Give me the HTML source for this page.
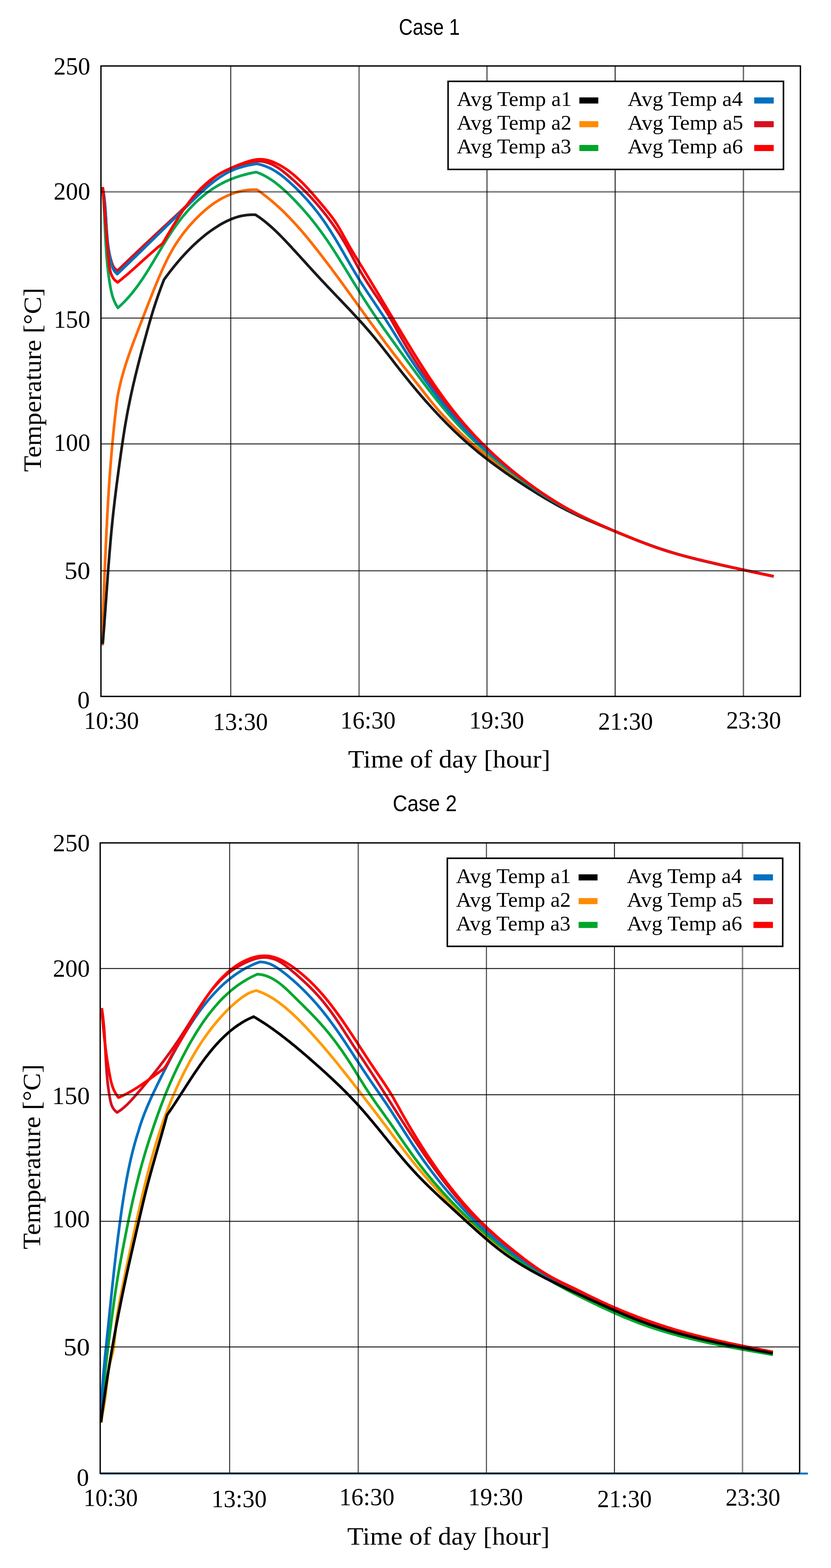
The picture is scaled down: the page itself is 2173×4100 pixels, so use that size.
<!DOCTYPE html>
<html><head><meta charset="utf-8"><title>Case 1 / Case 2</title>
<style>html,body{margin:0;padding:0;background:#fff;overflow:hidden;} svg{display:block;} text{fill:#000;}</style>
</head><body>
<svg width="2173" height="4100" viewBox="0 0 2173 4100">
<rect width="2173" height="4100" fill="#fff"/>
<path d="M267.9,1688.0 C268.0,1684.0 268.0,1680.0 268.1,1676.0 C268.1,1672.0 268.2,1668.0 268.3,1664.0 C268.3,1660.0 268.4,1656.0 268.5,1652.0 C268.6,1648.0 268.7,1644.0 268.8,1640.0 C268.9,1636.1 269.0,1632.1 269.1,1628.1 C269.2,1624.1 269.3,1620.1 269.4,1616.1 C269.5,1612.1 269.6,1608.1 269.8,1604.1 C269.9,1600.1 270.0,1596.1 270.1,1592.1 C270.3,1588.1 270.4,1584.1 270.5,1580.1 C270.7,1576.1 270.8,1572.1 270.9,1568.1 C271.1,1564.1 271.2,1560.1 271.4,1556.1 C271.5,1552.1 271.7,1548.1 271.8,1544.1 C272.0,1540.1 272.1,1536.1 272.3,1532.1 C272.4,1528.1 272.6,1524.1 272.8,1520.1 C272.9,1516.1 273.1,1512.1 273.2,1508.2 C273.4,1504.2 273.6,1500.2 273.7,1496.2 C273.9,1492.2 274.1,1488.2 274.2,1484.2 C274.4,1480.2 274.6,1476.2 274.7,1472.2 C274.9,1468.2 275.1,1464.2 275.2,1460.2 C275.4,1456.2 275.6,1452.2 275.8,1448.2 C275.9,1444.2 276.1,1440.2 276.3,1436.2 C276.5,1432.2 276.6,1428.2 276.8,1424.2 C277.0,1420.2 277.2,1416.2 277.4,1412.3 C277.6,1408.3 277.7,1404.3 277.9,1400.3 C278.1,1396.3 278.3,1392.3 278.5,1388.3 C278.7,1384.3 278.9,1380.3 279.1,1376.3 C279.3,1372.3 279.5,1368.3 279.7,1364.3 C279.9,1360.3 280.1,1356.3 280.3,1352.4 C280.5,1348.4 280.8,1344.4 281.0,1340.4 C281.2,1336.4 281.4,1332.4 281.6,1328.4 C281.9,1324.4 282.1,1320.4 282.3,1316.4 C282.6,1312.4 282.8,1308.4 283.0,1304.5 C283.3,1300.5 283.5,1296.5 283.8,1292.5 C284.0,1288.5 284.3,1284.5 284.5,1280.5 C284.8,1276.5 285.1,1272.5 285.3,1268.6 C285.6,1264.6 285.9,1260.6 286.1,1256.6 C286.4,1252.6 286.7,1248.6 287.0,1244.6 C287.3,1240.6 287.6,1236.7 287.8,1232.7 C288.1,1228.7 288.4,1224.7 288.8,1220.7 C289.1,1216.7 289.4,1212.7 289.7,1208.8 C290.0,1204.8 290.3,1200.8 290.7,1196.8 C291.0,1192.8 291.3,1188.8 291.7,1184.9 C292.0,1180.9 292.3,1176.9 292.7,1172.9 C293.0,1168.9 293.4,1164.9 293.8,1161.0 C294.1,1157.0 294.5,1153.0 294.9,1149.0 C295.3,1145.0 295.6,1141.1 296.0,1137.1 C296.4,1133.1 296.8,1129.1 297.2,1125.2 C297.6,1121.2 298.0,1117.2 298.4,1113.2 C298.9,1109.2 299.3,1105.3 299.7,1101.3 C300.1,1097.3 300.6,1093.3 301.0,1089.4 C301.5,1085.4 301.9,1081.4 302.4,1077.4 C302.8,1073.5 303.3,1069.5 303.8,1065.5 C304.2,1061.6 304.7,1057.6 305.2,1053.6 C305.7,1049.6 306.2,1045.7 306.7,1041.7 C307.4,1037.8 308.1,1033.8 308.8,1029.9 C309.6,1026.0 310.4,1022.1 311.2,1018.2 C312.0,1014.4 312.9,1010.5 313.8,1006.7 C314.7,1002.8 315.7,999.0 316.6,995.1 C317.6,991.3 318.6,987.5 319.7,983.7 C320.7,979.9 321.8,976.1 322.9,972.3 C324.0,968.5 325.1,964.7 326.3,961.0 C327.4,957.2 328.6,953.4 329.8,949.7 C331.0,945.9 332.2,942.2 333.5,938.4 C334.7,934.7 336.0,931.0 337.3,927.3 C338.6,923.5 339.9,919.8 341.2,916.1 C342.6,912.4 343.9,908.7 345.3,905.0 C346.6,901.2 348.0,897.5 349.4,893.8 C350.8,890.1 352.2,886.4 353.6,882.7 C355.0,879.0 356.4,875.4 357.8,871.7 C359.2,868.0 360.7,864.3 362.1,860.6 C363.5,856.9 365.0,853.2 366.4,849.5 C367.8,845.8 369.3,842.1 370.7,838.4 C372.1,834.7 373.6,831.0 375.0,827.3 C376.4,823.5 377.9,819.8 379.3,816.1 C380.8,812.4 382.2,808.7 383.6,805.0 C385.1,801.3 386.5,797.6 388.0,793.9 C389.4,790.2 390.9,786.5 392.3,782.8 C393.8,779.1 395.2,775.4 396.7,771.7 C398.2,768.0 399.6,764.3 401.1,760.6 C402.6,756.9 404.1,753.3 405.6,749.6 C407.1,745.9 408.6,742.3 410.1,738.6 C411.6,735.0 413.2,731.3 414.7,727.7 C416.2,724.1 417.8,720.5 419.4,716.9 C420.9,713.3 422.5,709.7 424.1,706.1 C425.7,702.5 427.3,699.0 429.0,695.4 C430.6,691.9 432.3,688.3 434.0,684.8 C435.7,681.3 437.5,677.8 439.2,674.3 C441.0,670.8 442.8,667.4 444.7,663.9 C446.6,660.5 448.5,657.1 450.4,653.7 C452.4,650.3 454.4,646.9 456.4,643.5 C458.5,640.2 460.6,636.8 462.8,633.5 C465.0,630.2 467.2,626.9 469.5,623.7 C471.8,620.4 474.1,617.2 476.5,614.0 C478.9,610.8 481.3,607.6 483.8,604.5 C486.3,601.4 488.8,598.3 491.4,595.2 C493.9,592.2 496.6,589.1 499.2,586.2 C501.9,583.2 504.6,580.2 507.3,577.3 C510.1,574.4 512.8,571.6 515.7,568.8 C518.5,566.0 521.3,563.2 524.2,560.5 C527.1,557.8 530.0,555.1 533.0,552.5 C535.9,549.9 538.9,547.3 542.0,544.8 C545.0,542.3 548.1,539.9 551.2,537.6 C554.4,535.2 557.6,532.9 560.8,530.7 C564.1,528.5 567.4,526.3 570.7,524.3 C574.1,522.2 577.5,520.3 580.9,518.4 C584.4,516.5 587.9,514.8 591.5,513.1 C595.1,511.4 598.7,509.8 602.4,508.4 C606.0,506.9 609.8,505.5 613.5,504.3 C617.3,503.1 621.0,502.0 624.9,501.0 C628.7,500.0 632.5,499.2 636.4,498.4 C640.3,497.7 644.2,497.2 648.2,496.7 C652.1,496.3 656.1,496.0 660.0,495.9 C664.0,495.8 668.0,496.0 672.0,496.0 C675.3,498.3 678.6,500.6 681.8,503.0 C685.1,505.3 688.3,507.7 691.4,510.2 C694.6,512.6 697.7,515.1 700.8,517.6 C704.0,520.1 707.0,522.6 710.1,525.2 C713.1,527.7 716.1,530.3 719.1,533.0 C722.1,535.6 725.1,538.3 728.0,540.9 C730.9,543.6 733.8,546.3 736.7,549.1 C739.6,551.8 742.5,554.6 745.3,557.4 C748.1,560.2 750.9,563.0 753.7,565.9 C756.5,568.7 759.2,571.6 762.0,574.5 C764.7,577.4 767.4,580.3 770.1,583.2 C772.8,586.1 775.5,589.1 778.2,592.1 C780.8,595.0 783.4,598.0 786.1,601.0 C788.7,604.0 791.3,607.1 793.9,610.1 C796.5,613.2 799.0,616.2 801.6,619.3 C804.1,622.3 806.7,625.4 809.2,628.5 C811.7,631.6 814.2,634.7 816.7,637.8 C819.2,640.9 821.7,644.1 824.2,647.2 C826.7,650.3 829.1,653.5 831.6,656.6 C834.0,659.8 836.5,662.9 838.9,666.1 C841.4,669.3 843.8,672.4 846.2,675.6 C848.6,678.8 851.1,681.9 853.5,685.1 C855.9,688.3 858.3,691.5 860.7,694.7 C863.1,697.8 865.5,701.0 867.8,704.2 C870.2,707.4 872.6,710.6 875.0,713.8 C877.3,717.0 879.7,720.2 882.1,723.4 C884.4,726.6 886.8,729.8 889.1,733.1 C891.5,736.3 893.8,739.5 896.2,742.7 C898.5,745.9 900.9,749.1 903.2,752.4 C905.6,755.6 907.9,758.8 910.2,762.0 C912.6,765.2 914.9,768.5 917.2,771.7 C919.6,774.9 921.9,778.1 924.2,781.4 C926.5,784.6 928.9,787.8 931.2,791.0 C933.5,794.3 935.9,797.5 938.2,800.7 C940.5,804.0 942.8,807.2 945.2,810.4 C947.5,813.6 949.8,816.9 952.2,820.1 C954.5,823.3 956.8,826.6 959.2,829.8 C961.5,833.0 963.8,836.2 966.2,839.5 C968.5,842.7 970.8,845.9 973.2,849.1 C975.5,852.4 977.9,855.6 980.2,858.8 C982.6,862.0 984.9,865.2 987.3,868.4 C989.7,871.6 992.0,874.9 994.4,878.1 C996.8,881.3 999.1,884.5 1001.5,887.7 C1003.9,890.9 1006.3,894.1 1008.7,897.3 C1011.1,900.5 1013.5,903.7 1015.9,906.9 C1018.3,910.1 1020.7,913.2 1023.1,916.4 C1025.5,919.6 1027.9,922.8 1030.4,926.0 C1032.8,929.1 1035.2,932.3 1037.7,935.5 C1040.1,938.6 1042.6,941.8 1045.0,944.9 C1047.5,948.1 1050.0,951.3 1052.4,954.4 C1054.9,957.6 1057.4,960.7 1059.8,963.9 C1062.3,967.0 1064.8,970.1 1067.3,973.3 C1069.7,976.4 1072.2,979.6 1074.7,982.7 C1077.1,985.8 1079.6,989.0 1082.1,992.1 C1084.6,995.2 1087.0,998.4 1089.5,1001.5 C1091.9,1004.6 1094.4,1007.8 1096.8,1010.9 C1099.3,1014.0 1101.7,1017.2 1104.2,1020.3 C1106.6,1023.4 1109.0,1026.5 1111.5,1029.7 C1113.9,1032.8 1116.4,1035.9 1118.8,1039.0 C1121.3,1042.1 1123.8,1045.2 1126.2,1048.3 C1128.7,1051.4 1131.2,1054.5 1133.8,1057.5 C1136.3,1060.6 1138.9,1063.6 1141.5,1066.7 C1144.0,1069.7 1146.7,1072.7 1149.3,1075.7 C1152.0,1078.7 1154.6,1081.7 1157.3,1084.6 C1160.0,1087.6 1162.7,1090.5 1165.5,1093.5 C1168.2,1096.4 1170.9,1099.3 1173.7,1102.2 C1176.5,1105.1 1179.3,1107.9 1182.1,1110.8 C1184.9,1113.6 1187.8,1116.5 1190.6,1119.3 C1193.5,1122.1 1196.3,1124.9 1199.2,1127.6 C1202.1,1130.4 1205.0,1133.1 1207.9,1135.8 C1210.8,1138.6 1213.8,1141.3 1216.7,1143.9 C1219.6,1146.6 1222.6,1149.3 1225.5,1151.9 C1228.5,1154.6 1231.5,1157.2 1234.5,1159.8 C1237.5,1162.4 1240.5,1165.0 1243.5,1167.5 C1246.5,1170.1 1249.5,1172.6 1252.6,1175.2 C1255.6,1177.7 1258.6,1180.2 1261.7,1182.7 C1264.8,1185.2 1267.9,1187.7 1270.9,1190.2 C1274.0,1192.6 1277.1,1195.1 1280.2,1197.6 C1283.4,1200.0 1286.5,1202.4 1289.6,1204.9 C1292.7,1207.3 1295.9,1209.7 1299.0,1212.1 C1302.2,1214.5 1305.4,1216.9 1308.6,1219.3 C1311.7,1221.7 1314.9,1224.0 1318.1,1226.4 C1321.3,1228.8 1324.5,1231.1 1327.8,1233.5 C1331.0,1235.9 1334.2,1238.2 1337.5,1240.5 C1340.7,1242.9 1344.0,1245.2 1347.2,1247.6 C1350.5,1249.9 1353.8,1252.2 1357.1,1254.5 C1360.4,1256.9 1363.7,1259.2 1367.0,1261.5 C1370.3,1263.8 1373.6,1266.1 1376.9,1268.3 C1380.3,1270.6 1383.6,1272.9 1386.9,1275.1 C1390.3,1277.4 1393.6,1279.6 1397.0,1281.8 C1400.4,1284.1 1403.7,1286.3 1407.1,1288.5 C1410.5,1290.7 1413.9,1292.8 1417.3,1295.0 C1420.7,1297.1 1424.1,1299.3 1427.6,1301.4 C1431.0,1303.5 1434.4,1305.6 1437.9,1307.6 C1441.3,1309.7 1444.7,1311.7 1448.2,1313.7 C1451.7,1315.8 1455.1,1317.7 1458.6,1319.7 C1462.1,1321.7 1465.6,1323.6 1469.1,1325.5 C1472.5,1327.4 1476.0,1329.3 1479.6,1331.1 C1483.1,1333.0 1486.6,1334.8 1490.1,1336.6 C1493.6,1338.4 1497.2,1340.1 1500.7,1341.9 C1504.3,1343.6 1507.8,1345.3 1511.4,1347.0 C1514.9,1348.7 1518.5,1350.4 1522.1,1352.0 C1525.6,1353.7 1529.2,1355.3 1532.8,1357.0 C1536.4,1358.6 1540.0,1360.2 1543.6,1361.8 C1547.2,1363.4 1550.8,1365.0 1554.4,1366.6 C1558.0,1368.2 1561.6,1369.8 1565.3,1371.3 C1568.9,1372.9 1572.5,1374.5 1576.2,1376.1 C1579.8,1377.6 1583.5,1379.2 1587.1,1380.8 C1590.8,1382.3 1594.5,1383.9 1598.1,1385.4 C1601.8,1387.0 1605.5,1388.5 1609.2,1390.1 C1612.8,1391.6 1616.5,1393.1 1620.2,1394.7 C1623.9,1396.2 1627.6,1397.7 1631.3,1399.2 C1635.0,1400.7 1638.7,1402.2 1642.5,1403.7 C1646.2,1405.2 1649.9,1406.6 1653.6,1408.1 C1657.4,1409.5 1661.1,1411.0 1664.8,1412.4 C1668.6,1413.9 1672.3,1415.3 1676.1,1416.7 C1679.8,1418.1 1683.6,1419.5 1687.3,1420.9 C1691.1,1422.3 1694.9,1423.6 1698.6,1425.0 C1702.4,1426.3 1706.2,1427.6 1710.0,1429.0 C1713.7,1430.3 1717.5,1431.6 1721.3,1432.9 C1725.1,1434.1 1728.9,1435.4 1732.7,1436.6 C1736.5,1437.9 1740.3,1439.1 1744.1,1440.3 C1747.9,1441.5 1751.7,1442.7 1755.5,1443.8 C1759.3,1445.0 1763.2,1446.1 1767.0,1447.3 C1770.8,1448.4 1774.6,1449.5 1778.5,1450.6 C1782.3,1451.7 1786.1,1452.7 1790.0,1453.8 C1793.8,1454.9 1797.6,1455.9 1801.5,1456.9 C1805.3,1458.0 1809.2,1459.0 1813.0,1460.0 C1816.9,1461.0 1820.7,1462.0 1824.6,1462.9 C1828.4,1463.9 1832.3,1464.9 1836.2,1465.8 C1840.0,1466.8 1843.9,1467.7 1847.8,1468.6 C1851.6,1469.6 1855.5,1470.5 1859.4,1471.4 C1863.2,1472.3 1867.1,1473.2 1871.0,1474.1 C1874.9,1475.0 1878.7,1475.9 1882.6,1476.7 C1886.5,1477.6 1890.4,1478.5 1894.3,1479.3 C1898.2,1480.2 1902.1,1481.1 1905.9,1481.9 C1909.8,1482.8 1913.7,1483.6 1917.6,1484.4 C1921.5,1485.3 1925.4,1486.1 1929.3,1487.0 C1933.2,1487.8 1937.1,1488.6 1941.0,1489.5 C1944.9,1490.3 1948.8,1491.1 1952.7,1491.9 C1956.6,1492.8 1960.5,1493.6 1964.4,1494.4 C1968.3,1495.3 1972.2,1496.1 1976.1,1496.9 C1980.0,1497.7 1983.9,1498.6 1987.8,1499.4 C1991.7,1500.2 1995.6,1501.1 1999.6,1501.9 C2003.5,1502.8 2007.4,1503.6 2011.3,1504.4 C2015.2,1505.3 2019.1,1506.1 2023.0,1507.0" fill="none" stroke="#FF6A00" stroke-width="7" stroke-linejoin="round" stroke-linecap="butt"/>
<path d="M268.6,1684.0 C268.9,1680.0 269.3,1676.1 269.6,1672.1 C269.9,1668.1 270.2,1664.2 270.5,1660.2 C270.8,1656.2 271.1,1652.2 271.5,1648.3 C271.8,1644.3 272.1,1640.3 272.4,1636.3 C272.7,1632.4 273.0,1628.4 273.2,1624.4 C273.5,1620.4 273.8,1616.5 274.1,1612.5 C274.4,1608.5 274.7,1604.5 275.0,1600.6 C275.3,1596.6 275.6,1592.6 275.9,1588.6 C276.1,1584.6 276.4,1580.7 276.7,1576.7 C277.0,1572.7 277.3,1568.7 277.6,1564.7 C277.8,1560.8 278.1,1556.8 278.4,1552.8 C278.7,1548.8 279.0,1544.8 279.3,1540.8 C279.5,1536.9 279.8,1532.9 280.1,1528.9 C280.4,1524.9 280.7,1520.9 281.0,1516.9 C281.3,1513.0 281.6,1509.0 281.8,1505.0 C282.1,1501.0 282.4,1497.0 282.7,1493.0 C283.0,1489.1 283.3,1485.1 283.6,1481.1 C283.9,1477.1 284.2,1473.1 284.6,1469.1 C284.9,1465.2 285.2,1461.2 285.5,1457.2 C285.8,1453.2 286.1,1449.2 286.5,1445.2 C286.8,1441.3 287.1,1437.3 287.5,1433.3 C287.8,1429.3 288.1,1425.3 288.5,1421.3 C288.8,1417.4 289.2,1413.4 289.5,1409.4 C289.9,1405.4 290.2,1401.4 290.6,1397.5 C291.0,1393.5 291.3,1389.5 291.7,1385.5 C292.1,1381.5 292.5,1377.6 292.9,1373.6 C293.3,1369.6 293.7,1365.6 294.1,1361.6 C294.5,1357.7 294.9,1353.7 295.3,1349.7 C295.8,1345.7 296.2,1341.7 296.6,1337.8 C297.1,1333.8 297.5,1329.8 298.0,1325.8 C298.4,1321.9 298.9,1317.9 299.4,1313.9 C299.8,1310.0 300.3,1306.0 300.8,1302.0 C301.3,1298.0 301.7,1294.1 302.2,1290.1 C302.7,1286.1 303.2,1282.2 303.7,1278.2 C304.2,1274.2 304.7,1270.3 305.2,1266.3 C305.8,1262.3 306.3,1258.4 306.8,1254.4 C307.3,1250.4 307.8,1246.5 308.4,1242.5 C308.9,1238.6 309.4,1234.6 310.0,1230.6 C310.5,1226.7 311.0,1222.7 311.6,1218.8 C312.1,1214.8 312.7,1210.9 313.2,1206.9 C313.8,1202.9 314.3,1199.0 314.9,1195.0 C315.4,1191.1 316.0,1187.1 316.5,1183.2 C317.1,1179.2 317.7,1175.3 318.2,1171.3 C318.8,1167.4 319.4,1163.5 320.0,1159.5 C320.5,1155.6 321.1,1151.6 321.7,1147.7 C322.3,1143.8 322.9,1139.8 323.5,1135.9 C324.2,1131.9 324.8,1128.0 325.4,1124.1 C326.0,1120.1 326.7,1116.2 327.3,1112.3 C328.0,1108.4 328.7,1104.4 329.4,1100.5 C330.0,1096.6 330.7,1092.6 331.5,1088.7 C332.2,1084.8 332.9,1080.9 333.6,1077.0 C334.4,1073.0 335.1,1069.1 335.9,1065.2 C336.7,1061.3 337.5,1057.4 338.3,1053.5 C339.1,1049.6 339.9,1045.7 340.7,1041.8 C341.5,1037.8 342.4,1033.9 343.2,1030.0 C344.1,1026.1 344.9,1022.2 345.8,1018.3 C346.7,1014.4 347.5,1010.5 348.4,1006.6 C349.3,1002.8 350.2,998.9 351.2,995.0 C352.1,991.1 353.0,987.2 353.9,983.3 C354.9,979.4 355.8,975.6 356.8,971.7 C357.7,967.8 358.7,963.9 359.7,960.0 C360.6,956.2 361.6,952.3 362.6,948.4 C363.6,944.6 364.6,940.7 365.6,936.8 C366.6,933.0 367.6,929.1 368.6,925.2 C369.6,921.4 370.7,917.5 371.7,913.7 C372.7,909.8 373.7,906.0 374.8,902.1 C375.8,898.3 376.9,894.4 377.9,890.6 C379.0,886.7 380.0,882.9 381.1,879.1 C382.1,875.2 383.2,871.4 384.2,867.6 C385.3,863.7 386.4,859.9 387.5,856.1 C388.5,852.2 389.6,848.4 390.7,844.6 C391.8,840.8 392.9,837.0 394.0,833.2 C395.2,829.3 396.3,825.5 397.4,821.7 C398.6,817.9 399.8,814.1 400.9,810.3 C402.1,806.5 403.3,802.7 404.6,798.9 C405.8,795.1 407.0,791.3 408.3,787.6 C409.6,783.8 410.9,780.0 412.2,776.2 C413.5,772.4 414.8,768.6 416.2,764.9 C417.6,761.1 418.9,757.3 420.3,753.6 C421.7,749.8 423.2,746.0 424.6,742.3 C426.0,738.5 427.5,734.8 429.0,731.0 C431.3,727.9 433.5,724.8 435.8,721.7 C438.1,718.6 440.5,715.6 442.8,712.5 C445.2,709.4 447.6,706.4 450.0,703.3 C452.4,700.3 454.8,697.2 457.3,694.2 C459.8,691.2 462.3,688.2 464.8,685.2 C467.3,682.3 469.9,679.3 472.4,676.4 C475.0,673.4 477.6,670.5 480.3,667.6 C482.9,664.7 485.6,661.8 488.3,659.0 C491.0,656.2 493.7,653.4 496.5,650.6 C499.3,647.8 502.1,645.0 504.9,642.3 C507.7,639.6 510.6,636.9 513.5,634.3 C516.4,631.6 519.3,629.0 522.3,626.5 C525.2,623.9 528.2,621.4 531.3,618.9 C534.3,616.4 537.3,614.0 540.4,611.6 C543.5,609.2 546.7,606.8 549.8,604.5 C553.0,602.2 556.2,600.0 559.4,597.8 C562.7,595.6 566.0,593.4 569.3,591.4 C572.6,589.3 575.9,587.3 579.3,585.4 C582.7,583.4 586.1,581.6 589.6,579.8 C593.0,578.1 596.5,576.4 600.1,574.9 C603.6,573.4 607.2,571.9 610.8,570.6 C614.4,569.3 618.1,568.1 621.7,567.0 C625.4,566.0 629.2,565.0 632.9,564.3 C636.7,563.5 640.5,562.8 644.4,562.4 C648.2,561.9 652.1,561.6 656.1,561.4 C660.0,561.3 664.0,561.5 668.0,561.5 C671.3,563.7 674.7,565.9 678.0,568.2 C681.3,570.5 684.5,572.9 687.6,575.3 C690.8,577.7 693.9,580.2 697.0,582.8 C700.1,585.3 703.1,587.9 706.1,590.5 C709.1,593.1 712.1,595.8 715.0,598.5 C717.9,601.2 720.8,603.9 723.7,606.7 C726.5,609.4 729.4,612.2 732.2,615.1 C735.0,617.9 737.8,620.7 740.5,623.6 C743.3,626.5 746.1,629.4 748.8,632.3 C751.5,635.2 754.3,638.1 757.0,641.0 C759.7,643.9 762.4,646.9 765.1,649.8 C767.8,652.8 770.5,655.7 773.2,658.6 C775.9,661.6 778.6,664.5 781.3,667.5 C784.0,670.4 786.6,673.4 789.3,676.3 C792.0,679.3 794.7,682.2 797.4,685.2 C800.1,688.2 802.8,691.1 805.4,694.1 C808.1,697.0 810.8,700.0 813.5,702.9 C816.2,705.9 818.9,708.8 821.6,711.8 C824.3,714.7 827.0,717.6 829.7,720.6 C832.4,723.5 835.1,726.4 837.8,729.4 C840.5,732.3 843.3,735.2 846.0,738.1 C848.7,741.0 851.5,743.9 854.2,746.8 C857.0,749.8 859.7,752.6 862.5,755.5 C865.2,758.4 868.0,761.3 870.7,764.2 C873.5,767.1 876.2,770.0 879.0,772.9 C881.8,775.8 884.5,778.7 887.3,781.5 C890.0,784.4 892.8,787.3 895.6,790.2 C898.3,793.1 901.1,796.0 903.8,798.9 C906.6,801.8 909.3,804.7 912.1,807.6 C914.8,810.5 917.5,813.4 920.3,816.3 C923.0,819.2 925.7,822.1 928.4,825.1 C931.1,828.0 933.8,830.9 936.5,833.9 C939.2,836.8 941.9,839.7 944.6,842.7 C947.2,845.7 949.9,848.6 952.6,851.6 C955.2,854.6 957.8,857.6 960.5,860.6 C963.1,863.6 965.7,866.6 968.3,869.6 C970.9,872.7 973.4,875.7 976.0,878.7 C978.6,881.8 981.1,884.9 983.6,888.0 C986.2,891.0 988.7,894.1 991.2,897.2 C993.7,900.3 996.2,903.5 998.6,906.6 C1001.1,909.7 1003.6,912.8 1006.0,916.0 C1008.5,919.1 1011.0,922.3 1013.4,925.4 C1015.9,928.6 1018.3,931.7 1020.8,934.9 C1023.2,938.0 1025.6,941.2 1028.1,944.3 C1030.5,947.5 1033.0,950.6 1035.4,953.8 C1037.9,957.0 1040.3,960.1 1042.8,963.3 C1045.3,966.4 1047.7,969.6 1050.2,972.7 C1052.7,975.8 1055.2,979.0 1057.7,982.1 C1060.2,985.2 1062.7,988.3 1065.2,991.4 C1067.7,994.6 1070.2,997.7 1072.7,1000.8 C1075.3,1003.9 1077.8,1006.9 1080.4,1010.0 C1082.9,1013.1 1085.5,1016.2 1088.1,1019.2 C1090.6,1022.3 1093.2,1025.4 1095.8,1028.4 C1098.4,1031.5 1101.0,1034.5 1103.6,1037.5 C1106.2,1040.5 1108.9,1043.6 1111.5,1046.6 C1114.1,1049.6 1116.8,1052.6 1119.4,1055.5 C1122.1,1058.5 1124.8,1061.5 1127.5,1064.5 C1130.1,1067.4 1132.8,1070.4 1135.6,1073.3 C1138.3,1076.2 1141.0,1079.2 1143.7,1082.1 C1146.4,1085.0 1149.2,1087.9 1151.9,1090.8 C1154.7,1093.6 1157.5,1096.5 1160.3,1099.4 C1163.0,1102.2 1165.8,1105.1 1168.7,1107.9 C1171.5,1110.7 1174.3,1113.5 1177.1,1116.3 C1180.0,1119.1 1182.8,1121.9 1185.7,1124.7 C1188.5,1127.4 1191.4,1130.2 1194.3,1132.9 C1197.2,1135.7 1200.1,1138.4 1203.0,1141.1 C1206.0,1143.8 1208.9,1146.5 1211.9,1149.1 C1214.8,1151.8 1217.8,1154.4 1220.8,1157.1 C1223.8,1159.7 1226.8,1162.3 1229.8,1164.9 C1232.8,1167.5 1235.8,1170.1 1238.9,1172.6 C1241.9,1175.2 1245.0,1177.7 1248.0,1180.2 C1251.1,1182.8 1254.2,1185.3 1257.3,1187.8 C1260.4,1190.2 1263.5,1192.7 1266.7,1195.2 C1269.8,1197.6 1272.9,1200.1 1276.1,1202.5 C1279.2,1204.9 1282.4,1207.3 1285.6,1209.7 C1288.8,1212.1 1292.0,1214.5 1295.2,1216.9 C1298.4,1219.2 1301.6,1221.6 1304.9,1223.9 C1308.1,1226.2 1311.3,1228.6 1314.6,1230.9 C1317.9,1233.2 1321.1,1235.5 1324.4,1237.8 C1327.7,1240.0 1331.0,1242.3 1334.3,1244.6 C1337.6,1246.8 1340.9,1249.1 1344.2,1251.3 C1347.5,1253.6 1350.9,1255.8 1354.2,1258.0 C1357.6,1260.2 1360.9,1262.4 1364.3,1264.6 C1367.6,1266.8 1371.0,1269.0 1374.4,1271.2 C1377.8,1273.3 1381.2,1275.5 1384.6,1277.7 C1388.0,1279.8 1391.4,1282.0 1394.8,1284.1 C1398.2,1286.2 1401.6,1288.4 1405.0,1290.5 C1408.5,1292.6 1411.9,1294.7 1415.4,1296.8 C1418.8,1298.9 1422.3,1300.9 1425.7,1303.0 C1429.2,1305.0 1432.7,1307.1 1436.1,1309.1 C1439.6,1311.1 1443.1,1313.1 1446.6,1315.0 C1450.1,1317.0 1453.6,1318.9 1457.1,1320.9 C1460.6,1322.8 1464.1,1324.7 1467.7,1326.6 C1471.2,1328.4 1474.7,1330.3 1478.3,1332.1 C1481.8,1333.9 1485.4,1335.7 1488.9,1337.4 C1492.5,1339.2 1496.0,1340.9 1499.6,1342.7 C1503.2,1344.4 1506.7,1346.1 1510.3,1347.7 C1513.9,1349.4 1517.5,1351.0 1521.1,1352.7 C1524.7,1354.3 1528.3,1355.9 1531.9,1357.5 C1535.5,1359.1 1539.1,1360.7 1542.8,1362.3 C1546.4,1363.8 1550.0,1365.4 1553.6,1366.9 C1557.3,1368.5 1560.9,1370.0 1564.6,1371.5 C1568.2,1373.1 1571.9,1374.6 1575.5,1376.1 C1579.2,1377.6 1582.9,1379.1 1586.5,1380.6 C1590.2,1382.1 1593.9,1383.6 1597.6,1385.1 C1601.2,1386.6 1604.9,1388.1 1608.6,1389.6 C1612.3,1391.1 1616.0,1392.6 1619.7,1394.1 C1623.4,1395.6 1627.2,1397.1 1630.9,1398.6 C1634.6,1400.1 1638.3,1401.6 1642.0,1403.0 C1645.8,1404.5 1649.5,1406.0 1653.2,1407.5 C1657.0,1409.0 1660.7,1410.4 1664.5,1411.9 C1668.2,1413.3 1672.0,1414.8 1675.7,1416.2 C1679.5,1417.6 1683.2,1419.1 1687.0,1420.5 C1690.8,1421.9 1694.5,1423.3 1698.3,1424.7 C1702.1,1426.0 1705.9,1427.4 1709.7,1428.7 C1713.4,1430.1 1717.2,1431.4 1721.0,1432.7 C1724.8,1434.0 1728.6,1435.3 1732.4,1436.6 C1736.2,1437.9 1740.0,1439.1 1743.8,1440.3 C1747.6,1441.6 1751.5,1442.8 1755.3,1443.9 C1759.1,1445.1 1762.9,1446.3 1766.7,1447.4 C1770.6,1448.5 1774.4,1449.6 1778.2,1450.7 C1782.1,1451.8 1785.9,1452.9 1789.7,1454.0 C1793.6,1455.0 1797.4,1456.1 1801.3,1457.1 C1805.1,1458.1 1808.9,1459.1 1812.8,1460.1 C1816.7,1461.1 1820.5,1462.1 1824.4,1463.1 C1828.2,1464.0 1832.1,1465.0 1835.9,1465.9 C1839.8,1466.9 1843.7,1467.8 1847.5,1468.7 C1851.4,1469.6 1855.3,1470.5 1859.2,1471.4 C1863.0,1472.3 1866.9,1473.2 1870.8,1474.1 C1874.7,1475.0 1878.6,1475.8 1882.4,1476.7 C1886.3,1477.6 1890.2,1478.4 1894.1,1479.3 C1898.0,1480.1 1901.9,1480.9 1905.8,1481.8 C1909.7,1482.6 1913.6,1483.5 1917.5,1484.3 C1921.3,1485.1 1925.2,1486.0 1929.1,1486.8 C1933.0,1487.6 1936.9,1488.4 1940.9,1489.3 C1944.8,1490.1 1948.7,1490.9 1952.6,1491.7 C1956.5,1492.6 1960.4,1493.4 1964.3,1494.2 C1968.2,1495.1 1972.1,1495.9 1976.0,1496.7 C1979.9,1497.6 1983.8,1498.4 1987.8,1499.2 C1991.7,1500.1 1995.6,1500.9 1999.5,1501.8 C2003.4,1502.6 2007.3,1503.5 2011.2,1504.4 C2015.2,1505.2 2019.1,1506.1 2023.0,1507.0" fill="none" stroke="#1a1a1a" stroke-width="7" stroke-linejoin="round" stroke-linecap="butt"/>
<path d="M268.3,490.0 C268.6,493.8 269.0,497.6 269.3,501.5 C269.6,505.3 269.9,509.2 270.1,513.0 C270.4,516.9 270.7,520.8 270.9,524.7 C271.2,528.6 271.4,532.5 271.6,536.4 C271.8,540.4 272.0,544.3 272.2,548.2 C272.4,552.2 272.6,556.2 272.8,560.1 C273.0,564.1 273.2,568.1 273.4,572.0 C273.6,576.0 273.7,580.0 273.9,584.0 C274.1,588.0 274.3,592.0 274.5,596.0 C274.7,600.0 274.8,604.0 275.0,608.0 C275.2,612.0 275.4,616.0 275.6,620.0 C275.8,624.0 276.0,628.0 276.3,632.0 C276.5,636.0 276.7,640.0 277.0,644.0 C277.2,648.0 277.5,652.0 277.7,656.0 C278.0,660.0 278.3,664.0 278.6,668.0 C278.9,671.9 279.2,675.9 279.6,679.9 C279.9,683.8 280.3,687.8 280.7,691.7 C281.1,695.7 281.5,699.6 281.9,703.5 C282.4,707.5 282.8,711.4 283.3,715.3 C283.8,719.2 284.3,723.1 284.9,726.9 C285.4,730.8 286.0,734.6 286.6,738.5 C287.2,742.3 287.9,746.1 288.6,749.9 C289.3,753.7 290.0,757.5 290.8,761.3 C291.7,765.0 292.6,768.8 293.6,772.5 C294.7,776.2 295.9,779.9 297.3,783.5 C298.7,787.2 300.3,790.8 302.1,794.4 C303.9,798.0 306.2,801.5 308.3,805.0 C311.3,802.3 314.3,799.6 317.3,796.8 C320.2,794.0 323.0,791.2 325.8,788.4 C328.6,785.5 331.3,782.6 333.9,779.6 C336.6,776.7 339.2,773.7 341.7,770.7 C344.3,767.7 346.8,764.6 349.2,761.5 C351.7,758.5 354.1,755.3 356.4,752.2 C358.8,749.0 361.1,745.8 363.4,742.6 C365.7,739.4 367.9,736.2 370.1,733.0 C372.3,729.7 374.5,726.4 376.7,723.1 C378.8,719.8 381.0,716.5 383.1,713.2 C385.2,709.9 387.3,706.5 389.3,703.2 C391.4,699.8 393.5,696.4 395.5,693.0 C397.6,689.7 399.6,686.3 401.6,682.9 C403.7,679.5 405.7,676.1 407.7,672.7 C409.7,669.2 411.8,665.8 413.8,662.4 C415.8,659.0 417.8,655.6 419.9,652.2 C421.9,648.8 424.0,645.4 426.0,642.0 C428.1,638.6 430.2,635.2 432.3,631.8 C434.4,628.4 436.5,625.1 438.6,621.7 C440.7,618.4 442.9,615.0 445.1,611.7 C447.3,608.4 449.5,605.1 451.7,601.8 C454.0,598.5 456.3,595.2 458.6,592.0 C460.9,588.7 463.2,585.5 465.6,582.3 C468.0,579.1 470.4,575.9 472.9,572.8 C475.4,569.6 477.9,566.5 480.4,563.4 C483.0,560.4 485.6,557.3 488.2,554.3 C490.8,551.3 493.5,548.3 496.2,545.4 C498.9,542.5 501.7,539.6 504.5,536.7 C507.3,533.9 510.1,531.1 513.0,528.3 C515.9,525.6 518.8,522.9 521.8,520.3 C524.8,517.6 527.8,515.0 530.8,512.5 C533.9,510.0 537.0,507.5 540.1,505.1 C543.3,502.7 546.4,500.4 549.7,498.1 C552.9,495.9 556.1,493.7 559.5,491.6 C562.8,489.4 566.1,487.4 569.5,485.4 C572.9,483.5 576.3,481.6 579.8,479.7 C583.3,477.9 586.8,476.2 590.3,474.5 C593.9,472.9 597.5,471.3 601.1,469.8 C604.8,468.2 608.4,466.8 612.1,465.4 C615.8,464.1 619.6,462.8 623.4,461.5 C627.1,460.3 630.9,459.2 634.8,458.1 C638.6,457.0 642.5,456.0 646.4,455.0 C650.3,454.0 654.2,453.1 658.1,452.3 C662.1,451.5 666.0,450.8 670.0,450.0 C673.6,451.4 677.3,452.7 680.9,454.3 C684.5,455.9 688.0,457.6 691.5,459.4 C695.0,461.2 698.4,463.2 701.7,465.2 C705.1,467.3 708.4,469.4 711.7,471.7 C715.0,473.9 718.2,476.3 721.4,478.7 C724.5,481.1 727.7,483.6 730.8,486.2 C733.9,488.8 736.9,491.4 739.9,494.1 C743.0,496.8 745.9,499.5 748.9,502.3 C751.9,505.0 754.8,507.9 757.7,510.7 C760.5,513.5 763.4,516.4 766.2,519.3 C769.1,522.2 771.9,525.1 774.6,528.0 C777.4,530.9 780.2,533.8 782.9,536.8 C785.6,539.7 788.3,542.7 791.0,545.7 C793.6,548.7 796.3,551.7 798.9,554.7 C801.5,557.7 804.1,560.8 806.7,563.8 C809.2,566.9 811.8,570.0 814.3,573.0 C816.8,576.1 819.3,579.2 821.7,582.4 C824.2,585.5 826.6,588.6 829.0,591.8 C831.4,595.0 833.8,598.1 836.2,601.3 C838.6,604.5 840.9,607.7 843.2,611.0 C845.5,614.2 847.8,617.4 850.1,620.7 C852.4,623.9 854.6,627.2 856.9,630.5 C859.1,633.8 861.3,637.1 863.5,640.4 C865.7,643.7 867.9,647.0 870.1,650.3 C872.2,653.7 874.4,657.0 876.5,660.4 C878.7,663.7 880.8,667.1 882.9,670.4 C885.1,673.8 887.2,677.2 889.3,680.6 C891.4,683.9 893.5,687.3 895.6,690.7 C897.7,694.1 899.8,697.5 901.9,700.9 C903.9,704.3 906.0,707.7 908.1,711.1 C910.2,714.6 912.3,718.0 914.4,721.4 C916.4,724.8 918.5,728.2 920.6,731.6 C922.7,735.1 924.8,738.5 926.9,741.9 C929.0,745.3 931.1,748.7 933.2,752.1 C935.3,755.5 937.4,759.0 939.5,762.4 C941.7,765.8 943.8,769.2 946.0,772.6 C948.1,776.0 950.3,779.4 952.4,782.8 C954.6,786.2 956.8,789.5 959.0,792.9 C961.1,796.3 963.3,799.7 965.5,803.0 C967.7,806.4 970.0,809.7 972.2,813.1 C974.4,816.4 976.6,819.7 978.9,823.1 C981.1,826.4 983.3,829.7 985.6,833.0 C987.8,836.3 990.1,839.6 992.4,842.9 C994.6,846.1 996.9,849.4 999.2,852.7 C1001.4,855.9 1003.7,859.2 1006.0,862.4 C1008.3,865.6 1010.6,868.9 1012.9,872.1 C1015.2,875.3 1017.5,878.6 1019.8,881.8 C1022.1,885.0 1024.5,888.2 1026.8,891.4 C1029.1,894.6 1031.4,897.8 1033.7,901.1 C1036.1,904.3 1038.4,907.5 1040.7,910.7 C1043.1,913.9 1045.4,917.1 1047.7,920.3 C1050.1,923.5 1052.4,926.8 1054.8,930.0 C1057.1,933.2 1059.5,936.4 1061.8,939.7 C1064.2,942.9 1066.5,946.1 1068.9,949.3 C1071.2,952.6 1073.6,955.8 1076.0,959.0 C1078.3,962.3 1080.7,965.5 1083.1,968.7 C1085.5,971.9 1087.9,975.2 1090.3,978.4 C1092.6,981.6 1095.0,984.8 1097.4,988.0 C1099.9,991.2 1102.3,994.5 1104.7,997.7 C1107.1,1000.9 1109.5,1004.1 1112.0,1007.3 C1114.4,1010.5 1116.8,1013.6 1119.3,1016.8 C1121.7,1020.0 1124.2,1023.2 1126.7,1026.3 C1129.2,1029.5 1131.6,1032.7 1134.1,1035.8 C1136.6,1039.0 1139.1,1042.1 1141.6,1045.2 C1144.1,1048.4 1146.7,1051.5 1149.2,1054.6 C1151.7,1057.7 1154.3,1060.8 1156.9,1063.9 C1159.4,1066.9 1162.0,1070.0 1164.6,1073.1 C1167.2,1076.1 1169.8,1079.2 1172.4,1082.2 C1175.0,1085.2 1177.6,1088.2 1180.3,1091.2 C1182.9,1094.2 1185.5,1097.2 1188.2,1100.2 C1190.9,1103.1 1193.6,1106.1 1196.3,1109.0 C1199.0,1111.9 1201.7,1114.9 1204.4,1117.7 C1207.2,1120.6 1209.9,1123.5 1212.7,1126.4 C1215.5,1129.2 1218.3,1132.0 1221.1,1134.8 C1223.9,1137.7 1226.7,1140.4 1229.5,1143.2 C1232.4,1146.0 1235.2,1148.7 1238.1,1151.5 C1241.0,1154.2 1243.9,1156.9 1246.8,1159.6 C1249.7,1162.3 1252.6,1165.0 1255.5,1167.6 C1258.5,1170.3 1261.4,1172.9 1264.4,1175.5 C1267.4,1178.1 1270.4,1180.8 1273.4,1183.3 C1276.4,1185.9 1279.4,1188.5 1282.4,1191.1 C1285.5,1193.6 1288.5,1196.2 1291.6,1198.7 C1294.7,1201.3 1297.7,1203.8 1300.8,1206.3 C1303.9,1208.8 1307.0,1211.3 1310.1,1213.8 C1313.3,1216.3 1316.4,1218.8 1319.5,1221.2 C1322.7,1223.7 1325.8,1226.1 1329.0,1228.6 C1332.2,1231.0 1335.4,1233.5 1338.5,1235.9 C1341.7,1238.3 1344.9,1240.8 1348.2,1243.2 C1351.4,1245.6 1354.6,1248.0 1357.9,1250.4 C1361.1,1252.8 1364.3,1255.2 1367.6,1257.6 C1370.9,1259.9 1374.2,1262.3 1377.4,1264.6 C1380.7,1267.0 1384.0,1269.3 1387.3,1271.6 C1390.6,1273.9 1394.0,1276.2 1397.3,1278.5 C1400.6,1280.8 1404.0,1283.1 1407.3,1285.3 C1410.7,1287.6 1414.0,1289.8 1417.4,1292.0 C1420.8,1294.2 1424.2,1296.4 1427.5,1298.6 C1430.9,1300.7 1434.3,1302.9 1437.8,1305.0 C1441.2,1307.1 1444.6,1309.2 1448.0,1311.3 C1451.5,1313.3 1454.9,1315.4 1458.4,1317.4 C1461.8,1319.4 1465.3,1321.4 1468.7,1323.4 C1472.2,1325.3 1475.7,1327.3 1479.2,1329.2 C1482.7,1331.1 1486.2,1332.9 1489.7,1334.8 C1493.2,1336.6 1496.7,1338.4 1500.2,1340.2 C1503.8,1342.0 1507.3,1343.8 1510.8,1345.6 C1514.4,1347.3 1517.9,1349.0 1521.5,1350.8 C1525.1,1352.5 1528.6,1354.2 1532.2,1355.8 C1535.8,1357.5 1539.4,1359.2 1543.0,1360.8 C1546.5,1362.5 1550.1,1364.1 1553.8,1365.7 C1557.4,1367.4 1561.0,1369.0 1564.6,1370.6 C1568.2,1372.2 1571.9,1373.8 1575.5,1375.4 C1579.1,1377.0 1582.8,1378.6 1586.4,1380.1 C1590.1,1381.7 1593.7,1383.3 1597.4,1384.9 C1601.1,1386.4 1604.8,1388.0 1608.4,1389.5 C1612.1,1391.1 1615.8,1392.6 1619.5,1394.1 C1623.2,1395.7 1626.9,1397.2 1630.6,1398.7 C1634.3,1400.2 1638.0,1401.7 1641.7,1403.2 C1645.5,1404.7 1649.2,1406.1 1652.9,1407.6 C1656.7,1409.1 1660.4,1410.5 1664.1,1412.0 C1667.9,1413.4 1671.6,1414.9 1675.4,1416.3 C1679.1,1417.7 1682.9,1419.1 1686.7,1420.5 C1690.4,1421.9 1694.2,1423.3 1698.0,1424.7 C1701.8,1426.1 1705.5,1427.4 1709.3,1428.8 C1713.1,1430.1 1716.9,1431.4 1720.7,1432.7 C1724.5,1434.0 1728.3,1435.3 1732.1,1436.6 C1735.9,1437.8 1739.7,1439.1 1743.5,1440.3 C1747.3,1441.5 1751.2,1442.7 1755.0,1443.9 C1758.8,1445.0 1762.6,1446.2 1766.5,1447.3 C1770.3,1448.5 1774.1,1449.6 1778.0,1450.7 C1781.8,1451.8 1785.7,1452.8 1789.5,1453.9 C1793.4,1455.0 1797.2,1456.0 1801.1,1457.0 C1804.9,1458.0 1808.8,1459.1 1812.6,1460.1 C1816.5,1461.0 1820.4,1462.0 1824.2,1463.0 C1828.1,1464.0 1832.0,1464.9 1835.8,1465.9 C1839.7,1466.8 1843.6,1467.7 1847.5,1468.6 C1851.3,1469.6 1855.2,1470.5 1859.1,1471.4 C1863.0,1472.3 1866.9,1473.1 1870.7,1474.0 C1874.6,1474.9 1878.5,1475.8 1882.4,1476.6 C1886.3,1477.5 1890.2,1478.4 1894.1,1479.2 C1898.0,1480.1 1901.9,1480.9 1905.8,1481.8 C1909.7,1482.6 1913.6,1483.4 1917.5,1484.3 C1921.4,1485.1 1925.3,1485.9 1929.2,1486.8 C1933.1,1487.6 1937.0,1488.4 1940.9,1489.3 C1944.8,1490.1 1948.7,1490.9 1952.6,1491.7 C1956.5,1492.6 1960.4,1493.4 1964.3,1494.2 C1968.3,1495.1 1972.2,1495.9 1976.1,1496.7 C1980.0,1497.6 1983.9,1498.4 1987.8,1499.2 C1991.7,1500.1 1995.6,1500.9 1999.5,1501.8 C2003.4,1502.6 2007.4,1503.5 2011.3,1504.4 C2015.2,1505.2 2019.1,1506.1 2023.0,1507.0" fill="none" stroke="#00A84F" stroke-width="7" stroke-linejoin="round" stroke-linecap="butt"/>
<path d="M268.3,490.0 C269.0,493.8 269.8,497.6 270.5,501.4 C271.1,505.3 271.7,509.1 272.2,513.0 C272.7,516.9 273.2,520.8 273.6,524.7 C274.0,528.7 274.4,532.6 274.7,536.6 C275.1,540.5 275.4,544.5 275.6,548.5 C275.9,552.5 276.2,556.5 276.4,560.5 C276.6,564.5 276.9,568.5 277.1,572.5 C277.3,576.6 277.5,580.6 277.7,584.6 C277.9,588.6 278.2,592.6 278.4,596.6 C278.7,600.7 278.9,604.7 279.2,608.7 C279.5,612.6 279.8,616.6 280.2,620.6 C280.6,624.6 280.9,628.5 281.4,632.5 C281.9,636.4 282.3,640.3 282.9,644.2 C283.5,648.1 284.1,652.0 284.8,655.8 C285.5,659.7 286.3,663.5 287.1,667.3 C288.0,671.1 288.9,674.9 289.9,678.6 C291.0,682.3 291.9,686.1 293.3,689.6 C294.7,693.2 296.1,696.8 298.3,699.9 C300.5,703.1 303.9,705.5 306.7,708.3 C309.6,705.5 312.5,702.7 315.4,699.9 C318.3,697.1 321.2,694.3 324.1,691.5 C327.0,688.7 329.9,686.0 332.8,683.2 C335.7,680.4 338.6,677.7 341.4,674.9 C344.3,672.2 347.2,669.4 350.1,666.7 C353.0,663.9 355.9,661.2 358.7,658.5 C361.6,655.7 364.5,653.0 367.4,650.3 C370.3,647.6 373.1,644.8 376.0,642.1 C378.9,639.4 381.8,636.7 384.7,634.0 C387.6,631.3 390.5,628.6 393.4,625.9 C396.2,623.1 399.1,620.4 402.0,617.7 C404.9,615.0 407.8,612.3 410.7,609.6 C413.6,606.9 416.6,604.2 419.5,601.5 C422.4,598.8 425.3,596.0 428.2,593.3 C431.2,590.6 434.1,587.9 437.0,585.2 C440.0,582.5 442.9,579.7 445.8,577.0 C448.8,574.3 451.7,571.5 454.7,568.8 C457.6,566.1 460.6,563.3 463.5,560.6 C466.4,557.8 469.4,555.1 472.3,552.3 C475.2,549.5 478.2,546.8 481.1,544.0 C484.0,541.2 486.8,538.4 489.7,535.6 C492.6,532.8 495.4,530.0 498.3,527.2 C501.1,524.4 503.9,521.6 506.7,518.7 C509.5,515.9 512.2,513.1 515.0,510.2 C517.7,507.4 520.5,504.5 523.2,501.6 C525.9,498.7 528.6,495.8 531.3,492.9 C534.0,490.0 536.7,487.1 539.5,484.3 C542.2,481.4 545.0,478.5 547.8,475.8 C550.7,473.0 553.5,470.3 556.5,467.7 C559.5,465.1 562.6,462.6 565.7,460.3 C568.9,457.9 572.2,455.7 575.5,453.7 C578.8,451.6 582.3,449.7 585.8,448.1 C589.3,446.4 592.9,445.0 596.5,443.6 C600.2,442.2 603.9,440.9 607.7,439.6 C611.5,438.2 615.4,436.7 619.2,435.3 C623.1,433.9 627.0,432.5 631.0,431.2 C634.9,429.8 638.9,428.5 642.9,427.4 C646.8,426.2 650.8,425.2 654.8,424.3 C658.7,423.5 662.7,422.7 666.6,422.3 C670.5,421.8 674.4,421.5 678.3,421.6 C682.1,421.7 685.9,422.1 689.6,422.7 C693.3,423.4 697.0,424.4 700.6,425.6 C704.3,426.8 707.8,428.3 711.4,429.9 C714.9,431.6 718.4,433.5 721.8,435.5 C725.2,437.5 728.6,439.7 731.9,442.0 C735.2,444.4 738.5,446.9 741.8,449.4 C745.0,451.9 748.2,454.5 751.4,457.2 C754.5,459.8 757.6,462.6 760.7,465.3 C763.8,468.0 766.8,470.7 769.8,473.4 C772.8,476.2 775.8,478.9 778.8,481.7 C781.7,484.4 784.6,487.2 787.4,490.0 C790.3,492.7 793.1,495.5 795.9,498.3 C798.7,501.1 801.5,504.0 804.3,506.8 C807.0,509.7 809.7,512.5 812.4,515.4 C815.1,518.3 817.7,521.2 820.4,524.2 C823.0,527.1 825.6,530.1 828.2,533.0 C830.8,536.0 833.3,539.0 835.9,542.1 C838.4,545.1 841.0,548.2 843.5,551.3 C846.0,554.4 848.4,557.5 850.9,560.7 C853.4,563.8 855.8,567.0 858.2,570.2 C860.6,573.4 863.0,576.7 865.4,579.9 C867.7,583.2 870.1,586.5 872.4,589.8 C874.7,593.1 877.0,596.4 879.2,599.7 C881.5,603.1 883.7,606.4 885.9,609.8 C888.0,613.1 890.2,616.5 892.3,619.9 C894.4,623.3 896.5,626.7 898.5,630.2 C900.6,633.6 902.6,637.0 904.5,640.4 C906.5,643.9 908.4,647.3 910.3,650.8 C912.2,654.2 914.1,657.7 916.0,661.1 C917.8,664.6 919.7,668.1 921.5,671.5 C923.4,675.0 925.2,678.5 927.1,681.9 C928.9,685.4 930.8,688.9 932.7,692.3 C934.6,695.8 936.5,699.2 938.5,702.7 C940.5,706.1 942.5,709.6 944.5,713.0 C946.6,716.5 948.6,719.9 950.8,723.3 C952.9,726.7 955.0,730.2 957.2,733.6 C959.4,737.0 961.5,740.4 963.8,743.8 C966.0,747.2 968.2,750.6 970.4,754.0 C972.7,757.4 974.9,760.8 977.2,764.2 C979.4,767.6 981.7,771.0 983.9,774.4 C986.1,777.7 988.4,781.1 990.6,784.5 C992.9,787.9 995.1,791.3 997.3,794.6 C999.5,798.0 1001.7,801.4 1003.8,804.8 C1006.0,808.2 1008.1,811.5 1010.2,814.9 C1012.3,818.3 1014.4,821.7 1016.4,825.1 C1018.4,828.4 1020.4,831.8 1022.4,835.2 C1024.3,838.6 1026.2,842.0 1028.1,845.4 C1030.0,848.8 1031.9,852.2 1033.8,855.6 C1035.6,858.9 1037.5,862.3 1039.4,865.7 C1041.3,869.2 1043.2,872.6 1045.1,876.0 C1047.1,879.4 1049.0,882.8 1051.0,886.2 C1053.0,889.6 1055.0,893.0 1057.0,896.4 C1059.0,899.8 1061.0,903.3 1063.0,906.7 C1065.1,910.1 1067.1,913.5 1069.2,916.9 C1071.3,920.3 1073.4,923.7 1075.5,927.1 C1077.6,930.5 1079.7,933.9 1081.9,937.3 C1084.0,940.7 1086.2,944.1 1088.3,947.5 C1090.5,950.8 1092.7,954.2 1094.9,957.6 C1097.1,961.0 1099.4,964.3 1101.6,967.7 C1103.8,971.0 1106.1,974.4 1108.4,977.7 C1110.6,981.0 1112.9,984.3 1115.2,987.7 C1117.5,991.0 1119.8,994.3 1122.2,997.6 C1124.5,1000.8 1126.8,1004.1 1129.2,1007.4 C1131.5,1010.6 1133.9,1013.9 1136.3,1017.1 C1138.7,1020.3 1141.1,1023.6 1143.5,1026.8 C1145.9,1030.0 1148.3,1033.2 1150.8,1036.3 C1153.2,1039.5 1155.7,1042.7 1158.1,1045.8 C1160.6,1049.0 1163.1,1052.1 1165.6,1055.2 C1168.1,1058.3 1170.6,1061.4 1173.1,1064.5 C1175.6,1067.6 1178.2,1070.7 1180.7,1073.7 C1183.3,1076.8 1185.8,1079.8 1188.4,1082.8 C1191.0,1085.9 1193.6,1088.9 1196.2,1091.9 C1198.8,1094.9 1201.4,1097.9 1204.1,1100.8 C1206.7,1103.8 1209.3,1106.8 1212.0,1109.7 C1214.7,1112.6 1217.4,1115.6 1220.0,1118.5 C1222.7,1121.4 1225.4,1124.3 1228.2,1127.2 C1230.9,1130.1 1233.6,1132.9 1236.4,1135.8 C1239.1,1138.7 1241.9,1141.5 1244.7,1144.3 C1247.5,1147.2 1250.2,1150.0 1253.1,1152.8 C1255.9,1155.6 1258.7,1158.4 1261.5,1161.2 C1264.4,1163.9 1267.2,1166.7 1270.1,1169.4 C1273.0,1172.2 1275.8,1174.9 1278.7,1177.6 C1281.6,1180.4 1284.5,1183.1 1287.5,1185.8 C1290.4,1188.4 1293.3,1191.1 1296.3,1193.8 C1299.2,1196.5 1302.2,1199.1 1305.2,1201.7 C1308.2,1204.4 1311.2,1207.0 1314.2,1209.6 C1317.2,1212.2 1320.3,1214.8 1323.3,1217.4 C1326.3,1220.0 1329.4,1222.6 1332.5,1225.1 C1335.6,1227.7 1338.6,1230.2 1341.8,1232.8 C1344.9,1235.3 1348.0,1237.8 1351.1,1240.3 C1354.3,1242.8 1357.4,1245.3 1360.6,1247.8 C1363.7,1250.3 1366.9,1252.7 1370.1,1255.2 C1373.3,1257.6 1376.5,1260.0 1379.7,1262.4 C1383.0,1264.8 1386.2,1267.2 1389.4,1269.6 C1392.7,1272.0 1396.0,1274.3 1399.2,1276.6 C1402.5,1279.0 1405.8,1281.3 1409.1,1283.6 C1412.4,1285.8 1415.7,1288.1 1419.1,1290.4 C1422.4,1292.6 1425.7,1294.8 1429.1,1297.0 C1432.4,1299.2 1435.8,1301.4 1439.2,1303.5 C1442.5,1305.7 1445.9,1307.8 1449.3,1309.9 C1452.7,1312.0 1456.1,1314.1 1459.6,1316.1 C1463.0,1318.2 1466.4,1320.2 1469.9,1322.2 C1473.3,1324.2 1476.8,1326.1 1480.2,1328.1 C1483.7,1330.0 1487.2,1331.9 1490.7,1333.8 C1494.2,1335.7 1497.7,1337.5 1501.2,1339.3 C1504.7,1341.2 1508.2,1343.0 1511.7,1344.8 C1515.2,1346.5 1518.8,1348.3 1522.3,1350.1 C1525.9,1351.8 1529.4,1353.5 1533.0,1355.2 C1536.6,1356.9 1540.1,1358.6 1543.7,1360.3 C1547.3,1362.0 1550.9,1363.6 1554.5,1365.3 C1558.1,1366.9 1561.7,1368.6 1565.3,1370.2 C1568.9,1371.8 1572.6,1373.4 1576.2,1375.0 C1579.8,1376.6 1583.5,1378.2 1587.1,1379.8 C1590.7,1381.4 1594.4,1383.0 1598.1,1384.6 C1601.7,1386.1 1605.4,1387.7 1609.1,1389.3 C1612.7,1390.8 1616.4,1392.4 1620.1,1394.0 C1623.8,1395.5 1627.5,1397.1 1631.2,1398.6 C1634.9,1400.2 1638.6,1401.7 1642.3,1403.3 C1646.0,1404.8 1649.7,1406.3 1653.5,1407.9 C1657.2,1409.4 1660.9,1410.9 1664.7,1412.4 C1668.4,1413.9 1672.1,1415.3 1675.9,1416.8 C1679.6,1418.2 1683.4,1419.7 1687.1,1421.1 C1690.9,1422.5 1694.7,1423.9 1698.4,1425.3 C1702.2,1426.7 1706.0,1428.1 1709.8,1429.4 C1713.5,1430.8 1717.3,1432.1 1721.1,1433.4 C1724.9,1434.7 1728.7,1435.9 1732.5,1437.2 C1736.3,1438.4 1740.1,1439.6 1743.9,1440.8 C1747.7,1442.0 1751.5,1443.1 1755.3,1444.3 C1759.2,1445.4 1763.0,1446.5 1766.8,1447.6 C1770.6,1448.7 1774.5,1449.7 1778.3,1450.8 C1782.1,1451.8 1786.0,1452.8 1789.8,1453.8 C1793.6,1454.9 1797.5,1455.8 1801.3,1456.8 C1805.2,1457.8 1809.0,1458.8 1812.9,1459.7 C1816.7,1460.7 1820.6,1461.6 1824.4,1462.6 C1828.3,1463.5 1832.2,1464.4 1836.0,1465.4 C1839.9,1466.3 1843.8,1467.2 1847.6,1468.1 C1851.5,1469.1 1855.4,1470.0 1859.3,1470.9 C1863.1,1471.8 1867.0,1472.7 1870.9,1473.6 C1874.8,1474.5 1878.7,1475.5 1882.5,1476.4 C1886.4,1477.3 1890.3,1478.2 1894.2,1479.1 C1898.1,1480.0 1902.0,1480.9 1905.9,1481.8 C1909.8,1482.6 1913.7,1483.5 1917.6,1484.4 C1921.5,1485.3 1925.4,1486.2 1929.3,1487.0 C1933.2,1487.9 1937.1,1488.8 1941.0,1489.7 C1944.9,1490.5 1948.8,1491.4 1952.7,1492.2 C1956.6,1493.1 1960.5,1493.9 1964.4,1494.8 C1968.3,1495.6 1972.2,1496.5 1976.1,1497.3 C1980.0,1498.1 1983.9,1499.0 1987.8,1499.8 C1991.7,1500.6 1995.6,1501.4 1999.5,1502.2 C2003.5,1503.0 2007.4,1503.8 2011.3,1504.6 C2015.2,1505.4 2019.1,1506.2 2023.0,1507.0" fill="none" stroke="#D7101E" stroke-width="7" stroke-linejoin="round" stroke-linecap="butt"/>
<path d="M268.3,490.0 C269.0,493.8 269.7,497.5 270.3,501.3 C270.9,505.1 271.5,508.9 272.0,512.7 C272.5,516.5 272.9,520.4 273.4,524.2 C273.8,528.1 274.2,532.0 274.5,535.9 C274.9,539.7 275.2,543.7 275.5,547.6 C275.8,551.5 276.1,555.4 276.3,559.3 C276.6,563.2 276.9,567.2 277.1,571.1 C277.4,575.1 277.6,579.0 277.8,582.9 C278.1,586.9 278.3,590.8 278.6,594.7 C278.8,598.7 279.1,602.6 279.4,606.6 C279.7,610.5 280.0,614.4 280.3,618.3 C280.6,622.2 281.0,626.1 281.3,630.0 C281.7,633.9 282.2,637.8 282.6,641.7 C283.1,645.5 283.6,649.4 284.2,653.2 C284.7,657.0 285.3,660.8 286.0,664.6 C286.7,668.4 287.4,672.2 288.2,675.9 C289.0,679.7 289.8,683.4 290.8,687.1 C291.7,690.8 292.6,694.5 293.9,698.0 C295.2,701.5 296.6,705.1 298.7,708.2 C300.9,711.3 304.0,713.9 306.7,716.7 C309.6,714.0 312.4,711.2 315.3,708.5 C318.2,705.7 321.0,703.0 323.9,700.2 C326.7,697.5 329.6,694.8 332.4,692.0 C335.3,689.3 338.1,686.5 340.9,683.8 C343.8,681.0 346.6,678.3 349.4,675.6 C352.3,672.8 355.1,670.1 357.9,667.3 C360.7,664.6 363.5,661.8 366.4,659.1 C369.2,656.3 372.0,653.6 374.8,650.8 C377.6,648.1 380.4,645.3 383.2,642.6 C386.0,639.8 388.8,637.1 391.7,634.3 C394.5,631.6 397.3,628.8 400.1,626.1 C402.9,623.3 405.7,620.6 408.5,617.8 C411.3,615.1 414.1,612.3 416.9,609.6 C419.7,606.8 422.5,604.1 425.3,601.3 C428.1,598.6 430.9,595.8 433.7,593.1 C436.5,590.3 439.3,587.5 442.1,584.8 C444.9,582.0 447.8,579.3 450.6,576.5 C453.4,573.7 456.2,571.0 459.0,568.2 C461.8,565.5 464.7,562.7 467.5,559.9 C470.3,557.2 473.1,554.4 475.9,551.7 C478.8,548.9 481.6,546.1 484.4,543.4 C487.3,540.6 490.1,537.8 493.0,535.1 C495.8,532.3 498.7,529.5 501.5,526.8 C504.4,524.0 507.2,521.2 510.1,518.5 C512.9,515.7 515.8,512.9 518.7,510.2 C521.6,507.5 524.5,504.7 527.4,502.0 C530.3,499.3 533.2,496.6 536.2,494.0 C539.1,491.4 542.1,488.8 545.1,486.2 C548.1,483.7 551.1,481.1 554.2,478.7 C557.3,476.2 560.3,473.8 563.5,471.5 C566.6,469.2 569.8,466.9 573.0,464.7 C576.2,462.5 579.4,460.4 582.7,458.4 C586.0,456.4 589.3,454.4 592.7,452.6 C596.1,450.8 599.5,449.0 603.0,447.4 C606.5,445.8 610.1,444.3 613.7,442.8 C617.3,441.4 620.9,440.1 624.6,438.9 C628.4,437.7 632.1,436.5 635.9,435.5 C639.8,434.5 643.6,433.5 647.5,432.6 C651.5,431.8 655.5,431.0 659.5,430.3 C663.5,429.5 667.6,429.0 671.7,428.3 C675.7,429.2 679.7,430.0 683.6,431.1 C687.5,432.2 691.3,433.5 695.0,434.9 C698.7,436.3 702.3,438.0 705.8,439.7 C709.3,441.4 712.8,443.3 716.2,445.3 C719.6,447.2 722.9,449.3 726.1,451.5 C729.4,453.7 732.5,456.0 735.7,458.4 C738.8,460.8 741.9,463.3 745.0,465.8 C748.0,468.3 751.0,470.9 754.0,473.6 C757.0,476.2 759.9,478.9 762.9,481.6 C765.8,484.3 768.7,487.1 771.6,489.8 C774.5,492.6 777.3,495.4 780.2,498.3 C783.0,501.1 785.8,504.0 788.6,506.9 C791.3,509.8 794.1,512.7 796.8,515.7 C799.5,518.6 802.2,521.6 804.9,524.6 C807.5,527.6 810.2,530.6 812.8,533.7 C815.4,536.8 817.9,539.9 820.5,543.0 C823.0,546.1 825.5,549.2 828.0,552.4 C830.4,555.5 832.9,558.7 835.3,561.9 C837.7,565.1 840.0,568.3 842.3,571.6 C844.7,574.8 847.0,578.1 849.2,581.3 C851.5,584.6 853.7,587.9 855.9,591.2 C858.1,594.6 860.2,597.9 862.4,601.2 C864.5,604.6 866.7,607.9 868.7,611.3 C870.8,614.7 872.9,618.1 875.0,621.4 C877.0,624.8 879.1,628.2 881.1,631.6 C883.1,635.1 885.1,638.5 887.2,641.9 C889.2,645.3 891.2,648.8 893.1,652.2 C895.1,655.6 897.1,659.1 899.1,662.5 C901.1,666.0 903.0,669.4 905.0,672.9 C907.0,676.3 909.0,679.7 911.0,683.2 C912.9,686.6 914.9,690.1 916.9,693.5 C918.9,697.0 920.9,700.4 922.9,703.8 C924.9,707.3 927.0,710.7 929.0,714.1 C931.1,717.5 933.1,720.9 935.2,724.3 C937.3,727.7 939.4,731.1 941.5,734.5 C943.6,737.9 945.8,741.2 947.9,744.6 C950.1,748.0 952.2,751.3 954.4,754.7 C956.6,758.0 958.8,761.3 961.0,764.7 C963.2,768.0 965.5,771.3 967.7,774.7 C969.9,778.0 972.2,781.3 974.4,784.6 C976.6,787.9 978.9,791.2 981.1,794.6 C983.3,797.9 985.6,801.2 987.8,804.5 C990.0,807.8 992.3,811.1 994.5,814.4 C996.7,817.7 998.9,821.1 1001.1,824.4 C1003.3,827.7 1005.4,831.0 1007.6,834.4 C1009.7,837.7 1011.9,841.0 1014.0,844.4 C1016.1,847.7 1018.3,851.1 1020.4,854.4 C1022.5,857.8 1024.6,861.1 1026.7,864.5 C1028.7,867.8 1030.8,871.2 1032.9,874.5 C1035.0,877.9 1037.1,881.2 1039.2,884.6 C1041.3,888.0 1043.3,891.3 1045.4,894.7 C1047.5,898.0 1049.6,901.4 1051.7,904.7 C1053.8,908.1 1055.9,911.5 1058.1,914.8 C1060.2,918.2 1062.3,921.5 1064.5,924.8 C1066.6,928.2 1068.8,931.5 1071.0,934.9 C1073.2,938.2 1075.4,941.5 1077.6,944.8 C1079.8,948.2 1082.0,951.5 1084.3,954.8 C1086.5,958.1 1088.8,961.4 1091.0,964.7 C1093.3,968.0 1095.6,971.3 1097.9,974.6 C1100.2,977.9 1102.5,981.2 1104.8,984.5 C1107.1,987.7 1109.5,991.0 1111.8,994.2 C1114.2,997.5 1116.5,1000.8 1118.9,1004.0 C1121.3,1007.2 1123.7,1010.5 1126.1,1013.7 C1128.5,1016.9 1130.9,1020.1 1133.3,1023.3 C1135.7,1026.5 1138.2,1029.7 1140.6,1032.9 C1143.0,1036.1 1145.5,1039.2 1148.0,1042.4 C1150.4,1045.5 1152.9,1048.7 1155.4,1051.8 C1157.9,1054.9 1160.4,1058.1 1162.9,1061.2 C1165.4,1064.3 1167.9,1067.4 1170.4,1070.4 C1172.9,1073.5 1175.5,1076.6 1178.0,1079.6 C1180.6,1082.7 1183.1,1085.7 1185.7,1088.7 C1188.3,1091.8 1190.9,1094.8 1193.5,1097.8 C1196.1,1100.7 1198.7,1103.7 1201.3,1106.7 C1204.0,1109.6 1206.6,1112.6 1209.3,1115.5 C1211.9,1118.4 1214.6,1121.3 1217.3,1124.2 C1220.0,1127.1 1222.8,1130.0 1225.5,1132.8 C1228.2,1135.7 1231.0,1138.5 1233.8,1141.4 C1236.6,1144.2 1239.4,1147.0 1242.2,1149.7 C1245.0,1152.5 1247.9,1155.3 1250.7,1158.0 C1253.6,1160.8 1256.4,1163.5 1259.3,1166.2 C1262.2,1168.9 1265.2,1171.5 1268.1,1174.2 C1271.0,1176.9 1274.0,1179.5 1276.9,1182.1 C1279.9,1184.7 1282.9,1187.3 1285.9,1189.9 C1288.9,1192.4 1291.9,1195.0 1294.9,1197.5 C1297.9,1200.1 1301.0,1202.6 1304.0,1205.1 C1307.1,1207.6 1310.1,1210.1 1313.2,1212.6 C1316.3,1215.1 1319.4,1217.6 1322.5,1220.0 C1325.6,1222.5 1328.8,1225.0 1331.9,1227.4 C1335.1,1229.9 1338.2,1232.4 1341.4,1234.8 C1344.5,1237.3 1347.7,1239.7 1350.9,1242.1 C1354.1,1244.6 1357.3,1247.0 1360.5,1249.4 C1363.7,1251.9 1366.9,1254.3 1370.2,1256.7 C1373.4,1259.1 1376.7,1261.5 1379.9,1263.9 C1383.2,1266.3 1386.5,1268.7 1389.7,1271.0 C1393.0,1273.4 1396.3,1275.7 1399.6,1278.0 C1402.9,1280.4 1406.2,1282.7 1409.6,1285.0 C1412.9,1287.3 1416.2,1289.5 1419.6,1291.8 C1422.9,1294.0 1426.3,1296.3 1429.7,1298.5 C1433.0,1300.7 1436.4,1302.8 1439.8,1305.0 C1443.2,1307.1 1446.6,1309.3 1450.0,1311.4 C1453.4,1313.5 1456.8,1315.5 1460.3,1317.6 C1463.7,1319.6 1467.1,1321.6 1470.6,1323.6 C1474.0,1325.6 1477.5,1327.5 1481.0,1329.4 C1484.4,1331.3 1487.9,1333.2 1491.4,1335.1 C1494.9,1336.9 1498.4,1338.7 1501.9,1340.5 C1505.4,1342.3 1508.9,1344.1 1512.5,1345.8 C1516.0,1347.6 1519.5,1349.3 1523.1,1351.0 C1526.6,1352.7 1530.1,1354.4 1533.7,1356.0 C1537.3,1357.7 1540.8,1359.4 1544.4,1361.0 C1548.0,1362.6 1551.6,1364.3 1555.2,1365.9 C1558.8,1367.5 1562.4,1369.1 1566.0,1370.7 C1569.6,1372.4 1573.2,1374.0 1576.8,1375.6 C1580.4,1377.2 1584.1,1378.8 1587.7,1380.4 C1591.3,1382.0 1595.0,1383.5 1598.6,1385.1 C1602.3,1386.7 1605.9,1388.3 1609.6,1389.8 C1613.3,1391.4 1617.0,1393.0 1620.6,1394.5 C1624.3,1396.0 1628.0,1397.6 1631.7,1399.1 C1635.4,1400.6 1639.1,1402.1 1642.8,1403.6 C1646.5,1405.1 1650.2,1406.6 1653.9,1408.1 C1657.6,1409.6 1661.4,1411.1 1665.1,1412.5 C1668.8,1414.0 1672.6,1415.4 1676.3,1416.8 C1680.1,1418.2 1683.8,1419.6 1687.6,1421.0 C1691.3,1422.4 1695.1,1423.8 1698.8,1425.2 C1702.6,1426.5 1706.4,1427.8 1710.1,1429.2 C1713.9,1430.5 1717.7,1431.8 1721.5,1433.1 C1725.3,1434.4 1729.1,1435.6 1732.9,1436.9 C1736.7,1438.1 1740.4,1439.3 1744.3,1440.5 C1748.1,1441.7 1751.9,1442.9 1755.7,1444.1 C1759.5,1445.2 1763.3,1446.4 1767.1,1447.5 C1770.9,1448.6 1774.8,1449.7 1778.6,1450.8 C1782.4,1451.9 1786.3,1453.0 1790.1,1454.0 C1793.9,1455.1 1797.8,1456.1 1801.6,1457.1 C1805.5,1458.1 1809.3,1459.1 1813.2,1460.1 C1817.0,1461.1 1820.9,1462.1 1824.7,1463.1 C1828.6,1464.0 1832.4,1465.0 1836.3,1465.9 C1840.2,1466.9 1844.0,1467.8 1847.9,1468.7 C1851.8,1469.6 1855.6,1470.5 1859.5,1471.4 C1863.4,1472.3 1867.3,1473.2 1871.1,1474.1 C1875.0,1475.0 1878.9,1475.9 1882.8,1476.7 C1886.6,1477.6 1890.5,1478.4 1894.4,1479.3 C1898.3,1480.2 1902.2,1481.0 1906.1,1481.8 C1910.0,1482.7 1913.9,1483.5 1917.7,1484.4 C1921.6,1485.2 1925.5,1486.0 1929.4,1486.9 C1933.3,1487.7 1937.2,1488.5 1941.1,1489.4 C1945.0,1490.2 1948.9,1491.0 1952.8,1491.8 C1956.7,1492.7 1960.6,1493.5 1964.5,1494.3 C1968.4,1495.1 1972.3,1496.0 1976.2,1496.8 C1980.1,1497.6 1984.0,1498.5 1987.9,1499.3 C1991.8,1500.2 1995.7,1501.0 1999.6,1501.8 C2003.5,1502.7 2007.4,1503.5 2011.3,1504.4 C2015.2,1505.3 2019.1,1506.1 2023.0,1507.0" fill="none" stroke="#0070C0" stroke-width="7" stroke-linejoin="round" stroke-linecap="butt"/>
<path d="M268.5,489.0 C268.9,493.0 269.2,497.0 269.6,500.9 C269.9,504.9 270.2,508.8 270.6,512.7 C270.9,516.7 271.2,520.6 271.5,524.5 C271.9,528.4 272.2,532.3 272.5,536.1 C272.8,540.0 273.1,543.9 273.4,547.7 C273.7,551.6 274.0,555.4 274.3,559.3 C274.6,563.1 274.9,567.0 275.2,570.8 C275.5,574.6 275.8,578.5 276.1,582.3 C276.4,586.1 276.7,590.0 277.0,593.8 C277.3,597.7 277.6,601.5 277.9,605.4 C278.2,609.2 278.5,613.1 278.8,616.9 C279.1,620.8 279.4,624.7 279.7,628.6 C280.1,632.5 280.4,636.4 280.7,640.3 C281.0,644.2 281.4,648.2 281.7,652.1 C282.1,656.1 282.4,660.0 282.8,664.0 C283.1,668.0 283.5,672.0 283.8,676.0 C284.2,680.1 284.6,684.1 285.0,688.2 C285.5,692.2 285.9,696.2 286.6,700.2 C287.3,704.1 288.0,708.0 289.1,711.7 C290.2,715.3 291.4,718.9 293.1,722.2 C294.8,725.5 296.7,728.7 299.1,731.4 C301.5,734.1 304.8,736.0 307.7,738.3 C310.8,735.8 313.9,733.4 317.0,730.8 C320.1,728.3 323.2,725.8 326.2,723.2 C329.3,720.6 332.3,718.1 335.3,715.5 C338.3,712.8 341.3,710.2 344.3,707.6 C347.2,705.0 350.2,702.3 353.2,699.6 C356.1,697.0 359.1,694.3 362.0,691.7 C365.0,689.0 368.0,686.3 370.9,683.6 C373.9,681.0 376.8,678.3 379.8,675.6 C382.7,673.0 385.7,670.3 388.7,667.7 C391.6,665.0 394.6,662.4 397.6,659.8 C400.6,657.1 403.6,654.5 406.6,652.0 C409.6,649.4 412.7,646.8 415.7,644.3 C418.8,641.7 421.9,639.2 425.0,636.7 C427.0,633.4 429.0,630.1 431.0,626.7 C433.0,623.4 435.1,620.0 437.1,616.6 C439.1,613.2 441.1,609.8 443.2,606.4 C445.2,603.0 447.3,599.6 449.3,596.1 C451.4,592.7 453.5,589.3 455.6,585.9 C457.7,582.4 459.8,579.0 462.0,575.6 C464.1,572.2 466.3,568.8 468.5,565.4 C470.7,562.0 472.9,558.6 475.2,555.3 C477.4,551.9 479.7,548.6 482.0,545.3 C484.3,542.0 486.7,538.7 489.1,535.4 C491.4,532.2 493.9,529.0 496.3,525.8 C498.8,522.7 501.3,519.5 503.8,516.4 C506.4,513.4 508.9,510.3 511.6,507.3 C514.2,504.3 516.9,501.4 519.6,498.5 C522.4,495.7 525.1,492.8 528.0,490.1 C530.8,487.3 533.7,484.6 536.6,482.0 C539.6,479.4 542.6,476.9 545.6,474.4 C548.7,471.9 551.8,469.5 555.0,467.2 C558.2,464.9 561.5,462.7 564.8,460.5 C568.1,458.4 571.5,456.3 574.9,454.3 C578.3,452.3 581.8,450.4 585.3,448.5 C588.8,446.6 592.4,444.8 596.0,443.1 C599.6,441.4 603.3,439.7 606.9,438.1 C610.6,436.4 614.3,434.9 618.1,433.4 C621.8,431.8 625.6,430.4 629.4,429.0 C633.2,427.5 637.1,426.1 640.9,424.8 C644.8,423.5 648.6,422.2 652.5,421.1 C656.3,420.0 660.2,419.0 664.1,418.2 C668.0,417.5 671.8,416.8 675.7,416.6 C679.5,416.3 683.4,416.4 687.2,416.7 C691.0,417.0 694.8,417.7 698.6,418.6 C702.3,419.4 706.0,420.6 709.7,421.9 C713.4,423.2 717.0,424.8 720.6,426.4 C724.1,428.0 727.6,429.8 731.1,431.6 C734.6,433.5 738.0,435.5 741.3,437.6 C744.7,439.7 748.0,441.9 751.2,444.2 C754.5,446.5 757.7,448.9 760.9,451.4 C764.1,453.9 767.2,456.4 770.3,459.1 C773.3,461.7 776.4,464.4 779.4,467.2 C782.4,469.9 785.3,472.8 788.2,475.6 C791.2,478.5 794.0,481.4 796.9,484.4 C799.7,487.3 802.5,490.3 805.3,493.3 C808.1,496.3 810.8,499.4 813.6,502.4 C816.3,505.5 818.9,508.5 821.6,511.6 C824.3,514.6 826.9,517.7 829.5,520.8 C832.1,523.8 834.7,526.8 837.2,529.8 C839.8,532.8 842.3,535.8 844.8,538.8 C847.3,541.8 849.8,544.7 852.2,547.7 C854.7,550.6 857.1,553.6 859.5,556.6 C861.9,559.5 864.2,562.5 866.5,565.6 C868.8,568.7 871.1,571.8 873.3,574.9 C875.6,578.1 877.8,581.4 879.9,584.7 C882.1,588.0 884.2,591.5 886.2,594.9 C888.3,598.4 890.3,601.9 892.3,605.5 C894.4,609.0 896.3,612.6 898.3,616.2 C900.3,619.8 902.3,623.5 904.3,627.1 C906.2,630.6 908.2,634.2 910.2,637.8 C912.2,641.3 914.2,644.8 916.2,648.3 C918.3,651.8 920.3,655.2 922.4,658.7 C924.4,662.1 926.5,665.5 928.5,668.9 C930.6,672.2 932.6,675.6 934.7,679.0 C936.8,682.3 938.9,685.7 940.9,689.0 C943.0,692.4 945.0,695.7 947.1,699.1 C949.2,702.5 951.2,705.9 953.3,709.2 C955.4,712.6 957.4,716.0 959.5,719.4 C961.5,722.7 963.6,726.1 965.6,729.5 C967.7,732.9 969.7,736.3 971.8,739.7 C973.8,743.1 975.9,746.5 977.9,749.9 C980.0,753.3 982.0,756.7 984.1,760.1 C986.1,763.5 988.2,766.9 990.2,770.3 C992.3,773.7 994.3,777.1 996.4,780.5 C998.4,784.0 1000.4,787.4 1002.5,790.8 C1004.5,794.2 1006.6,797.6 1008.6,801.0 C1010.7,804.5 1012.7,807.9 1014.7,811.3 C1016.8,814.7 1018.8,818.2 1020.9,821.6 C1022.9,825.0 1024.9,828.5 1027.0,831.9 C1029.0,835.3 1031.1,838.7 1033.1,842.2 C1035.2,845.6 1037.2,849.0 1039.2,852.5 C1041.3,855.9 1043.3,859.3 1045.4,862.8 C1047.4,866.2 1049.5,869.6 1051.5,873.0 C1053.6,876.5 1055.7,879.9 1057.7,883.3 C1059.8,886.7 1061.8,890.2 1063.9,893.6 C1066.0,897.0 1068.1,900.4 1070.1,903.8 C1072.2,907.2 1074.3,910.7 1076.4,914.1 C1078.5,917.5 1080.6,920.9 1082.7,924.3 C1084.8,927.7 1086.9,931.1 1089.0,934.4 C1091.1,937.8 1093.2,941.2 1095.4,944.6 C1097.5,948.0 1099.6,951.3 1101.8,954.7 C1103.9,958.1 1106.1,961.4 1108.2,964.8 C1110.4,968.1 1112.6,971.5 1114.8,974.8 C1117.0,978.1 1119.1,981.5 1121.4,984.8 C1123.6,988.1 1125.8,991.4 1128.0,994.7 C1130.2,998.0 1132.5,1001.3 1134.7,1004.6 C1137.0,1007.9 1139.2,1011.2 1141.5,1014.5 C1143.8,1017.7 1146.1,1021.0 1148.4,1024.2 C1150.7,1027.5 1153.0,1030.7 1155.3,1033.9 C1157.6,1037.2 1160.0,1040.4 1162.3,1043.6 C1164.7,1046.8 1167.1,1050.0 1169.4,1053.1 C1171.8,1056.3 1174.2,1059.5 1176.7,1062.6 C1179.1,1065.8 1181.5,1068.9 1184.0,1072.1 C1186.4,1075.2 1188.9,1078.3 1191.4,1081.4 C1193.9,1084.5 1196.4,1087.6 1198.9,1090.7 C1201.4,1093.7 1203.9,1096.8 1206.5,1099.8 C1209.1,1102.9 1211.6,1105.9 1214.2,1108.9 C1216.8,1111.9 1219.5,1114.9 1222.1,1117.9 C1224.7,1120.8 1227.4,1123.8 1230.0,1126.7 C1232.7,1129.7 1235.4,1132.6 1238.1,1135.5 C1240.8,1138.4 1243.5,1141.3 1246.3,1144.2 C1249.0,1147.1 1251.8,1150.0 1254.6,1152.8 C1257.3,1155.7 1260.1,1158.5 1263.0,1161.3 C1265.8,1164.1 1268.6,1166.9 1271.4,1169.7 C1274.3,1172.5 1277.1,1175.3 1280.0,1178.0 C1282.9,1180.8 1285.8,1183.5 1288.7,1186.3 C1291.6,1189.0 1294.5,1191.7 1297.5,1194.4 C1300.4,1197.1 1303.4,1199.7 1306.4,1202.4 C1309.3,1205.0 1312.3,1207.7 1315.3,1210.3 C1318.3,1212.9 1321.4,1215.5 1324.4,1218.1 C1327.4,1220.7 1330.5,1223.3 1333.6,1225.8 C1336.6,1228.4 1339.7,1230.9 1342.8,1233.4 C1345.9,1235.9 1349.0,1238.4 1352.1,1240.9 C1355.3,1243.4 1358.4,1245.9 1361.6,1248.3 C1364.7,1250.8 1367.9,1253.2 1371.1,1255.6 C1374.2,1258.0 1377.4,1260.4 1380.6,1262.8 C1383.9,1265.2 1387.1,1267.5 1390.3,1269.9 C1393.5,1272.2 1396.8,1274.6 1400.1,1276.9 C1403.3,1279.2 1406.6,1281.5 1409.9,1283.7 C1413.2,1286.0 1416.5,1288.3 1419.8,1290.5 C1423.1,1292.7 1426.4,1294.9 1429.8,1297.1 C1433.1,1299.3 1436.4,1301.5 1439.8,1303.6 C1443.2,1305.8 1446.5,1307.9 1449.9,1310.0 C1453.3,1312.1 1456.7,1314.2 1460.1,1316.2 C1463.5,1318.3 1466.9,1320.3 1470.4,1322.4 C1473.8,1324.4 1477.2,1326.4 1480.7,1328.3 C1484.2,1330.3 1487.6,1332.2 1491.1,1334.2 C1494.6,1336.1 1498.0,1338.0 1501.5,1339.8 C1505.0,1341.7 1508.5,1343.5 1512.1,1345.4 C1515.6,1347.2 1519.1,1349.0 1522.6,1350.7 C1526.2,1352.5 1529.7,1354.2 1533.3,1356.0 C1536.8,1357.7 1540.4,1359.4 1544.0,1361.0 C1547.5,1362.7 1551.1,1364.4 1554.7,1366.0 C1558.3,1367.6 1561.9,1369.2 1565.5,1370.8 C1569.1,1372.5 1572.7,1374.0 1576.4,1375.6 C1580.0,1377.2 1583.6,1378.7 1587.3,1380.3 C1590.9,1381.8 1594.6,1383.4 1598.2,1384.9 C1601.9,1386.4 1605.5,1388.0 1609.2,1389.5 C1612.9,1391.0 1616.6,1392.5 1620.3,1394.0 C1623.9,1395.6 1627.6,1397.1 1631.3,1398.6 C1635.1,1400.1 1638.8,1401.6 1642.5,1403.1 C1646.2,1404.6 1649.9,1406.1 1653.6,1407.7 C1657.4,1409.2 1661.1,1410.7 1664.9,1412.2 C1668.6,1413.7 1672.4,1415.2 1676.1,1416.7 C1679.9,1418.1 1683.6,1419.6 1687.4,1421.1 C1691.2,1422.5 1694.9,1424.0 1698.7,1425.4 C1702.5,1426.8 1706.3,1428.2 1710.1,1429.6 C1713.8,1430.9 1717.6,1432.3 1721.4,1433.6 C1725.2,1434.9 1729.0,1436.2 1732.9,1437.5 C1736.7,1438.7 1740.5,1440.0 1744.3,1441.2 C1748.1,1442.4 1751.9,1443.5 1755.8,1444.6 C1759.6,1445.8 1763.4,1446.9 1767.3,1447.9 C1771.1,1449.0 1774.9,1450.0 1778.8,1451.1 C1782.6,1452.1 1786.5,1453.1 1790.3,1454.1 C1794.1,1455.1 1798.0,1456.0 1801.9,1457.0 C1805.7,1457.9 1809.6,1458.9 1813.4,1459.8 C1817.3,1460.7 1821.2,1461.7 1825.0,1462.6 C1828.9,1463.5 1832.8,1464.4 1836.6,1465.3 C1840.5,1466.2 1844.4,1467.2 1848.2,1468.1 C1852.1,1469.0 1856.0,1469.9 1859.9,1470.8 C1863.7,1471.7 1867.6,1472.6 1871.5,1473.5 C1875.4,1474.5 1879.3,1475.4 1883.2,1476.3 C1887.0,1477.2 1890.9,1478.1 1894.8,1479.0 C1898.7,1479.9 1902.6,1480.8 1906.5,1481.7 C1910.4,1482.6 1914.2,1483.5 1918.1,1484.4 C1922.0,1485.3 1925.9,1486.2 1929.8,1487.1 C1933.7,1488.0 1937.6,1488.8 1941.5,1489.7 C1945.4,1490.6 1949.2,1491.4 1953.1,1492.3 C1957.0,1493.2 1960.9,1494.0 1964.8,1494.9 C1968.7,1495.7 1972.6,1496.6 1976.4,1497.4 C1980.3,1498.2 1984.2,1499.1 1988.1,1499.9 C1992.0,1500.7 1995.9,1501.5 1999.7,1502.3 C2003.6,1503.1 2007.5,1503.9 2011.4,1504.7 C2015.3,1505.5 2019.1,1506.2 2023.0,1507.0" fill="none" stroke="#FF0000" stroke-width="7" stroke-linejoin="round" stroke-linecap="butt"/>
<g transform="translate(0,0)">
<line x1="603.4" y1="172.5" x2="603.4" y2="1821" stroke="#000" stroke-opacity="0.95" stroke-width="2.2"/>
<line x1="939" y1="172.5" x2="939" y2="1821" stroke="#000" stroke-opacity="0.5" stroke-width="4.2"/>
<line x1="1273.4" y1="172.5" x2="1273.4" y2="1821" stroke="#000" stroke-opacity="0.7" stroke-width="3"/>
<line x1="1608.6" y1="172.5" x2="1608.6" y2="1821" stroke="#000" stroke-opacity="0.75" stroke-width="3"/>
<line x1="1944" y1="172.5" x2="1944" y2="1821" stroke="#000" stroke-opacity="0.6" stroke-width="3.5"/>
<line x1="264" y1="501.6" x2="2093" y2="501.6" stroke="#000" stroke-opacity="0.5" stroke-width="4.2"/>
<line x1="264" y1="831.8" x2="2093" y2="831.8" stroke="#000" stroke-opacity="0.85" stroke-width="2.6"/>
<line x1="264" y1="1160.8" x2="2093" y2="1160.8" stroke="#000" stroke-opacity="0.75" stroke-width="3"/>
<line x1="264" y1="1492.4" x2="2093" y2="1492.4" stroke="#000" stroke-opacity="0.7" stroke-width="3"/>
<rect x="264" y="172.5" width="1829" height="1648.5" fill="none" stroke="#000" stroke-width="3.5"/>
<rect x="1171.7" y="212.7" width="877" height="230.3" fill="#fff" stroke="#000" stroke-width="4"/>
<text x="1194.5" y="277.3" font-size="55.5" textLength="300.5" lengthAdjust="spacingAndGlyphs" style="font-family:'Liberation Serif', serif" >Avg Temp a1</text>
<rect x="1515" y="254.7" width="49.5" height="16.0" fill="#000000"/>
<text x="1194.5" y="339.0" font-size="55.5" textLength="300.2" lengthAdjust="spacingAndGlyphs" style="font-family:'Liberation Serif', serif" >Avg Temp a2</text>
<rect x="1515" y="316.8" width="49.5" height="15.9" fill="#FF8C00"/>
<text x="1194.5" y="401.0" font-size="55.5" textLength="299.4" lengthAdjust="spacingAndGlyphs" style="font-family:'Liberation Serif', serif" >Avg Temp a3</text>
<rect x="1515" y="379.0" width="49.5" height="16.0" fill="#00A52A"/>
<text x="1641.2" y="277.3" font-size="55.5" textLength="300.9" lengthAdjust="spacingAndGlyphs" style="font-family:'Liberation Serif', serif" >Avg Temp a4</text>
<rect x="1972.2" y="254.7" width="51.0" height="16.0" fill="#0070C0"/>
<text x="1641.2" y="339.0" font-size="55.5" textLength="302.2" lengthAdjust="spacingAndGlyphs" style="font-family:'Liberation Serif', serif" >Avg Temp a5</text>
<rect x="1972.2" y="316.8" width="51.0" height="15.9" fill="#D7101E"/>
<text x="1641.2" y="401.0" font-size="55.5" textLength="301.7" lengthAdjust="spacingAndGlyphs" style="font-family:'Liberation Serif', serif" >Avg Temp a6</text>
<rect x="1972.2" y="379.0" width="51.0" height="16.0" fill="#FF0000"/>
</g>
<text x="1043.0" y="91.0" font-size="60" textLength="159.4" lengthAdjust="spacingAndGlyphs" style="font-family:'Liberation Sans', sans-serif" >Case 1</text>
<text x="140.2" y="195.0" font-size="66" textLength="95.8" lengthAdjust="spacingAndGlyphs" style="font-family:'Liberation Serif', serif" >250</text>
<text x="140.2" y="522.4" font-size="66" textLength="95.8" lengthAdjust="spacingAndGlyphs" style="font-family:'Liberation Serif', serif" >200</text>
<text x="140.6" y="857.1" font-size="66" textLength="95.3" lengthAdjust="spacingAndGlyphs" style="font-family:'Liberation Serif', serif" >150</text>
<text x="140.6" y="1178.8" font-size="66" textLength="95.3" lengthAdjust="spacingAndGlyphs" style="font-family:'Liberation Serif', serif" >100</text>
<text x="168.5" y="1513.6" font-size="66" textLength="67.6" lengthAdjust="spacingAndGlyphs" style="font-family:'Liberation Serif', serif" >50</text>
<text x="202.5" y="1852.0" font-size="66" textLength="32.3" lengthAdjust="spacingAndGlyphs" style="font-family:'Liberation Serif', serif" >0</text>
<text x="219.4" y="1906.0" font-size="66" textLength="144.0" lengthAdjust="spacingAndGlyphs" style="font-family:'Liberation Serif', serif" >10:30</text>
<text x="556.9" y="1909.0" font-size="66" textLength="143.5" lengthAdjust="spacingAndGlyphs" style="font-family:'Liberation Serif', serif" >13:30</text>
<text x="890.0" y="1905.0" font-size="66" textLength="144.4" lengthAdjust="spacingAndGlyphs" style="font-family:'Liberation Serif', serif" >16:30</text>
<text x="1226.9" y="1905.0" font-size="66" textLength="143.5" lengthAdjust="spacingAndGlyphs" style="font-family:'Liberation Serif', serif" >19:30</text>
<text x="1564.2" y="1908.0" font-size="66" textLength="143.2" lengthAdjust="spacingAndGlyphs" style="font-family:'Liberation Serif', serif" >21:30</text>
<text x="1899.2" y="1905.0" font-size="66" textLength="143.2" lengthAdjust="spacingAndGlyphs" style="font-family:'Liberation Serif', serif" >23:30</text>
<text x="910.3" y="2007.0" font-size="66" textLength="528.8" lengthAdjust="spacingAndGlyphs" style="font-family:'Liberation Serif', serif" >Time of day [hour]</text>
<text transform="translate(106.7,1232.5) rotate(-90)" x="-1.2" y="0" font-size="66" textLength="481.0" lengthAdjust="spacingAndGlyphs" style="font-family:'Liberation Serif', serif">Temperature [°C]</text>
<path d="M265.0,3720.0 C265.4,3716.1 265.7,3712.2 266.2,3708.2 C266.8,3704.3 267.4,3700.4 268.1,3696.5 C268.8,3692.6 269.5,3688.7 270.3,3684.7 C271.0,3680.8 271.8,3676.9 272.4,3673.0 C273.1,3669.1 273.8,3665.2 274.3,3661.2 C274.9,3657.3 275.4,3653.4 275.9,3649.5 C276.4,3645.6 276.9,3641.6 277.3,3637.7 C277.8,3633.8 278.2,3629.9 278.6,3626.0 C279.0,3622.1 279.4,3618.1 279.9,3614.2 C280.3,3610.3 280.8,3606.4 281.3,3602.5 C281.8,3598.6 282.3,3594.6 282.9,3590.7 C283.4,3586.8 284.0,3582.9 284.7,3579.0 C285.4,3575.1 286.2,3571.2 287.0,3567.2 C287.9,3563.3 288.8,3559.4 289.8,3555.5 C290.8,3551.6 291.9,3547.7 292.9,3543.8 C293.9,3539.9 294.9,3536.0 295.7,3532.0 C296.6,3528.1 297.3,3524.2 297.9,3520.3 C298.5,3516.4 298.9,3512.5 299.3,3508.6 C299.8,3504.7 300.1,3500.7 300.4,3496.8 C300.7,3492.9 301.0,3489.0 301.3,3485.1 C301.6,3481.2 301.9,3477.3 302.2,3473.4 C302.5,3469.5 302.9,3465.6 303.3,3461.7 C303.8,3457.8 304.3,3453.9 304.8,3450.0 C305.3,3446.0 305.9,3442.1 306.5,3438.2 C307.1,3434.3 307.8,3430.4 308.5,3426.5 C309.1,3422.6 309.9,3418.7 310.6,3414.8 C311.3,3410.9 312.0,3407.0 312.8,3403.1 C313.5,3399.2 314.3,3395.3 315.0,3391.4 C315.8,3387.5 316.6,3383.6 317.3,3379.7 C318.1,3375.8 318.9,3371.9 319.7,3368.0 C320.4,3364.1 321.2,3360.3 322.0,3356.4 C322.8,3352.5 323.6,3348.6 324.4,3344.7 C325.2,3340.8 326.0,3336.9 326.8,3333.0 C327.6,3329.1 328.4,3325.2 329.2,3321.3 C330.0,3317.5 330.9,3313.6 331.7,3309.7 C332.5,3305.8 333.3,3301.9 334.2,3298.0 C335.0,3294.1 335.8,3290.3 336.6,3286.4 C337.5,3282.5 338.3,3278.6 339.2,3274.7 C340.0,3270.8 340.8,3267.0 341.7,3263.1 C342.5,3259.2 343.4,3255.3 344.2,3251.4 C345.1,3247.6 345.9,3243.7 346.8,3239.8 C347.6,3235.9 348.5,3232.1 349.3,3228.2 C350.2,3224.3 351.0,3220.5 351.9,3216.6 C352.7,3212.7 353.6,3208.8 354.4,3205.0 C355.3,3201.1 356.1,3197.2 357.0,3193.4 C357.9,3189.5 358.7,3185.6 359.6,3181.8 C360.4,3177.9 361.3,3174.1 362.2,3170.2 C363.0,3166.3 363.9,3162.5 364.8,3158.6 C365.7,3154.8 366.5,3150.9 367.4,3147.0 C368.3,3143.2 369.2,3139.3 370.1,3135.5 C371.0,3131.6 371.9,3127.8 372.8,3123.9 C373.7,3120.1 374.6,3116.2 375.5,3112.4 C376.4,3108.5 377.3,3104.7 378.3,3100.8 C379.2,3097.0 380.1,3093.2 381.1,3089.3 C382.0,3085.5 383.0,3081.6 383.9,3077.8 C384.9,3074.0 385.9,3070.1 386.8,3066.3 C387.8,3062.4 388.8,3058.6 389.8,3054.8 C390.8,3050.9 391.8,3047.1 392.9,3043.3 C393.9,3039.5 394.9,3035.6 396.0,3031.8 C397.0,3028.0 398.1,3024.1 399.2,3020.3 C400.2,3016.5 401.3,3012.7 402.4,3008.9 C403.5,3005.1 404.6,3001.2 405.8,2997.4 C406.9,2993.6 408.0,2989.8 409.2,2986.0 C410.4,2982.2 411.5,2978.4 412.7,2974.7 C413.9,2970.9 415.1,2967.1 416.3,2963.3 C417.6,2959.5 418.8,2955.7 420.1,2952.0 C421.3,2948.2 422.6,2944.4 423.9,2940.7 C425.2,2936.9 426.5,2933.2 427.8,2929.4 C429.1,2925.7 430.5,2922.0 431.8,2918.2 C433.2,2914.5 434.6,2910.8 436.0,2907.1 C437.4,2903.4 438.8,2899.7 440.3,2896.0 C441.7,2892.3 443.2,2888.6 444.7,2884.9 C446.1,2881.2 447.7,2877.5 449.2,2873.9 C450.7,2870.2 452.3,2866.6 453.8,2862.9 C455.4,2859.3 457.0,2855.7 458.6,2852.0 C460.2,2848.4 461.8,2844.8 463.4,2841.2 C465.1,2837.6 466.8,2834.0 468.4,2830.5 C470.1,2826.9 471.8,2823.3 473.6,2819.8 C475.3,2816.2 477.0,2812.7 478.8,2809.1 C480.6,2805.6 482.3,2802.1 484.1,2798.6 C486.0,2795.1 487.8,2791.6 489.6,2788.1 C491.5,2784.6 493.3,2781.2 495.2,2777.7 C497.1,2774.3 499.0,2770.8 501.0,2767.4 C502.9,2764.0 504.9,2760.6 506.9,2757.2 C508.9,2753.8 510.9,2750.4 513.0,2747.1 C515.0,2743.7 517.1,2740.3 519.2,2737.0 C521.3,2733.6 523.5,2730.3 525.7,2727.0 C527.8,2723.7 530.1,2720.4 532.3,2717.1 C534.6,2713.8 536.8,2710.6 539.2,2707.3 C541.5,2704.1 543.9,2700.8 546.3,2697.6 C548.7,2694.4 551.1,2691.2 553.6,2688.0 C556.1,2684.8 558.6,2681.6 561.2,2678.4 C563.7,2675.3 566.3,2672.2 569.0,2669.1 C571.6,2666.0 574.3,2662.9 577.0,2659.9 C579.7,2656.9 582.4,2653.9 585.2,2650.9 C587.9,2648.0 590.7,2645.1 593.5,2642.3 C596.3,2639.5 599.1,2636.7 602.0,2634.0 C604.8,2631.3 607.7,2628.7 610.6,2626.1 C613.5,2623.5 616.4,2621.0 619.3,2618.6 C622.3,2616.2 625.2,2613.9 628.1,2611.7 C631.1,2609.4 634.0,2607.3 637.0,2605.2 C640.0,2603.2 642.9,2601.2 646.1,2599.4 C649.5,2597.5 652.9,2595.8 656.7,2594.3 C660.8,2592.6 665.6,2591.4 670.0,2590.0 C673.7,2591.3 677.5,2592.5 681.2,2593.9 C684.8,2595.4 688.4,2597.0 692.0,2598.7 C695.5,2600.4 699.0,2602.2 702.5,2604.1 C705.9,2606.0 709.3,2608.0 712.7,2610.1 C716.0,2612.2 719.4,2614.4 722.6,2616.7 C725.9,2618.9 729.1,2621.3 732.3,2623.7 C735.5,2626.1 738.6,2628.5 741.7,2631.0 C744.8,2633.5 747.9,2636.1 750.9,2638.6 C753.9,2641.2 756.9,2643.9 759.9,2646.5 C762.9,2649.2 765.8,2651.9 768.7,2654.6 C771.6,2657.4 774.5,2660.1 777.4,2662.9 C780.2,2665.7 783.1,2668.6 785.9,2671.4 C788.7,2674.3 791.5,2677.1 794.2,2680.0 C797.0,2682.9 799.8,2685.8 802.5,2688.7 C805.2,2691.6 807.9,2694.6 810.7,2697.5 C813.4,2700.5 816.0,2703.4 818.7,2706.4 C821.4,2709.3 824.1,2712.3 826.7,2715.3 C829.4,2718.3 832.0,2721.3 834.6,2724.3 C837.3,2727.3 839.9,2730.3 842.5,2733.3 C845.1,2736.3 847.7,2739.3 850.3,2742.4 C852.8,2745.4 855.4,2748.4 858.0,2751.5 C860.5,2754.5 863.1,2757.6 865.6,2760.7 C868.2,2763.7 870.7,2766.8 873.2,2769.9 C875.7,2773.0 878.2,2776.0 880.8,2779.1 C883.3,2782.2 885.8,2785.3 888.3,2788.4 C890.7,2791.5 893.2,2794.6 895.7,2797.7 C898.2,2800.8 900.7,2804.0 903.1,2807.1 C905.6,2810.2 908.0,2813.3 910.5,2816.4 C913.0,2819.6 915.4,2822.7 917.9,2825.8 C920.3,2828.9 922.7,2832.1 925.2,2835.2 C927.6,2838.3 930.1,2841.5 932.5,2844.6 C934.9,2847.7 937.3,2850.9 939.8,2854.0 C942.2,2857.1 944.6,2860.3 947.0,2863.4 C949.5,2866.6 951.9,2869.7 954.3,2872.8 C956.7,2876.0 959.2,2879.1 961.6,2882.3 C964.0,2885.4 966.4,2888.5 968.8,2891.7 C971.2,2894.8 973.6,2898.0 976.1,2901.1 C978.5,2904.3 980.9,2907.4 983.3,2910.6 C985.7,2913.7 988.1,2916.9 990.5,2920.0 C992.9,2923.2 995.3,2926.4 997.7,2929.5 C1000.1,2932.7 1002.5,2935.9 1004.9,2939.1 C1007.3,2942.2 1009.7,2945.4 1012.1,2948.6 C1014.5,2951.8 1016.9,2955.0 1019.3,2958.2 C1021.7,2961.4 1024.1,2964.6 1026.5,2967.8 C1028.9,2971.1 1031.3,2974.3 1033.7,2977.5 C1036.1,2980.7 1038.5,2983.9 1040.9,2987.1 C1043.3,2990.3 1045.7,2993.5 1048.1,2996.8 C1050.5,3000.0 1052.9,3003.2 1055.4,3006.4 C1057.8,3009.5 1060.2,3012.7 1062.7,3015.9 C1065.1,3019.1 1067.6,3022.3 1070.0,3025.4 C1072.5,3028.6 1075.0,3031.7 1077.4,3034.9 C1079.9,3038.0 1082.4,3041.1 1084.9,3044.2 C1087.4,3047.3 1090.0,3050.4 1092.5,3053.5 C1095.0,3056.5 1097.6,3059.6 1100.1,3062.6 C1102.7,3065.7 1105.3,3068.7 1107.9,3071.7 C1110.5,3074.7 1113.1,3077.7 1115.7,3080.7 C1118.3,3083.7 1120.9,3086.7 1123.5,3089.6 C1126.2,3092.6 1128.8,3095.5 1131.5,3098.4 C1134.2,3101.4 1136.8,3104.3 1139.5,3107.2 C1142.2,3110.1 1144.9,3113.0 1147.6,3115.9 C1150.3,3118.7 1153.1,3121.6 1155.8,3124.5 C1158.5,3127.3 1161.3,3130.2 1164.0,3133.0 C1166.8,3135.8 1169.6,3138.6 1172.4,3141.5 C1175.1,3144.3 1177.9,3147.1 1180.7,3149.9 C1183.6,3152.7 1186.4,3155.4 1189.2,3158.2 C1192.0,3161.0 1194.9,3163.8 1197.7,3166.5 C1200.6,3169.3 1203.4,3172.0 1206.3,3174.8 C1209.2,3177.5 1212.1,3180.2 1215.0,3183.0 C1217.9,3185.7 1220.8,3188.4 1223.7,3191.1 C1226.6,3193.8 1229.5,3196.5 1232.5,3199.2 C1235.4,3201.9 1238.4,3204.6 1241.3,3207.3 C1244.3,3210.0 1247.2,3212.7 1250.2,3215.3 C1253.2,3218.0 1256.2,3220.7 1259.2,3223.3 C1262.2,3226.0 1265.2,3228.7 1268.2,3231.3 C1271.3,3233.9 1274.3,3236.6 1277.4,3239.2 C1280.4,3241.8 1283.5,3244.4 1286.5,3247.0 C1289.6,3249.6 1292.7,3252.1 1295.8,3254.7 C1298.9,3257.2 1302.0,3259.7 1305.2,3262.2 C1308.3,3264.7 1311.5,3267.2 1314.6,3269.7 C1317.8,3272.1 1321.0,3274.5 1324.2,3276.9 C1327.4,3279.3 1330.6,3281.7 1333.9,3284.0 C1337.1,3286.4 1340.4,3288.7 1343.6,3291.0 C1346.9,3293.2 1350.2,3295.5 1353.5,3297.7 C1356.8,3299.9 1360.1,3302.1 1363.5,3304.3 C1366.8,3306.5 1370.1,3308.6 1373.5,3310.7 C1376.9,3312.8 1380.2,3314.9 1383.6,3317.0 C1387.0,3319.1 1390.4,3321.1 1393.8,3323.1 C1397.2,3325.2 1400.6,3327.2 1404.1,3329.2 C1407.5,3331.1 1410.9,3333.1 1414.4,3335.1 C1417.8,3337.0 1421.3,3338.9 1424.7,3340.8 C1428.2,3342.8 1431.7,3344.7 1435.1,3346.5 C1438.6,3348.4 1442.1,3350.3 1445.6,3352.1 C1449.1,3354.0 1452.6,3355.8 1456.1,3357.6 C1459.6,3359.5 1463.1,3361.3 1466.6,3363.1 C1470.1,3364.9 1473.6,3366.6 1477.1,3368.4 C1480.6,3370.2 1484.2,3372.0 1487.7,3373.7 C1491.2,3375.5 1494.8,3377.2 1498.3,3379.0 C1501.9,3380.7 1505.4,3382.5 1509.0,3384.2 C1512.5,3385.9 1516.1,3387.7 1519.7,3389.4 C1523.2,3391.1 1526.8,3392.8 1530.4,3394.6 C1534.0,3396.3 1537.5,3398.0 1541.1,3399.7 C1544.7,3401.5 1548.3,3403.2 1551.9,3404.9 C1555.5,3406.6 1559.1,3408.3 1562.8,3410.0 C1566.4,3411.7 1570.0,3413.5 1573.6,3415.2 C1577.2,3416.9 1580.9,3418.6 1584.5,3420.3 C1588.2,3421.9 1591.8,3423.6 1595.5,3425.3 C1599.1,3427.0 1602.8,3428.6 1606.4,3430.3 C1610.1,3431.9 1613.8,3433.5 1617.4,3435.2 C1621.1,3436.8 1624.8,3438.4 1628.5,3440.0 C1632.2,3441.6 1635.9,3443.1 1639.6,3444.7 C1643.3,3446.2 1647.0,3447.8 1650.7,3449.3 C1654.4,3450.8 1658.1,3452.3 1661.8,3453.7 C1665.6,3455.2 1669.3,3456.6 1673.0,3458.0 C1676.8,3459.4 1680.5,3460.8 1684.3,3462.2 C1688.0,3463.5 1691.8,3464.9 1695.5,3466.2 C1699.3,3467.5 1703.1,3468.8 1706.8,3470.0 C1710.6,3471.3 1714.4,3472.5 1718.2,3473.7 C1722.0,3474.9 1725.7,3476.1 1729.5,3477.3 C1733.3,3478.5 1737.1,3479.6 1740.9,3480.7 C1744.8,3481.9 1748.6,3483.0 1752.4,3484.1 C1756.2,3485.2 1760.0,3486.2 1763.8,3487.3 C1767.7,3488.3 1771.5,3489.4 1775.3,3490.4 C1779.2,3491.4 1783.0,3492.4 1786.8,3493.4 C1790.7,3494.3 1794.5,3495.3 1798.4,3496.3 C1802.2,3497.2 1806.1,3498.1 1810.0,3499.1 C1813.8,3500.0 1817.7,3500.9 1821.5,3501.8 C1825.4,3502.7 1829.3,3503.6 1833.2,3504.5 C1837.0,3505.3 1840.9,3506.2 1844.8,3507.1 C1848.7,3507.9 1852.6,3508.8 1856.4,3509.6 C1860.3,3510.4 1864.2,3511.2 1868.1,3512.1 C1872.0,3512.9 1875.9,3513.7 1879.8,3514.5 C1883.7,3515.3 1887.6,3516.1 1891.5,3516.9 C1895.4,3517.6 1899.3,3518.4 1903.2,3519.2 C1907.1,3520.0 1911.0,3520.7 1914.9,3521.5 C1918.9,3522.2 1922.8,3523.0 1926.7,3523.7 C1930.6,3524.5 1934.5,3525.2 1938.4,3525.9 C1942.4,3526.7 1946.3,3527.4 1950.2,3528.1 C1954.1,3528.8 1958.0,3529.5 1962.0,3530.2 C1965.9,3530.9 1969.8,3531.6 1973.7,3532.3 C1977.7,3533.0 1981.6,3533.7 1985.5,3534.4 C1989.5,3535.1 1993.4,3535.8 1997.3,3536.5 C2001.2,3537.1 2005.2,3537.8 2009.1,3538.5 C2013.0,3539.2 2017.0,3539.8 2020.9,3540.5" fill="none" stroke="#FF9A00" stroke-width="7" stroke-linejoin="round" stroke-linecap="butt"/>
<path d="M264.0,3719.0 C264.2,3715.0 264.4,3711.0 264.7,3707.1 C264.9,3703.1 265.1,3699.1 265.4,3695.1 C265.7,3691.2 265.9,3687.2 266.2,3683.2 C266.5,3679.2 266.8,3675.3 267.1,3671.3 C267.4,3667.3 267.7,3663.3 268.0,3659.4 C268.4,3655.4 268.7,3651.4 269.1,3647.4 C269.4,3643.4 269.8,3639.5 270.1,3635.5 C270.5,3631.5 270.9,3627.5 271.3,3623.6 C271.6,3619.6 272.0,3615.6 272.4,3611.6 C272.8,3607.6 273.3,3603.7 273.7,3599.7 C274.1,3595.7 274.5,3591.7 275.0,3587.7 C275.4,3583.8 275.8,3579.8 276.3,3575.8 C276.7,3571.8 277.2,3567.9 277.6,3563.9 C278.1,3559.9 278.6,3555.9 279.0,3551.9 C279.5,3548.0 280.0,3544.0 280.5,3540.0 C280.9,3536.0 281.4,3532.1 281.9,3528.1 C282.4,3524.1 282.9,3520.1 283.4,3516.2 C283.9,3512.2 284.4,3508.2 284.9,3504.2 C285.4,3500.3 285.9,3496.3 286.4,3492.3 C286.9,3488.4 287.4,3484.4 287.9,3480.4 C288.4,3476.4 289.0,3472.5 289.5,3468.5 C290.0,3464.5 290.5,3460.6 291.0,3456.6 C291.5,3452.6 292.1,3448.7 292.6,3444.7 C293.1,3440.7 293.6,3436.8 294.2,3432.8 C294.7,3428.8 295.2,3424.9 295.8,3420.9 C296.3,3416.9 296.9,3413.0 297.4,3409.0 C298.0,3405.1 298.5,3401.1 299.1,3397.1 C299.6,3393.2 300.2,3389.2 300.8,3385.3 C301.4,3381.3 301.9,3377.4 302.5,3373.4 C303.1,3369.4 303.7,3365.5 304.4,3361.5 C305.0,3357.6 305.6,3353.6 306.2,3349.7 C306.9,3345.7 307.5,3341.8 308.2,3337.8 C308.8,3333.9 309.5,3329.9 310.2,3326.0 C310.9,3322.1 311.5,3318.1 312.2,3314.2 C312.9,3310.2 313.7,3306.3 314.4,3302.3 C315.1,3298.4 315.8,3294.5 316.6,3290.5 C317.3,3286.6 318.0,3282.7 318.8,3278.7 C319.5,3274.8 320.3,3270.9 321.0,3266.9 C321.8,3263.0 322.5,3259.1 323.3,3255.1 C324.0,3251.2 324.8,3247.3 325.6,3243.4 C326.3,3239.5 327.1,3235.5 327.9,3231.6 C328.6,3227.7 329.4,3223.8 330.2,3219.9 C331.0,3215.9 331.7,3212.0 332.5,3208.1 C333.3,3204.2 334.1,3200.3 334.9,3196.4 C335.7,3192.5 336.5,3188.6 337.3,3184.7 C338.2,3180.8 339.0,3176.9 339.8,3173.0 C340.6,3169.1 341.5,3165.2 342.3,3161.3 C343.2,3157.4 344.0,3153.5 344.9,3149.6 C345.7,3145.7 346.6,3141.8 347.5,3137.9 C348.4,3134.0 349.3,3130.1 350.2,3126.3 C351.1,3122.4 352.0,3118.5 352.9,3114.6 C353.8,3110.7 354.7,3106.9 355.7,3103.0 C356.6,3099.1 357.6,3095.3 358.6,3091.4 C359.5,3087.5 360.5,3083.7 361.5,3079.8 C362.5,3075.9 363.5,3072.1 364.5,3068.2 C365.5,3064.4 366.5,3060.5 367.6,3056.6 C368.6,3052.8 369.7,3048.9 370.7,3045.1 C371.8,3041.2 372.9,3037.4 374.0,3033.6 C375.1,3029.7 376.2,3025.9 377.4,3022.0 C378.5,3018.2 379.6,3014.4 380.8,3010.5 C381.9,3006.7 383.1,3002.9 384.3,2999.1 C385.5,2995.2 386.7,2991.4 387.9,2987.6 C389.1,2983.8 390.3,2980.0 391.6,2976.2 C392.8,2972.4 394.0,2968.6 395.3,2964.8 C396.6,2961.0 397.8,2957.2 399.1,2953.4 C400.4,2949.6 401.7,2945.8 402.9,2942.0 C404.2,2938.2 405.5,2934.4 406.9,2930.7 C408.2,2926.9 409.5,2923.1 410.8,2919.4 C412.2,2915.6 413.5,2911.8 414.9,2908.1 C416.2,2904.3 417.6,2900.6 419.0,2896.8 C420.4,2893.1 421.8,2889.4 423.2,2885.6 C424.6,2881.9 426.0,2878.2 427.5,2874.5 C428.9,2870.7 430.4,2867.0 431.9,2863.3 C433.4,2859.6 434.9,2855.9 436.4,2852.2 C438.0,2848.5 439.5,2844.9 441.1,2841.2 C442.6,2837.5 444.2,2833.8 445.8,2830.2 C447.4,2826.5 449.1,2822.8 450.7,2819.2 C452.4,2815.5 454.0,2811.9 455.7,2808.3 C457.4,2804.6 459.1,2801.0 460.8,2797.4 C462.5,2793.7 464.3,2790.1 466.0,2786.5 C467.8,2782.9 469.6,2779.3 471.4,2775.7 C473.2,2772.2 475.0,2768.6 476.8,2765.0 C478.7,2761.4 480.5,2757.9 482.4,2754.3 C484.3,2750.8 486.2,2747.2 488.1,2743.7 C490.0,2740.2 491.9,2736.6 493.9,2733.1 C495.8,2729.6 497.8,2726.1 499.8,2722.6 C501.8,2719.1 503.8,2715.7 505.9,2712.2 C507.9,2708.8 510.0,2705.3 512.1,2701.9 C514.2,2698.5 516.3,2695.1 518.5,2691.8 C520.6,2688.4 522.8,2685.0 525.0,2681.7 C527.2,2678.4 529.5,2675.1 531.8,2671.8 C534.0,2668.5 536.4,2665.3 538.7,2662.1 C541.0,2658.8 543.4,2655.7 545.8,2652.5 C548.2,2649.3 550.7,2646.2 553.2,2643.1 C555.6,2640.0 558.1,2637.0 560.7,2633.9 C563.3,2630.9 565.9,2627.9 568.5,2625.0 C571.1,2622.1 573.8,2619.1 576.5,2616.3 C579.2,2613.4 582.0,2610.6 584.8,2607.8 C587.6,2605.1 590.5,2602.4 593.4,2599.7 C596.3,2597.0 599.2,2594.4 602.2,2591.8 C605.2,2589.3 608.3,2586.8 611.4,2584.3 C614.5,2581.9 617.6,2579.5 620.8,2577.1 C624.1,2574.8 627.3,2572.5 630.6,2570.3 C634.0,2568.1 637.3,2566.0 640.8,2563.9 C644.2,2561.9 647.7,2559.9 651.2,2558.0 C654.8,2556.0 658.4,2554.2 662.1,2552.4 C665.8,2550.6 669.6,2549.0 673.3,2547.3 C677.3,2547.8 681.3,2548.1 685.2,2548.8 C689.1,2549.6 692.8,2550.7 696.5,2551.9 C700.2,2553.2 703.8,2554.7 707.3,2556.4 C710.8,2558.0 714.2,2559.9 717.5,2562.0 C720.9,2564.0 724.2,2566.2 727.4,2568.5 C730.6,2570.8 733.8,2573.3 736.9,2575.9 C740.0,2578.4 743.0,2581.1 746.0,2583.8 C749.1,2586.5 752.0,2589.3 755.0,2592.1 C757.9,2594.9 760.8,2597.8 763.7,2600.7 C766.6,2603.5 769.5,2606.4 772.4,2609.2 C775.3,2612.1 778.1,2614.9 781.0,2617.7 C783.8,2620.5 786.6,2623.3 789.5,2626.1 C792.3,2628.9 795.1,2631.6 797.9,2634.4 C800.7,2637.2 803.5,2640.0 806.2,2642.8 C809.0,2645.5 811.7,2648.3 814.5,2651.1 C817.2,2653.9 819.9,2656.8 822.6,2659.6 C825.3,2662.4 828.0,2665.3 830.7,2668.2 C833.3,2671.1 836.0,2674.0 838.6,2676.9 C841.2,2679.9 843.8,2682.8 846.4,2685.8 C849.0,2688.8 851.6,2691.9 854.1,2694.9 C856.6,2698.0 859.2,2701.1 861.7,2704.2 C864.2,2707.3 866.7,2710.5 869.1,2713.6 C871.6,2716.8 874.0,2720.0 876.4,2723.2 C878.8,2726.4 881.2,2729.6 883.6,2732.8 C886.0,2736.1 888.3,2739.3 890.6,2742.6 C893.0,2745.9 895.3,2749.2 897.6,2752.5 C899.8,2755.8 902.1,2759.1 904.3,2762.4 C906.5,2765.8 908.7,2769.1 910.9,2772.4 C913.1,2775.8 915.3,2779.1 917.4,2782.5 C919.5,2785.9 921.7,2789.2 923.8,2792.6 C925.9,2796.0 928.0,2799.3 930.1,2802.7 C932.1,2806.1 934.2,2809.4 936.3,2812.8 C938.4,2816.2 940.5,2819.5 942.5,2822.9 C944.6,2826.2 946.7,2829.6 948.8,2832.9 C950.9,2836.3 953.0,2839.6 955.1,2843.0 C957.3,2846.3 959.4,2849.6 961.6,2852.9 C963.8,2856.2 965.9,2859.5 968.2,2862.8 C970.4,2866.1 972.6,2869.3 974.9,2872.6 C977.1,2875.9 979.4,2879.1 981.7,2882.4 C983.9,2885.6 986.2,2888.8 988.6,2892.1 C990.9,2895.3 993.2,2898.5 995.5,2901.8 C997.8,2905.0 1000.1,2908.2 1002.5,2911.5 C1004.8,2914.7 1007.1,2917.9 1009.4,2921.2 C1011.7,2924.4 1014.0,2927.7 1016.3,2930.9 C1018.6,2934.2 1020.9,2937.4 1023.2,2940.7 C1025.5,2944.0 1027.8,2947.3 1030.0,2950.5 C1032.3,2953.8 1034.6,2957.1 1036.8,2960.4 C1039.1,2963.7 1041.4,2966.9 1043.6,2970.2 C1045.9,2973.5 1048.1,2976.8 1050.4,2980.1 C1052.7,2983.4 1054.9,2986.6 1057.2,2989.9 C1059.5,2993.2 1061.8,2996.5 1064.1,2999.7 C1066.4,3003.0 1068.7,3006.2 1071.0,3009.5 C1073.3,3012.7 1075.6,3016.0 1078.0,3019.2 C1080.3,3022.4 1082.6,3025.6 1085.0,3028.8 C1087.4,3032.0 1089.8,3035.2 1092.2,3038.4 C1094.6,3041.5 1097.0,3044.7 1099.4,3047.8 C1101.8,3051.0 1104.3,3054.1 1106.8,3057.2 C1109.2,3060.3 1111.7,3063.4 1114.2,3066.5 C1116.7,3069.6 1119.2,3072.7 1121.7,3075.7 C1124.3,3078.8 1126.8,3081.8 1129.4,3084.9 C1131.9,3087.9 1134.5,3090.9 1137.1,3093.9 C1139.7,3097.0 1142.3,3099.9 1144.9,3102.9 C1147.5,3105.9 1150.1,3108.9 1152.8,3111.8 C1155.4,3114.8 1158.1,3117.7 1160.8,3120.7 C1163.4,3123.6 1166.1,3126.5 1168.8,3129.4 C1171.5,3132.3 1174.3,3135.2 1177.0,3138.1 C1179.7,3141.0 1182.5,3143.8 1185.3,3146.7 C1188.0,3149.5 1190.8,3152.4 1193.6,3155.2 C1196.4,3158.0 1199.2,3160.8 1202.0,3163.6 C1204.8,3166.5 1207.7,3169.2 1210.5,3172.0 C1213.3,3174.8 1216.2,3177.6 1219.1,3180.3 C1222.0,3183.1 1224.8,3185.8 1227.7,3188.5 C1230.6,3191.3 1233.6,3194.0 1236.5,3196.7 C1239.4,3199.4 1242.3,3202.1 1245.3,3204.7 C1248.3,3207.4 1251.2,3210.1 1254.2,3212.7 C1257.2,3215.4 1260.2,3218.0 1263.2,3220.7 C1266.2,3223.3 1269.2,3225.9 1272.2,3228.5 C1275.3,3231.1 1278.3,3233.7 1281.3,3236.3 C1284.4,3238.8 1287.5,3241.4 1290.5,3243.9 C1293.6,3246.5 1296.7,3249.0 1299.8,3251.5 C1302.9,3254.0 1306.0,3256.5 1309.2,3259.0 C1312.3,3261.5 1315.4,3264.0 1318.6,3266.4 C1321.7,3268.9 1324.9,3271.3 1328.1,3273.8 C1331.2,3276.2 1334.4,3278.6 1337.6,3281.0 C1340.8,3283.4 1344.0,3285.7 1347.2,3288.1 C1350.4,3290.5 1353.7,3292.8 1356.9,3295.1 C1360.1,3297.4 1363.4,3299.7 1366.7,3302.0 C1369.9,3304.3 1373.2,3306.6 1376.5,3308.8 C1379.7,3311.1 1383.0,3313.3 1386.3,3315.5 C1389.6,3317.7 1393.0,3319.9 1396.3,3322.1 C1399.6,3324.3 1402.9,3326.4 1406.3,3328.6 C1409.6,3330.7 1413.0,3332.8 1416.3,3334.9 C1419.7,3337.0 1423.1,3339.1 1426.5,3341.1 C1429.8,3343.2 1433.2,3345.2 1436.6,3347.2 C1440.0,3349.2 1443.5,3351.2 1446.9,3353.2 C1450.3,3355.1 1453.7,3357.1 1457.2,3359.0 C1460.6,3360.9 1464.1,3362.8 1467.5,3364.7 C1471.0,3366.6 1474.4,3368.5 1477.9,3370.4 C1481.4,3372.2 1484.9,3374.1 1488.4,3375.9 C1491.9,3377.7 1495.4,3379.5 1498.9,3381.3 C1502.4,3383.1 1505.9,3384.9 1509.4,3386.7 C1513.0,3388.5 1516.5,3390.3 1520.0,3392.0 C1523.6,3393.8 1527.1,3395.6 1530.7,3397.3 C1534.3,3399.1 1537.8,3400.8 1541.4,3402.6 C1545.0,3404.3 1548.6,3406.0 1552.2,3407.8 C1555.8,3409.5 1559.4,3411.2 1563.0,3412.9 C1566.6,3414.6 1570.2,3416.4 1573.8,3418.1 C1577.4,3419.8 1581.1,3421.4 1584.7,3423.1 C1588.3,3424.8 1592.0,3426.5 1595.6,3428.1 C1599.3,3429.8 1602.9,3431.4 1606.6,3433.1 C1610.3,3434.7 1613.9,3436.3 1617.6,3437.9 C1621.3,3439.5 1625.0,3441.1 1628.7,3442.7 C1632.3,3444.2 1636.0,3445.8 1639.8,3447.3 C1643.5,3448.8 1647.2,3450.4 1650.9,3451.8 C1654.6,3453.3 1658.3,3454.8 1662.0,3456.2 C1665.8,3457.7 1669.5,3459.1 1673.2,3460.5 C1677.0,3461.9 1680.7,3463.3 1684.5,3464.6 C1688.2,3466.0 1692.0,3467.3 1695.8,3468.6 C1699.5,3469.9 1703.3,3471.2 1707.1,3472.5 C1710.8,3473.7 1714.6,3474.9 1718.4,3476.2 C1722.2,3477.4 1726.0,3478.6 1729.8,3479.7 C1733.6,3480.9 1737.4,3482.0 1741.2,3483.2 C1745.0,3484.3 1748.8,3485.4 1752.6,3486.5 C1756.4,3487.6 1760.2,3488.7 1764.0,3489.7 C1767.9,3490.8 1771.7,3491.8 1775.5,3492.8 C1779.3,3493.9 1783.2,3494.9 1787.0,3495.8 C1790.9,3496.8 1794.7,3497.8 1798.5,3498.7 C1802.4,3499.7 1806.2,3500.6 1810.1,3501.6 C1814.0,3502.5 1817.8,3503.4 1821.7,3504.3 C1825.5,3505.2 1829.4,3506.1 1833.3,3506.9 C1837.1,3507.8 1841.0,3508.7 1844.9,3509.5 C1848.8,3510.4 1852.6,3511.2 1856.5,3512.0 C1860.4,3512.8 1864.3,3513.6 1868.2,3514.4 C1872.1,3515.2 1876.0,3516.0 1879.8,3516.8 C1883.7,3517.6 1887.6,3518.4 1891.5,3519.1 C1895.4,3519.9 1899.3,3520.7 1903.2,3521.4 C1907.1,3522.1 1911.0,3522.9 1915.0,3523.6 C1918.9,3524.4 1922.8,3525.1 1926.7,3525.8 C1930.6,3526.5 1934.5,3527.2 1938.4,3528.0 C1942.3,3528.7 1946.3,3529.4 1950.2,3530.1 C1954.1,3530.8 1958.0,3531.5 1962.0,3532.2 C1965.9,3532.9 1969.8,3533.6 1973.7,3534.3 C1977.7,3534.9 1981.6,3535.6 1985.5,3536.3 C1989.4,3537.0 1993.4,3537.7 1997.3,3538.4 C2001.2,3539.1 2005.2,3539.8 2009.1,3540.4 C2013.0,3541.1 2017.0,3541.8 2020.9,3542.5" fill="none" stroke="#00A82D" stroke-width="7" stroke-linejoin="round" stroke-linecap="butt"/>
<path d="M264.0,3715.0 C264.1,3711.0 264.1,3707.1 264.2,3703.1 C264.3,3699.2 264.4,3695.2 264.5,3691.3 C264.6,3687.3 264.8,3683.3 264.9,3679.4 C265.1,3675.4 265.3,3671.5 265.4,3667.5 C265.6,3663.5 265.8,3659.6 266.1,3655.6 C266.3,3651.6 266.5,3647.7 266.7,3643.7 C267.0,3639.7 267.2,3635.8 267.5,3631.8 C267.8,3627.8 268.1,3623.9 268.4,3619.9 C268.7,3615.9 269.0,3612.0 269.3,3608.0 C269.6,3604.0 269.9,3600.0 270.2,3596.1 C270.6,3592.1 270.9,3588.1 271.3,3584.2 C271.6,3580.2 272.0,3576.2 272.4,3572.2 C272.7,3568.3 273.1,3564.3 273.5,3560.3 C273.9,3556.3 274.2,3552.4 274.6,3548.4 C275.0,3544.4 275.4,3540.4 275.8,3536.5 C276.2,3532.5 276.6,3528.5 277.0,3524.5 C277.4,3520.6 277.9,3516.6 278.3,3512.6 C278.7,3508.6 279.1,3504.7 279.5,3500.7 C279.9,3496.7 280.3,3492.7 280.8,3488.8 C281.2,3484.8 281.6,3480.8 282.0,3476.8 C282.4,3472.9 282.8,3468.9 283.3,3464.9 C283.7,3460.9 284.1,3457.0 284.5,3453.0 C284.9,3449.0 285.3,3445.0 285.7,3441.1 C286.1,3437.1 286.5,3433.1 286.9,3429.1 C287.3,3425.2 287.7,3421.2 288.2,3417.2 C288.6,3413.3 289.0,3409.3 289.4,3405.3 C289.8,3401.3 290.2,3397.4 290.6,3393.4 C291.0,3389.4 291.4,3385.5 291.8,3381.5 C292.2,3377.5 292.7,3373.6 293.1,3369.6 C293.5,3365.6 293.9,3361.6 294.3,3357.7 C294.7,3353.7 295.2,3349.7 295.6,3345.8 C296.0,3341.8 296.5,3337.9 296.9,3333.9 C297.3,3329.9 297.8,3326.0 298.2,3322.0 C298.6,3318.0 299.1,3314.1 299.5,3310.1 C300.0,3306.2 300.4,3302.2 300.9,3298.2 C301.3,3294.3 301.8,3290.3 302.3,3286.4 C302.7,3282.4 303.2,3278.5 303.7,3274.5 C304.1,3270.6 304.6,3266.6 305.1,3262.6 C305.6,3258.7 306.1,3254.7 306.6,3250.8 C307.1,3246.9 307.5,3242.9 308.0,3239.0 C308.5,3235.0 309.0,3231.1 309.6,3227.1 C310.1,3223.2 310.6,3219.2 311.1,3215.3 C311.6,3211.4 312.1,3207.4 312.6,3203.5 C313.2,3199.5 313.7,3195.6 314.2,3191.7 C314.8,3187.7 315.3,3183.8 315.9,3179.9 C316.4,3175.9 317.0,3172.0 317.5,3168.1 C318.1,3164.2 318.7,3160.2 319.2,3156.3 C319.8,3152.4 320.4,3148.5 321.0,3144.5 C321.6,3140.6 322.2,3136.7 322.8,3132.8 C323.4,3128.9 324.0,3124.9 324.7,3121.0 C325.3,3117.1 325.9,3113.2 326.6,3109.3 C327.3,3105.4 327.9,3101.5 328.6,3097.6 C329.3,3093.7 330.0,3089.8 330.7,3085.9 C331.4,3082.0 332.1,3078.1 332.9,3074.2 C333.6,3070.3 334.4,3066.4 335.2,3062.5 C336.0,3058.6 336.8,3054.7 337.6,3050.8 C338.4,3046.9 339.2,3043.0 340.1,3039.2 C341.0,3035.3 341.8,3031.4 342.7,3027.5 C343.7,3023.6 344.6,3019.8 345.5,3015.9 C346.5,3012.0 347.5,3008.2 348.5,3004.3 C349.5,3000.4 350.5,2996.6 351.6,2992.7 C352.7,2988.8 353.8,2985.0 354.9,2981.1 C356.0,2977.3 357.2,2973.4 358.3,2969.5 C359.5,2965.7 360.8,2961.8 362.0,2958.0 C363.1,2954.2 364.2,2950.4 365.4,2946.7 C366.6,2942.9 367.8,2939.2 369.1,2935.4 C370.3,2931.7 371.7,2928.0 373.0,2924.2 C374.4,2920.5 375.8,2916.8 377.2,2913.1 C378.6,2909.4 380.1,2905.7 381.6,2902.0 C383.1,2898.3 384.6,2894.7 386.2,2891.0 C387.8,2887.3 389.4,2883.7 391.0,2880.0 C392.6,2876.4 394.2,2872.7 395.9,2869.1 C397.6,2865.4 399.2,2861.8 400.9,2858.2 C402.6,2854.6 404.4,2851.0 406.1,2847.4 C407.8,2843.8 409.6,2840.2 411.3,2836.6 C413.1,2833.0 414.8,2829.4 416.6,2825.8 C418.4,2822.3 420.1,2818.7 421.9,2815.1 C423.7,2811.6 425.5,2808.0 427.3,2804.5 C429.1,2800.9 430.9,2797.4 432.7,2793.8 C434.5,2790.3 436.3,2786.8 438.1,2783.3 C440.0,2779.7 441.8,2776.2 443.7,2772.7 C445.5,2769.2 447.4,2765.7 449.3,2762.2 C451.2,2758.7 453.1,2755.2 455.0,2751.7 C456.9,2748.2 458.8,2744.8 460.7,2741.3 C462.7,2737.8 464.6,2734.3 466.6,2730.9 C468.6,2727.4 470.6,2723.9 472.6,2720.5 C474.6,2717.0 476.6,2713.6 478.6,2710.2 C480.7,2706.7 482.7,2703.3 484.8,2699.9 C486.9,2696.5 489.0,2693.1 491.1,2689.7 C493.3,2686.3 495.4,2682.9 497.6,2679.6 C499.7,2676.2 501.9,2672.9 504.2,2669.5 C506.4,2666.2 508.6,2662.9 510.9,2659.6 C513.2,2656.4 515.5,2653.1 517.8,2649.9 C520.1,2646.6 522.5,2643.4 524.8,2640.2 C527.2,2637.0 529.6,2633.9 532.1,2630.7 C534.5,2627.6 537.0,2624.5 539.5,2621.4 C542.0,2618.3 544.5,2615.3 547.1,2612.3 C549.7,2609.3 552.3,2606.3 554.9,2603.3 C557.6,2600.4 560.3,2597.5 563.0,2594.6 C565.7,2591.7 568.4,2588.9 571.2,2586.1 C574.0,2583.3 576.8,2580.5 579.7,2577.8 C582.6,2575.1 585.5,2572.5 588.4,2569.9 C591.4,2567.3 594.4,2564.7 597.4,2562.2 C600.5,2559.7 603.5,2557.3 606.7,2554.9 C609.8,2552.5 613.0,2550.2 616.2,2547.9 C619.4,2545.7 622.7,2543.5 626.0,2541.3 C629.4,2539.2 632.7,2537.1 636.2,2535.2 C639.6,2533.2 643.1,2531.2 646.6,2529.4 C650.2,2527.6 653.8,2525.8 657.4,2524.1 C661.1,2522.4 664.8,2520.8 668.5,2519.3 C672.3,2517.8 676.2,2516.4 680.0,2515.0 C684.2,2515.5 688.4,2515.7 692.5,2516.5 C696.4,2517.3 700.2,2518.5 703.9,2519.8 C707.6,2521.2 711.1,2522.8 714.6,2524.6 C718.0,2526.4 721.3,2528.5 724.6,2530.6 C727.9,2532.7 731.1,2535.0 734.2,2537.3 C737.4,2539.6 740.5,2542.0 743.6,2544.4 C746.7,2546.9 749.8,2549.3 752.9,2551.8 C756.0,2554.4 759.0,2556.9 762.0,2559.5 C765.1,2562.1 768.1,2564.7 771.0,2567.4 C774.0,2570.0 777.0,2572.7 779.9,2575.4 C782.8,2578.2 785.8,2580.9 788.6,2583.7 C791.5,2586.5 794.4,2589.3 797.2,2592.2 C800.1,2595.0 802.9,2597.9 805.6,2600.8 C808.4,2603.7 811.2,2606.6 813.9,2609.6 C816.6,2612.5 819.3,2615.5 822.0,2618.5 C824.7,2621.5 827.3,2624.5 829.9,2627.6 C832.5,2630.6 835.1,2633.7 837.7,2636.7 C840.2,2639.8 842.7,2642.9 845.2,2646.0 C847.7,2649.1 850.2,2652.3 852.6,2655.4 C855.1,2658.6 857.5,2661.7 859.9,2664.9 C862.3,2668.1 864.6,2671.3 867.0,2674.5 C869.4,2677.7 871.7,2680.9 874.0,2684.1 C876.3,2687.4 878.6,2690.6 880.9,2693.8 C883.2,2697.1 885.4,2700.4 887.7,2703.6 C889.9,2706.9 892.2,2710.2 894.4,2713.5 C896.6,2716.8 898.8,2720.0 901.1,2723.3 C903.3,2726.6 905.5,2730.0 907.6,2733.3 C909.8,2736.6 912.0,2739.9 914.2,2743.2 C916.4,2746.5 918.6,2749.9 920.7,2753.2 C922.9,2756.5 925.1,2759.8 927.2,2763.2 C929.4,2766.5 931.6,2769.8 933.8,2773.2 C935.9,2776.5 938.1,2779.8 940.3,2783.1 C942.5,2786.5 944.6,2789.8 946.8,2793.1 C949.0,2796.4 951.2,2799.8 953.4,2803.1 C955.6,2806.4 957.9,2809.7 960.1,2813.0 C962.3,2816.3 964.6,2819.6 966.8,2822.9 C969.0,2826.2 971.3,2829.5 973.6,2832.8 C975.8,2836.1 978.1,2839.4 980.4,2842.7 C982.6,2845.9 984.9,2849.2 987.2,2852.5 C989.4,2855.8 991.7,2859.1 994.0,2862.4 C996.2,2865.7 998.5,2868.9 1000.7,2872.2 C1003.0,2875.5 1005.2,2878.8 1007.5,2882.1 C1009.7,2885.4 1011.9,2888.7 1014.2,2892.1 C1016.4,2895.4 1018.6,2898.7 1020.8,2902.0 C1023.0,2905.4 1025.1,2908.7 1027.3,2912.0 C1029.5,2915.4 1031.6,2918.7 1033.8,2922.1 C1035.9,2925.4 1038.1,2928.8 1040.2,2932.1 C1042.4,2935.5 1044.5,2938.8 1046.6,2942.2 C1048.8,2945.5 1050.9,2948.9 1053.0,2952.3 C1055.2,2955.6 1057.3,2959.0 1059.4,2962.3 C1061.6,2965.7 1063.7,2969.0 1065.9,2972.4 C1068.0,2975.7 1070.2,2979.0 1072.4,2982.4 C1074.5,2985.7 1076.7,2989.0 1078.9,2992.4 C1081.1,2995.7 1083.3,2999.0 1085.5,3002.3 C1087.7,3005.6 1089.9,3008.9 1092.2,3012.2 C1094.4,3015.5 1096.7,3018.7 1099.0,3022.0 C1101.2,3025.3 1103.5,3028.5 1105.8,3031.8 C1108.1,3035.0 1110.4,3038.3 1112.8,3041.5 C1115.1,3044.7 1117.4,3047.9 1119.8,3051.1 C1122.2,3054.3 1124.5,3057.5 1126.9,3060.7 C1129.3,3063.9 1131.7,3067.1 1134.1,3070.2 C1136.6,3073.4 1139.0,3076.6 1141.5,3079.7 C1143.9,3082.8 1146.4,3086.0 1148.9,3089.1 C1151.3,3092.2 1153.8,3095.3 1156.3,3098.4 C1158.9,3101.5 1161.4,3104.6 1163.9,3107.6 C1166.5,3110.7 1169.0,3113.8 1171.6,3116.8 C1174.2,3119.8 1176.8,3122.9 1179.4,3125.9 C1182.0,3128.9 1184.6,3131.9 1187.3,3134.9 C1189.9,3137.9 1192.5,3140.9 1195.2,3143.8 C1197.9,3146.8 1200.6,3149.7 1203.3,3152.7 C1206.0,3155.6 1208.7,3158.5 1211.4,3161.4 C1214.2,3164.3 1216.9,3167.2 1219.7,3170.1 C1222.5,3172.9 1225.3,3175.8 1228.1,3178.6 C1230.9,3181.5 1233.7,3184.3 1236.5,3187.1 C1239.4,3189.9 1242.2,3192.7 1245.1,3195.5 C1247.9,3198.3 1250.8,3201.0 1253.7,3203.8 C1256.6,3206.5 1259.6,3209.2 1262.5,3211.9 C1265.4,3214.6 1268.4,3217.3 1271.4,3220.0 C1274.3,3222.7 1277.3,3225.3 1280.3,3228.0 C1283.3,3230.6 1286.3,3233.2 1289.4,3235.8 C1292.4,3238.4 1295.5,3241.0 1298.5,3243.6 C1301.6,3246.2 1304.7,3248.7 1307.8,3251.2 C1310.9,3253.8 1314.0,3256.3 1317.1,3258.7 C1320.2,3261.2 1323.4,3263.7 1326.5,3266.2 C1329.7,3268.6 1332.8,3271.0 1336.0,3273.4 C1339.2,3275.8 1342.4,3278.2 1345.6,3280.6 C1348.8,3283.0 1352.1,3285.3 1355.3,3287.6 C1358.5,3290.0 1361.8,3292.3 1365.0,3294.5 C1368.3,3296.8 1371.6,3299.1 1374.9,3301.3 C1378.2,3303.5 1381.5,3305.8 1384.8,3308.0 C1388.1,3310.1 1391.4,3312.3 1394.8,3314.5 C1398.1,3316.6 1401.5,3318.7 1404.8,3320.8 C1408.2,3322.9 1411.6,3325.0 1414.9,3327.1 C1418.3,3329.1 1421.7,3331.1 1425.1,3333.1 C1428.5,3335.1 1432.0,3337.1 1435.4,3339.1 C1438.8,3341.0 1442.3,3343.0 1445.7,3344.9 C1449.2,3346.8 1452.6,3348.7 1456.1,3350.5 C1459.6,3352.4 1463.1,3354.2 1466.6,3356.0 C1470.0,3357.9 1473.5,3359.7 1477.1,3361.5 C1480.6,3363.2 1484.1,3365.0 1487.6,3366.8 C1491.2,3368.5 1494.7,3370.3 1498.2,3372.0 C1501.8,3373.7 1505.4,3375.5 1508.9,3377.2 C1512.5,3378.9 1516.1,3380.6 1519.6,3382.3 C1523.2,3384.0 1526.8,3385.7 1530.4,3387.4 C1534.0,3389.1 1537.6,3390.8 1541.2,3392.5 C1544.8,3394.2 1548.5,3395.8 1552.1,3397.5 C1555.7,3399.2 1559.4,3400.9 1563.0,3402.6 C1566.6,3404.3 1570.3,3405.9 1573.9,3407.6 C1577.6,3409.3 1581.3,3411.0 1584.9,3412.6 C1588.6,3414.3 1592.3,3415.9 1596.0,3417.6 C1599.6,3419.2 1603.3,3420.9 1607.0,3422.5 C1610.7,3424.1 1614.4,3425.7 1618.1,3427.3 C1621.8,3428.9 1625.5,3430.5 1629.2,3432.1 C1633.0,3433.6 1636.7,3435.2 1640.4,3436.7 C1644.1,3438.3 1647.9,3439.8 1651.6,3441.3 C1655.3,3442.8 1659.1,3444.3 1662.8,3445.7 C1666.5,3447.2 1670.3,3448.6 1674.0,3450.1 C1677.8,3451.5 1681.5,3452.9 1685.3,3454.3 C1689.0,3455.6 1692.8,3457.0 1696.6,3458.3 C1700.3,3459.6 1704.1,3460.9 1707.9,3462.2 C1711.6,3463.5 1715.4,3464.8 1719.2,3466.0 C1723.0,3467.3 1726.7,3468.5 1730.5,3469.7 C1734.3,3470.9 1738.1,3472.1 1741.9,3473.3 C1745.7,3474.4 1749.5,3475.6 1753.3,3476.7 C1757.1,3477.8 1760.9,3479.0 1764.7,3480.1 C1768.5,3481.2 1772.3,3482.2 1776.1,3483.3 C1779.9,3484.4 1783.7,3485.4 1787.6,3486.4 C1791.4,3487.5 1795.2,3488.5 1799.0,3489.5 C1802.9,3490.5 1806.7,3491.5 1810.5,3492.5 C1814.4,3493.4 1818.2,3494.4 1822.0,3495.4 C1825.9,3496.3 1829.7,3497.2 1833.6,3498.2 C1837.4,3499.1 1841.3,3500.0 1845.1,3500.9 C1849.0,3501.8 1852.8,3502.7 1856.7,3503.6 C1860.6,3504.4 1864.4,3505.3 1868.3,3506.2 C1872.2,3507.0 1876.0,3507.9 1879.9,3508.7 C1883.8,3509.6 1887.7,3510.4 1891.5,3511.2 C1895.4,3512.0 1899.3,3512.8 1903.2,3513.7 C1907.1,3514.5 1911.0,3515.3 1914.9,3516.1 C1918.8,3516.8 1922.7,3517.6 1926.6,3518.4 C1930.5,3519.2 1934.4,3520.0 1938.3,3520.7 C1942.2,3521.5 1946.1,3522.3 1950.0,3523.0 C1954.0,3523.8 1957.9,3524.6 1961.8,3525.3 C1965.7,3526.1 1969.6,3526.8 1973.6,3527.6 C1977.5,3528.3 1981.4,3529.1 1985.4,3529.8 C1989.3,3530.6 1993.3,3531.3 1997.2,3532.0 C2001.1,3532.8 2005.1,3533.5 2009.0,3534.3 C2013.0,3535.0 2016.9,3535.8 2020.9,3536.5" fill="none" stroke="#0070C0" stroke-width="7" stroke-linejoin="round" stroke-linecap="butt"/>
<path d="M266.0,2636.0 C266.6,2639.8 267.2,2643.6 267.7,2647.4 C268.2,2651.2 268.7,2655.0 269.2,2658.8 C269.6,2662.7 270.0,2666.5 270.4,2670.4 C270.8,2674.2 271.2,2678.1 271.5,2681.9 C271.9,2685.8 272.2,2689.7 272.5,2693.6 C272.8,2697.5 273.1,2701.4 273.3,2705.3 C273.6,2709.2 273.8,2713.1 274.0,2717.0 C274.3,2720.9 274.5,2724.8 274.7,2728.7 C274.9,2732.6 275.1,2736.6 275.3,2740.5 C275.5,2744.4 275.7,2748.3 275.9,2752.2 C276.1,2756.2 276.3,2760.1 276.5,2764.0 C276.7,2767.9 276.9,2771.9 277.2,2775.8 C277.4,2779.7 277.6,2783.6 277.9,2787.5 C278.1,2791.5 278.4,2795.4 278.7,2799.3 C279.0,2803.2 279.3,2807.1 279.6,2811.0 C279.9,2814.9 280.3,2818.8 280.6,2822.6 C281.0,2826.5 281.4,2830.4 281.8,2834.3 C282.3,2838.1 282.7,2842.0 283.3,2845.8 C283.8,2849.7 284.3,2853.5 284.9,2857.3 C285.5,2861.1 286.1,2865.0 286.8,2868.7 C287.4,2872.5 288.1,2876.3 289.0,2880.0 C289.9,2883.7 290.9,2887.4 292.3,2890.8 C293.8,2894.3 295.5,2897.7 297.7,2900.6 C300.0,2903.7 303.2,2906.2 306.0,2909.0 C309.3,2906.8 312.7,2904.7 315.9,2902.4 C319.1,2900.0 322.1,2897.5 325.1,2894.9 C328.1,2892.3 331.0,2889.5 333.9,2886.7 C336.7,2883.9 339.5,2881.0 342.3,2878.1 C345.0,2875.2 347.7,2872.2 350.4,2869.2 C353.0,2866.2 355.6,2863.2 358.3,2860.2 C360.9,2857.1 363.5,2854.1 366.1,2851.1 C368.7,2848.1 371.2,2845.1 373.8,2842.0 C376.3,2839.0 378.9,2836.0 381.4,2832.9 C383.9,2829.9 386.4,2826.8 388.9,2823.8 C391.4,2820.7 393.9,2817.6 396.4,2814.6 C398.8,2811.5 401.3,2808.4 403.8,2805.3 C406.2,2802.2 408.7,2799.1 411.1,2795.9 C413.6,2792.8 416.0,2789.6 418.4,2786.5 C420.8,2783.3 423.3,2780.1 425.7,2776.9 C428.1,2773.7 430.5,2770.5 432.9,2767.3 C435.3,2764.1 437.6,2760.9 440.0,2757.6 C442.4,2754.4 444.7,2751.1 447.1,2747.8 C449.4,2744.6 451.7,2741.3 454.0,2738.0 C456.3,2734.7 458.6,2731.4 460.9,2728.1 C463.1,2724.8 465.4,2721.5 467.6,2718.2 C469.8,2714.9 472.1,2711.6 474.2,2708.2 C476.4,2704.9 478.6,2701.6 480.7,2698.2 C482.9,2694.9 485.0,2691.6 487.1,2688.2 C489.2,2684.9 491.3,2681.6 493.4,2678.2 C495.5,2674.9 497.6,2671.5 499.7,2668.2 C501.8,2664.8 503.9,2661.5 506.0,2658.2 C508.1,2654.8 510.2,2651.5 512.3,2648.2 C514.4,2644.8 516.6,2641.5 518.7,2638.2 C520.9,2634.9 523.1,2631.5 525.3,2628.2 C527.5,2624.9 529.7,2621.6 532.0,2618.3 C534.3,2615.0 536.6,2611.7 538.9,2608.5 C541.3,2605.2 543.7,2602.0 546.1,2598.8 C548.5,2595.6 551.0,2592.4 553.5,2589.2 C556.0,2586.1 558.6,2583.0 561.2,2580.0 C563.8,2576.9 566.4,2573.9 569.1,2571.0 C571.8,2568.0 574.6,2565.2 577.4,2562.3 C580.2,2559.5 583.1,2556.8 586.0,2554.1 C588.9,2551.5 591.9,2548.9 595.0,2546.4 C598.0,2543.9 601.2,2541.5 604.4,2539.2 C607.5,2536.9 610.8,2534.6 614.1,2532.5 C617.4,2530.3 620.8,2528.3 624.3,2526.3 C627.8,2524.3 631.3,2522.4 634.9,2520.5 C638.6,2518.7 642.3,2516.8 646.0,2515.2 C649.8,2513.5 653.6,2511.9 657.5,2510.5 C661.3,2509.1 665.2,2507.8 669.2,2506.7 C673.1,2505.7 677.0,2504.9 680.9,2504.3 C684.8,2503.8 688.8,2503.5 692.7,2503.6 C696.5,2503.7 700.4,2504.0 704.2,2504.7 C708.0,2505.3 711.8,2506.3 715.4,2507.4 C719.1,2508.6 722.7,2510.1 726.2,2511.8 C729.8,2513.6 733.2,2515.6 736.5,2517.7 C739.9,2519.9 743.1,2522.2 746.3,2524.7 C749.6,2527.1 752.7,2529.7 755.8,2532.3 C759.0,2534.8 762.1,2537.5 765.2,2540.1 C768.3,2542.7 771.3,2545.3 774.4,2547.9 C777.4,2550.6 780.4,2553.2 783.4,2555.9 C786.4,2558.6 789.4,2561.3 792.3,2564.0 C795.3,2566.7 798.2,2569.4 801.1,2572.1 C804.0,2574.9 806.8,2577.7 809.7,2580.5 C812.5,2583.3 815.3,2586.1 818.1,2588.9 C820.8,2591.8 823.6,2594.7 826.3,2597.6 C829.0,2600.5 831.7,2603.5 834.3,2606.5 C837.0,2609.5 839.6,2612.5 842.1,2615.5 C844.7,2618.6 847.2,2621.7 849.7,2624.8 C852.2,2628.0 854.7,2631.1 857.1,2634.3 C859.6,2637.5 862.0,2640.7 864.3,2643.9 C866.7,2647.1 869.0,2650.3 871.2,2653.5 C873.5,2656.8 875.8,2660.0 878.0,2663.2 C880.2,2666.5 882.4,2669.7 884.6,2673.0 C886.7,2676.3 888.9,2679.5 891.0,2682.8 C893.2,2686.1 895.3,2689.4 897.4,2692.7 C899.6,2696.0 901.7,2699.3 903.8,2702.6 C905.9,2705.9 908.0,2709.2 910.2,2712.5 C912.3,2715.8 914.4,2719.1 916.6,2722.4 C918.7,2725.8 920.9,2729.1 923.0,2732.4 C925.2,2735.8 927.4,2739.1 929.7,2742.5 C931.9,2745.8 934.1,2749.1 936.4,2752.5 C938.6,2755.8 940.9,2759.2 943.2,2762.5 C945.4,2765.9 947.7,2769.2 949.9,2772.6 C952.2,2775.9 954.4,2779.3 956.6,2782.7 C958.9,2786.0 961.1,2789.4 963.3,2792.7 C965.5,2796.1 967.7,2799.4 969.9,2802.8 C972.1,2806.2 974.3,2809.5 976.5,2812.9 C978.6,2816.2 980.8,2819.6 983.0,2823.0 C985.1,2826.3 987.3,2829.7 989.4,2833.1 C991.6,2836.4 993.7,2839.8 995.9,2843.1 C998.0,2846.5 1000.2,2849.9 1002.3,2853.2 C1004.4,2856.6 1006.6,2859.9 1008.7,2863.3 C1010.8,2866.6 1013.0,2870.0 1015.1,2873.4 C1017.2,2876.7 1019.3,2880.1 1021.5,2883.4 C1023.6,2886.8 1025.7,2890.1 1027.8,2893.5 C1029.9,2896.8 1032.1,2900.2 1034.2,2903.5 C1036.3,2906.9 1038.4,2910.2 1040.6,2913.6 C1042.7,2916.9 1044.8,2920.2 1046.9,2923.6 C1049.1,2926.9 1051.2,2930.2 1053.3,2933.6 C1055.5,2936.9 1057.6,2940.2 1059.8,2943.6 C1061.9,2946.9 1064.1,2950.2 1066.2,2953.5 C1068.4,2956.9 1070.5,2960.2 1072.7,2963.5 C1074.9,2966.8 1077.0,2970.1 1079.2,2973.4 C1081.4,2976.8 1083.6,2980.1 1085.8,2983.4 C1088.0,2986.7 1090.2,2990.0 1092.4,2993.3 C1094.6,2996.6 1096.8,2999.8 1099.0,3003.1 C1101.2,3006.4 1103.5,3009.7 1105.7,3013.0 C1108.0,3016.3 1110.2,3019.5 1112.5,3022.8 C1114.8,3026.1 1117.1,3029.3 1119.3,3032.6 C1121.6,3035.8 1123.9,3039.1 1126.3,3042.3 C1128.6,3045.6 1130.9,3048.8 1133.3,3052.1 C1135.6,3055.3 1138.0,3058.5 1140.3,3061.8 C1142.7,3065.0 1145.1,3068.2 1147.5,3071.4 C1149.9,3074.7 1152.3,3077.9 1154.8,3081.1 C1157.2,3084.3 1159.6,3087.5 1162.1,3090.7 C1164.6,3093.8 1167.0,3097.0 1169.5,3100.2 C1172.0,3103.3 1174.5,3106.5 1177.0,3109.6 C1179.5,3112.8 1182.1,3115.9 1184.6,3119.0 C1187.1,3122.1 1189.7,3125.2 1192.2,3128.3 C1194.8,3131.3 1197.3,3134.4 1199.9,3137.4 C1202.4,3140.4 1205.0,3143.4 1207.6,3146.4 C1210.2,3149.4 1212.8,3152.4 1215.4,3155.3 C1218.1,3158.2 1220.7,3161.2 1223.4,3164.0 C1226.1,3166.9 1228.8,3169.8 1231.5,3172.6 C1234.3,3175.4 1237.1,3178.2 1239.9,3181.0 C1242.7,3183.7 1245.5,3186.4 1248.4,3189.2 C1251.2,3191.9 1254.1,3194.6 1257.0,3197.3 C1259.9,3200.0 1262.8,3202.7 1265.7,3205.3 C1268.6,3208.0 1271.5,3210.7 1274.4,3213.3 C1277.4,3216.0 1280.3,3218.6 1283.2,3221.3 C1286.2,3223.9 1289.2,3226.5 1292.1,3229.1 C1295.1,3231.7 1298.1,3234.3 1301.1,3236.9 C1304.1,3239.5 1307.2,3242.1 1310.2,3244.7 C1313.2,3247.2 1316.3,3249.8 1319.4,3252.3 C1322.4,3254.9 1325.5,3257.4 1328.6,3259.9 C1331.7,3262.5 1334.8,3265.0 1338.0,3267.5 C1341.1,3270.0 1344.3,3272.5 1347.4,3274.9 C1350.6,3277.4 1353.8,3279.9 1357.0,3282.3 C1360.2,3284.8 1363.4,3287.2 1366.7,3289.6 C1369.9,3292.1 1373.2,3294.5 1376.5,3296.8 C1379.7,3299.2 1383.0,3301.6 1386.3,3303.9 C1389.6,3306.3 1393.0,3308.6 1396.3,3310.9 C1399.6,3313.2 1403.0,3315.4 1406.3,3317.7 C1409.7,3319.9 1413.1,3322.1 1416.5,3324.3 C1419.8,3326.4 1423.2,3328.6 1426.7,3330.7 C1430.1,3332.8 1433.5,3334.8 1436.9,3336.8 C1440.3,3338.8 1443.8,3340.8 1447.2,3342.7 C1450.7,3344.6 1454.1,3346.5 1457.6,3348.4 C1461.0,3350.2 1464.5,3352.0 1468.0,3353.8 C1471.5,3355.6 1474.9,3357.4 1478.4,3359.1 C1481.9,3360.8 1485.4,3362.5 1489.0,3364.2 C1492.5,3365.9 1496.0,3367.6 1499.5,3369.3 C1503.0,3371.0 1506.6,3372.6 1510.1,3374.3 C1513.7,3375.9 1517.2,3377.6 1520.8,3379.2 C1524.3,3380.9 1527.9,3382.6 1531.5,3384.2 C1535.0,3385.9 1538.6,3387.6 1542.2,3389.3 C1545.8,3391.0 1549.4,3392.7 1553.0,3394.4 C1556.6,3396.1 1560.2,3397.8 1563.8,3399.6 C1567.4,3401.3 1571.0,3403.0 1574.7,3404.8 C1578.3,3406.5 1581.9,3408.2 1585.6,3409.9 C1589.2,3411.7 1592.9,3413.4 1596.5,3415.1 C1600.2,3416.8 1603.8,3418.4 1607.5,3420.1 C1611.2,3421.7 1614.8,3423.4 1618.5,3425.0 C1622.2,3426.6 1625.9,3428.2 1629.6,3429.7 C1633.3,3431.3 1637.0,3432.8 1640.7,3434.3 C1644.4,3435.8 1648.1,3437.3 1651.8,3438.8 C1655.5,3440.3 1659.2,3441.7 1663.0,3443.2 C1666.7,3444.6 1670.4,3446.0 1674.2,3447.4 C1677.9,3448.8 1681.6,3450.2 1685.4,3451.5 C1689.1,3452.9 1692.9,3454.2 1696.7,3455.5 C1700.4,3456.9 1704.2,3458.2 1707.9,3459.4 C1711.7,3460.7 1715.5,3462.0 1719.3,3463.2 C1723.0,3464.5 1726.8,3465.7 1730.6,3466.9 C1734.4,3468.1 1738.2,3469.3 1742.0,3470.5 C1745.8,3471.7 1749.6,3472.8 1753.4,3474.0 C1757.2,3475.1 1761.0,3476.2 1764.8,3477.4 C1768.7,3478.5 1772.5,3479.6 1776.3,3480.7 C1780.1,3481.7 1784.0,3482.8 1787.8,3483.9 C1791.6,3484.9 1795.5,3486.0 1799.3,3487.0 C1803.1,3488.0 1807.0,3489.0 1810.8,3490.0 C1814.7,3491.0 1818.5,3492.0 1822.4,3493.0 C1826.2,3494.0 1830.1,3494.9 1833.9,3495.9 C1837.8,3496.9 1841.7,3497.8 1845.5,3498.7 C1849.4,3499.7 1853.3,3500.6 1857.1,3501.5 C1861.0,3502.4 1864.9,3503.3 1868.8,3504.2 C1872.6,3505.1 1876.5,3506.0 1880.4,3506.8 C1884.3,3507.7 1888.2,3508.6 1892.1,3509.4 C1895.9,3510.3 1899.8,3511.1 1903.7,3512.0 C1907.6,3512.8 1911.5,3513.6 1915.4,3514.5 C1919.3,3515.3 1923.2,3516.1 1927.1,3516.9 C1931.0,3517.7 1934.9,3518.5 1938.8,3519.3 C1942.7,3520.1 1946.6,3520.9 1950.5,3521.7 C1954.4,3522.5 1958.3,3523.3 1962.2,3524.1 C1966.1,3524.9 1970.0,3525.6 1973.9,3526.4 C1977.9,3527.2 1981.8,3527.9 1985.7,3528.7 C1989.6,3529.5 1993.5,3530.2 1997.4,3531.0 C2001.3,3531.7 2005.2,3532.5 2009.2,3533.2 C2013.1,3534.0 2017.0,3534.7 2020.9,3535.5" fill="none" stroke="#D7101E" stroke-width="7" stroke-linejoin="round" stroke-linecap="butt"/>
<path d="M266.0,2636.0 C266.3,2639.8 266.6,2643.5 266.8,2647.3 C267.1,2651.0 267.4,2654.8 267.7,2658.6 C268.0,2662.4 268.3,2666.2 268.7,2670.0 C269.0,2673.8 269.3,2677.6 269.7,2681.4 C270.0,2685.2 270.4,2689.0 270.7,2692.8 C271.1,2696.7 271.5,2700.5 271.9,2704.3 C272.3,2708.2 272.7,2712.0 273.1,2715.8 C273.5,2719.7 273.9,2723.5 274.4,2727.3 C274.8,2731.2 275.3,2735.0 275.8,2738.9 C276.2,2742.7 276.7,2746.5 277.2,2750.3 C277.7,2754.2 278.3,2758.0 278.8,2761.8 C279.4,2765.6 279.9,2769.5 280.5,2773.3 C281.1,2777.1 281.7,2780.9 282.3,2784.7 C282.9,2788.4 283.5,2792.2 284.2,2796.0 C284.8,2799.8 285.5,2803.5 286.2,2807.3 C286.9,2811.0 287.6,2814.8 288.3,2818.5 C289.1,2822.2 289.9,2825.9 290.8,2829.6 C291.8,2833.2 292.8,2836.8 294.0,2840.3 C295.2,2843.9 296.5,2847.4 298.0,2850.8 C299.6,2854.1 301.3,2857.5 303.3,2860.7 C305.3,2863.9 307.8,2866.9 310.0,2870.0 C313.6,2868.4 317.2,2866.8 320.8,2865.1 C324.3,2863.4 327.8,2861.6 331.3,2859.8 C334.8,2858.0 338.2,2856.1 341.6,2854.1 C345.0,2852.2 348.4,2850.2 351.7,2848.1 C355.1,2846.1 358.4,2844.0 361.7,2841.8 C365.0,2839.7 368.3,2837.5 371.5,2835.3 C374.8,2833.1 378.0,2830.9 381.2,2828.6 C384.4,2826.4 387.6,2824.1 390.8,2821.8 C394.0,2819.5 397.2,2817.2 400.4,2814.9 C403.6,2812.5 406.7,2810.2 409.9,2807.9 C413.1,2805.6 416.3,2803.2 419.4,2800.9 C422.6,2798.6 425.8,2796.3 429.0,2794.0 C431.3,2790.6 433.8,2787.3 435.9,2783.9 C438.0,2780.5 439.8,2777.1 441.7,2773.7 C443.5,2770.3 445.2,2766.8 447.0,2763.4 C448.8,2760.0 450.6,2756.5 452.6,2753.1 C454.5,2749.7 456.6,2746.2 458.7,2742.8 C460.8,2739.4 463.0,2735.9 465.1,2732.5 C467.2,2729.0 469.4,2725.6 471.4,2722.1 C473.5,2718.7 475.6,2715.2 477.6,2711.8 C479.6,2708.3 481.6,2704.9 483.6,2701.4 C485.6,2698.0 487.6,2694.5 489.6,2691.1 C491.6,2687.6 493.5,2684.2 495.5,2680.7 C497.5,2677.3 499.4,2673.8 501.4,2670.4 C503.3,2667.0 505.3,2663.5 507.3,2660.1 C509.3,2656.7 511.3,2653.3 513.3,2649.9 C515.3,2646.5 517.3,2643.0 519.3,2639.7 C521.4,2636.3 523.4,2632.9 525.5,2629.5 C527.6,2626.1 529.8,2622.8 531.9,2619.4 C534.1,2616.1 536.2,2612.7 538.5,2609.4 C540.7,2606.1 542.9,2602.8 545.2,2599.5 C547.5,2596.3 549.9,2593.0 552.3,2589.8 C554.7,2586.7 557.1,2583.5 559.6,2580.4 C562.0,2577.3 564.5,2574.2 567.1,2571.2 C569.7,2568.1 572.3,2565.2 575.0,2562.2 C577.7,2559.3 580.4,2556.5 583.2,2553.7 C586.0,2550.9 588.9,2548.1 591.8,2545.5 C594.7,2542.8 597.7,2540.2 600.7,2537.7 C603.8,2535.2 606.9,2532.8 610.1,2530.5 C613.3,2528.1 616.6,2525.8 619.9,2523.7 C623.2,2521.5 626.6,2519.4 630.1,2517.5 C633.6,2515.5 637.2,2513.6 640.8,2511.9 C644.5,2510.1 648.2,2508.5 652.0,2507.0 C655.8,2505.6 659.6,2504.2 663.6,2503.2 C667.5,2502.1 671.5,2501.2 675.4,2500.5 C679.4,2499.9 683.5,2499.4 687.5,2499.2 C691.4,2499.1 695.4,2499.2 699.3,2499.5 C703.2,2499.9 707.0,2500.5 710.8,2501.4 C714.6,2502.2 718.3,2503.3 722.0,2504.5 C725.7,2505.8 729.3,2507.3 732.8,2508.9 C736.4,2510.5 740.0,2512.3 743.4,2514.2 C746.9,2516.2 750.3,2518.2 753.7,2520.4 C757.1,2522.5 760.4,2524.8 763.7,2527.1 C767.0,2529.4 770.2,2531.8 773.4,2534.2 C776.6,2536.7 779.8,2539.1 782.9,2541.6 C786.0,2544.1 789.1,2546.7 792.1,2549.3 C795.2,2551.8 798.2,2554.5 801.1,2557.1 C804.1,2559.8 807.0,2562.5 809.9,2565.2 C812.8,2568.0 815.6,2570.8 818.4,2573.6 C821.2,2576.4 824.0,2579.3 826.8,2582.2 C829.5,2585.1 832.2,2588.0 834.9,2590.9 C837.6,2593.9 840.2,2596.9 842.8,2599.9 C845.4,2602.9 848.0,2606.0 850.6,2609.1 C853.1,2612.2 855.7,2615.3 858.2,2618.4 C860.7,2621.5 863.2,2624.7 865.6,2627.8 C868.1,2631.0 870.5,2634.2 872.9,2637.4 C875.3,2640.6 877.7,2643.8 880.0,2647.0 C882.4,2650.3 884.7,2653.5 887.1,2656.8 C889.4,2660.0 891.7,2663.3 894.0,2666.5 C896.2,2669.8 898.5,2673.1 900.7,2676.4 C903.0,2679.7 905.2,2682.9 907.4,2686.2 C909.6,2689.5 911.8,2692.8 914.0,2696.1 C916.2,2699.4 918.4,2702.7 920.6,2705.9 C922.7,2709.2 924.9,2712.5 927.0,2715.8 C929.2,2719.1 931.3,2722.4 933.5,2725.7 C935.6,2729.0 937.8,2732.3 939.9,2735.6 C942.1,2738.9 944.2,2742.2 946.4,2745.5 C948.5,2748.8 950.7,2752.1 952.8,2755.4 C955.0,2758.7 957.1,2762.0 959.3,2765.3 C961.5,2768.6 963.7,2771.9 965.9,2775.3 C968.0,2778.6 970.3,2781.9 972.5,2785.2 C974.7,2788.6 976.9,2791.9 979.2,2795.2 C981.5,2798.6 983.7,2801.9 986.0,2805.3 C988.3,2808.7 990.6,2812.0 992.9,2815.4 C995.2,2818.7 997.6,2822.1 999.8,2825.5 C1002.1,2828.8 1004.4,2832.2 1006.7,2835.6 C1008.9,2839.0 1011.1,2842.4 1013.3,2845.8 C1015.5,2849.1 1017.6,2852.5 1019.7,2855.9 C1021.8,2859.3 1023.8,2862.7 1025.8,2866.1 C1027.8,2869.5 1029.8,2872.9 1031.7,2876.4 C1033.7,2879.8 1035.6,2883.2 1037.5,2886.6 C1039.4,2890.0 1041.3,2893.4 1043.2,2896.8 C1045.1,2900.2 1047.0,2903.6 1048.9,2907.1 C1050.8,2910.5 1052.7,2913.9 1054.6,2917.3 C1056.6,2920.7 1058.5,2924.1 1060.5,2927.5 C1062.4,2931.0 1064.4,2934.4 1066.4,2937.8 C1068.4,2941.2 1070.4,2944.6 1072.4,2948.0 C1074.4,2951.4 1076.4,2954.8 1078.5,2958.2 C1080.5,2961.6 1082.6,2965.0 1084.7,2968.4 C1086.7,2971.8 1088.8,2975.2 1090.9,2978.6 C1093.0,2982.0 1095.1,2985.3 1097.2,2988.7 C1099.3,2992.1 1101.5,2995.5 1103.6,2998.8 C1105.8,3002.2 1107.9,3005.5 1110.1,3008.9 C1112.3,3012.2 1114.5,3015.6 1116.7,3018.9 C1118.9,3022.3 1121.1,3025.6 1123.3,3028.9 C1125.6,3032.2 1127.8,3035.5 1130.1,3038.8 C1132.3,3042.1 1134.6,3045.4 1136.9,3048.7 C1139.2,3052.0 1141.5,3055.3 1143.8,3058.5 C1146.1,3061.8 1148.4,3065.1 1150.8,3068.3 C1153.1,3071.5 1155.5,3074.8 1157.9,3078.0 C1160.2,3081.2 1162.6,3084.4 1165.0,3087.6 C1167.4,3090.8 1169.8,3094.0 1172.3,3097.1 C1174.7,3100.3 1177.1,3103.4 1179.6,3106.6 C1182.1,3109.7 1184.5,3112.8 1187.0,3115.9 C1189.5,3119.0 1192.0,3122.1 1194.5,3125.2 C1197.1,3128.3 1199.6,3131.3 1202.2,3134.4 C1204.7,3137.4 1207.3,3140.5 1209.9,3143.5 C1212.5,3146.5 1215.1,3149.5 1217.7,3152.4 C1220.3,3155.4 1223.0,3158.4 1225.7,3161.3 C1228.3,3164.2 1231.0,3167.2 1233.7,3170.1 C1236.4,3172.9 1239.1,3175.8 1241.8,3178.7 C1244.6,3181.5 1247.3,3184.4 1250.1,3187.2 C1252.9,3190.0 1255.7,3192.8 1258.5,3195.6 C1261.3,3198.3 1264.1,3201.1 1267.0,3203.8 C1269.8,3206.6 1272.7,3209.3 1275.6,3212.0 C1278.4,3214.7 1281.3,3217.4 1284.3,3220.0 C1287.2,3222.7 1290.1,3225.3 1293.1,3228.0 C1296.0,3230.6 1299.0,3233.2 1302.0,3235.8 C1305.0,3238.4 1308.0,3241.0 1311.0,3243.6 C1314.0,3246.2 1317.1,3248.8 1320.1,3251.3 C1323.2,3253.9 1326.3,3256.4 1329.4,3259.0 C1332.5,3261.5 1335.6,3264.0 1338.7,3266.5 C1341.8,3269.1 1344.9,3271.6 1348.1,3274.1 C1351.3,3276.6 1354.4,3279.1 1357.6,3281.6 C1360.8,3284.1 1364.0,3286.6 1367.2,3289.0 C1370.4,3291.5 1373.7,3294.0 1376.9,3296.4 C1380.2,3298.8 1383.4,3301.3 1386.7,3303.7 C1390.0,3306.0 1393.3,3308.4 1396.6,3310.7 C1399.9,3313.1 1403.2,3315.4 1406.5,3317.6 C1409.8,3319.9 1413.2,3322.1 1416.6,3324.2 C1419.9,3326.4 1423.3,3328.5 1426.7,3330.6 C1430.1,3332.7 1433.5,3334.7 1436.9,3336.6 C1440.3,3338.6 1443.7,3340.5 1447.2,3342.3 C1450.6,3344.1 1454.0,3345.9 1457.5,3347.7 C1461.0,3349.4 1464.4,3351.1 1467.9,3352.8 C1471.4,3354.5 1474.9,3356.1 1478.4,3357.8 C1481.9,3359.5 1485.4,3361.1 1489.0,3362.8 C1492.5,3364.5 1496.0,3366.2 1499.6,3367.9 C1503.1,3369.6 1506.7,3371.4 1510.2,3373.1 C1513.8,3374.9 1517.4,3376.7 1520.9,3378.4 C1524.5,3380.2 1528.1,3382.0 1531.7,3383.8 C1535.3,3385.6 1538.9,3387.4 1542.5,3389.2 C1546.1,3391.0 1549.7,3392.7 1553.3,3394.5 C1556.9,3396.2 1560.6,3397.9 1564.2,3399.6 C1567.8,3401.3 1571.5,3403.0 1575.1,3404.7 C1578.7,3406.4 1582.4,3408.1 1586.0,3409.7 C1589.7,3411.4 1593.3,3413.0 1597.0,3414.6 C1600.7,3416.2 1604.3,3417.8 1608.0,3419.4 C1611.7,3421.0 1615.4,3422.5 1619.0,3424.1 C1622.7,3425.6 1626.4,3427.2 1630.1,3428.7 C1633.8,3430.2 1637.5,3431.7 1641.2,3433.2 C1644.9,3434.7 1648.6,3436.2 1652.3,3437.6 C1656.1,3439.1 1659.8,3440.5 1663.5,3441.9 C1667.2,3443.4 1670.9,3444.8 1674.7,3446.2 C1678.4,3447.6 1682.2,3448.9 1685.9,3450.3 C1689.6,3451.7 1693.4,3453.0 1697.1,3454.3 C1700.9,3455.7 1704.7,3457.0 1708.4,3458.3 C1712.2,3459.6 1715.9,3460.8 1719.7,3462.1 C1723.5,3463.4 1727.3,3464.6 1731.0,3465.9 C1734.8,3467.1 1738.6,3468.3 1742.4,3469.5 C1746.2,3470.7 1750.0,3471.9 1753.8,3473.1 C1757.6,3474.2 1761.4,3475.4 1765.2,3476.5 C1769.0,3477.7 1772.8,3478.8 1776.6,3479.9 C1780.4,3481.0 1784.2,3482.1 1788.0,3483.2 C1791.8,3484.3 1795.7,3485.3 1799.5,3486.4 C1803.3,3487.4 1807.2,3488.4 1811.0,3489.4 C1814.8,3490.5 1818.7,3491.5 1822.5,3492.4 C1826.3,3493.4 1830.2,3494.4 1834.0,3495.3 C1837.9,3496.3 1841.7,3497.2 1845.6,3498.2 C1849.4,3499.1 1853.3,3500.0 1857.2,3500.9 C1861.0,3501.8 1864.9,3502.7 1868.8,3503.6 C1872.6,3504.5 1876.5,3505.4 1880.4,3506.2 C1884.2,3507.1 1888.1,3507.9 1892.0,3508.8 C1895.9,3509.6 1899.8,3510.5 1903.6,3511.3 C1907.5,3512.1 1911.4,3513.0 1915.3,3513.8 C1919.2,3514.6 1923.1,3515.4 1927.0,3516.2 C1930.9,3517.0 1934.8,3517.8 1938.7,3518.6 C1942.6,3519.4 1946.5,3520.2 1950.4,3521.0 C1954.3,3521.8 1958.2,3522.5 1962.1,3523.3 C1966.0,3524.1 1969.9,3524.9 1973.8,3525.7 C1977.7,3526.4 1981.7,3527.2 1985.6,3528.0 C1989.5,3528.8 1993.4,3529.5 1997.3,3530.3 C2001.3,3531.1 2005.2,3531.9 2009.1,3532.7 C2013.0,3533.4 2017.0,3534.2 2020.9,3535.0" fill="none" stroke="#FF0000" stroke-width="7" stroke-linejoin="round" stroke-linecap="butt"/>
<path d="M264.0,3719.0 C264.5,3715.1 265.0,3711.1 265.5,3707.2 C266.0,3703.2 266.6,3699.3 267.1,3695.4 C267.6,3691.4 268.2,3687.5 268.7,3683.6 C269.2,3679.6 269.8,3675.7 270.3,3671.7 C270.9,3667.8 271.4,3663.9 272.0,3659.9 C272.5,3656.0 273.1,3652.1 273.7,3648.1 C274.3,3644.2 274.8,3640.3 275.4,3636.4 C276.0,3632.4 276.6,3628.5 277.2,3624.6 C277.8,3620.6 278.4,3616.7 279.0,3612.8 C279.6,3608.9 280.2,3604.9 280.8,3601.0 C281.4,3597.1 282.0,3593.2 282.7,3589.2 C283.3,3585.3 283.9,3581.4 284.6,3577.5 C285.2,3573.5 285.8,3569.6 286.5,3565.7 C287.1,3561.8 287.8,3557.9 288.4,3553.9 C289.1,3550.0 289.8,3546.1 290.4,3542.2 C291.1,3538.3 291.8,3534.4 292.5,3530.4 C293.1,3526.5 293.8,3522.6 294.5,3518.7 C295.2,3514.8 295.9,3510.9 296.6,3507.0 C297.3,3503.1 298.0,3499.1 298.7,3495.2 C299.4,3491.3 300.1,3487.4 300.9,3483.5 C301.6,3479.6 302.3,3475.7 303.0,3471.8 C303.8,3467.9 304.5,3464.0 305.2,3460.1 C306.0,3456.2 306.7,3452.3 307.5,3448.4 C308.2,3444.5 309.0,3440.6 309.7,3436.7 C310.5,3432.8 311.3,3428.9 312.0,3425.0 C312.8,3421.1 313.6,3417.2 314.4,3413.3 C315.2,3409.4 315.9,3405.5 316.7,3401.6 C317.5,3397.7 318.3,3393.8 319.1,3389.9 C319.9,3386.0 320.7,3382.1 321.5,3378.2 C322.3,3374.3 323.2,3370.4 324.0,3366.5 C324.8,3362.6 325.6,3358.8 326.5,3354.9 C327.3,3351.0 328.1,3347.1 329.0,3343.2 C329.8,3339.3 330.6,3335.4 331.5,3331.6 C332.3,3327.7 333.2,3323.8 334.1,3319.9 C334.9,3316.0 335.8,3312.1 336.6,3308.3 C337.5,3304.4 338.4,3300.5 339.2,3296.6 C340.1,3292.7 341.0,3288.9 341.9,3285.0 C342.7,3281.1 343.6,3277.2 344.5,3273.4 C345.4,3269.5 346.3,3265.6 347.2,3261.7 C348.0,3257.9 348.9,3254.0 349.8,3250.1 C350.7,3246.2 351.6,3242.4 352.5,3238.5 C353.4,3234.6 354.3,3230.8 355.2,3226.9 C356.0,3223.0 356.9,3219.2 357.8,3215.3 C358.7,3211.4 359.6,3207.6 360.5,3203.7 C361.4,3199.8 362.3,3196.0 363.1,3192.1 C364.0,3188.3 364.9,3184.4 365.8,3180.5 C366.7,3176.7 367.6,3172.8 368.5,3169.0 C369.4,3165.1 370.3,3161.2 371.2,3157.4 C372.1,3153.5 373.0,3149.7 373.9,3145.8 C374.8,3142.0 375.8,3138.1 376.7,3134.3 C377.6,3130.4 378.6,3126.6 379.5,3122.7 C380.5,3118.9 381.5,3115.0 382.4,3111.2 C383.4,3107.3 384.4,3103.5 385.4,3099.6 C386.4,3095.8 387.4,3091.9 388.4,3088.1 C389.5,3084.2 390.5,3080.4 391.5,3076.6 C392.6,3072.7 393.6,3068.9 394.7,3065.0 C395.7,3061.2 396.8,3057.4 397.9,3053.5 C398.9,3049.7 400.0,3045.8 401.1,3042.0 C402.2,3038.2 403.3,3034.3 404.4,3030.5 C405.4,3026.7 406.5,3022.8 407.6,3019.0 C408.7,3015.2 409.8,3011.3 410.9,3007.5 C412.0,3003.7 413.1,2999.9 414.2,2996.0 C415.3,2992.2 416.4,2988.4 417.5,2984.5 C418.6,2980.7 419.7,2976.9 420.8,2973.1 C421.9,2969.2 423.0,2965.4 424.0,2961.6 C425.1,2957.8 426.2,2954.0 427.3,2950.1 C428.3,2946.3 429.4,2942.5 430.5,2938.7 C431.5,2934.9 432.6,2931.1 433.6,2927.2 C434.6,2923.4 435.7,2919.6 436.7,2915.8 C438.9,2912.6 441.1,2909.5 443.3,2906.3 C445.5,2903.1 447.6,2899.9 449.8,2896.7 C451.9,2893.5 454.1,2890.3 456.2,2887.1 C458.3,2883.9 460.4,2880.6 462.5,2877.4 C464.7,2874.1 466.7,2870.9 468.8,2867.6 C470.9,2864.4 473.0,2861.1 475.1,2857.9 C477.2,2854.6 479.3,2851.4 481.4,2848.1 C483.5,2844.8 485.6,2841.6 487.7,2838.3 C489.8,2835.1 491.9,2831.8 494.0,2828.6 C496.1,2825.3 498.2,2822.1 500.3,2818.8 C502.5,2815.6 504.6,2812.3 506.8,2809.1 C508.9,2805.9 511.1,2802.7 513.3,2799.5 C515.5,2796.3 517.7,2793.1 519.9,2789.9 C522.1,2786.7 524.3,2783.5 526.6,2780.4 C528.9,2777.2 531.2,2774.1 533.5,2771.0 C535.8,2767.9 538.1,2764.8 540.5,2761.7 C542.9,2758.6 545.3,2755.6 547.7,2752.5 C550.1,2749.5 552.6,2746.5 555.1,2743.5 C557.6,2740.6 560.1,2737.6 562.6,2734.7 C565.2,2731.8 567.8,2729.0 570.4,2726.2 C573.1,2723.3 575.7,2720.5 578.4,2717.8 C581.1,2715.1 583.9,2712.4 586.7,2709.7 C589.5,2707.1 592.3,2704.5 595.2,2701.9 C598.1,2699.4 601.0,2696.9 604.0,2694.4 C607.0,2692.0 610.0,2689.6 613.1,2687.3 C616.2,2685.0 619.3,2682.7 622.5,2680.5 C625.6,2678.4 628.9,2676.3 632.2,2674.2 C635.4,2672.2 638.8,2670.2 642.2,2668.4 C645.6,2666.5 649.0,2664.7 652.6,2663.1 C656.1,2661.4 659.7,2659.9 663.3,2658.3 C666.7,2660.3 670.1,2662.3 673.5,2664.4 C676.9,2666.4 680.2,2668.5 683.6,2670.7 C686.9,2672.8 690.3,2675.0 693.6,2677.2 C696.9,2679.4 700.2,2681.6 703.4,2683.9 C706.7,2686.1 710.0,2688.4 713.2,2690.7 C716.5,2693.1 719.7,2695.4 722.9,2697.8 C726.1,2700.1 729.3,2702.5 732.5,2704.9 C735.7,2707.3 738.8,2709.7 742.0,2712.2 C745.2,2714.6 748.3,2717.1 751.4,2719.6 C754.6,2722.0 757.7,2724.5 760.8,2727.0 C763.9,2729.5 767.0,2732.1 770.1,2734.6 C773.2,2737.1 776.2,2739.7 779.3,2742.2 C782.4,2744.8 785.4,2747.4 788.4,2749.9 C791.5,2752.5 794.5,2755.1 797.6,2757.7 C800.6,2760.3 803.6,2762.9 806.6,2765.5 C809.6,2768.2 812.6,2770.8 815.6,2773.4 C818.6,2776.0 821.6,2778.7 824.6,2781.3 C827.6,2784.0 830.5,2786.6 833.5,2789.2 C836.5,2791.9 839.5,2794.5 842.4,2797.2 C845.4,2799.9 848.3,2802.5 851.2,2805.2 C854.2,2807.9 857.1,2810.6 860.0,2813.3 C863.0,2816.0 865.9,2818.7 868.8,2821.4 C871.7,2824.1 874.5,2826.8 877.4,2829.6 C880.3,2832.3 883.2,2835.0 886.0,2837.8 C888.9,2840.6 891.7,2843.3 894.5,2846.1 C897.4,2848.9 900.2,2851.7 903.0,2854.5 C905.8,2857.3 908.6,2860.1 911.3,2863.0 C914.1,2865.8 916.9,2868.7 919.6,2871.5 C922.3,2874.4 925.1,2877.3 927.8,2880.2 C930.5,2883.1 933.2,2886.0 935.8,2888.9 C938.5,2891.9 941.2,2894.8 943.8,2897.8 C946.4,2900.8 949.1,2903.7 951.7,2906.7 C954.3,2909.7 956.9,2912.7 959.5,2915.8 C962.0,2918.8 964.6,2921.8 967.2,2924.9 C969.7,2927.9 972.3,2931.0 974.8,2934.0 C977.4,2937.1 979.9,2940.2 982.4,2943.3 C985.0,2946.3 987.5,2949.4 990.0,2952.5 C992.5,2955.6 995.0,2958.7 997.6,2961.8 C1000.1,2964.9 1002.6,2968.0 1005.1,2971.1 C1007.6,2974.2 1010.1,2977.3 1012.6,2980.4 C1015.1,2983.5 1017.6,2986.6 1020.2,2989.7 C1022.7,2992.8 1025.2,2995.9 1027.7,2999.0 C1030.2,3002.1 1032.8,3005.1 1035.3,3008.2 C1037.9,3011.3 1040.4,3014.4 1043.0,3017.4 C1045.5,3020.5 1048.1,3023.5 1050.6,3026.6 C1053.2,3029.6 1055.8,3032.6 1058.4,3035.7 C1061.0,3038.7 1063.6,3041.7 1066.2,3044.7 C1068.9,3047.6 1071.5,3050.6 1074.2,3053.6 C1076.8,3056.5 1079.5,3059.5 1082.2,3062.4 C1084.9,3065.3 1087.6,3068.2 1090.3,3071.1 C1093.1,3074.0 1095.8,3076.9 1098.6,3079.7 C1101.4,3082.6 1104.1,3085.4 1106.9,3088.3 C1109.7,3091.1 1112.6,3093.9 1115.4,3096.7 C1118.2,3099.5 1121.0,3102.3 1123.9,3105.0 C1126.7,3107.8 1129.6,3110.6 1132.5,3113.3 C1135.4,3116.1 1138.2,3118.8 1141.1,3121.5 C1144.0,3124.3 1146.9,3127.0 1149.8,3129.7 C1152.7,3132.4 1155.7,3135.2 1158.6,3137.9 C1161.5,3140.6 1164.4,3143.3 1167.4,3146.0 C1170.3,3148.7 1173.2,3151.3 1176.2,3154.0 C1179.1,3156.7 1182.1,3159.4 1185.0,3162.1 C1187.9,3164.8 1190.9,3167.5 1193.8,3170.2 C1196.8,3172.8 1199.7,3175.5 1202.7,3178.2 C1205.6,3180.9 1208.6,3183.6 1211.5,3186.3 C1214.4,3189.0 1217.4,3191.7 1220.3,3194.3 C1223.3,3197.0 1226.2,3199.7 1229.2,3202.4 C1232.1,3205.1 1235.1,3207.8 1238.0,3210.4 C1241.0,3213.1 1244.0,3215.8 1246.9,3218.4 C1249.9,3221.1 1252.9,3223.7 1255.9,3226.3 C1258.9,3229.0 1261.9,3231.6 1264.9,3234.2 C1267.9,3236.8 1270.9,3239.4 1274.0,3242.0 C1277.0,3244.6 1280.1,3247.2 1283.1,3249.7 C1286.2,3252.2 1289.3,3254.8 1292.4,3257.3 C1295.5,3259.8 1298.6,3262.3 1301.8,3264.7 C1304.9,3267.2 1308.1,3269.6 1311.3,3272.0 C1314.5,3274.4 1317.7,3276.8 1320.9,3279.1 C1324.1,3281.4 1327.4,3283.7 1330.6,3286.0 C1333.9,3288.3 1337.2,3290.5 1340.5,3292.7 C1343.9,3294.9 1347.2,3297.1 1350.6,3299.2 C1353.9,3301.4 1357.3,3303.5 1360.7,3305.6 C1364.1,3307.7 1367.5,3309.7 1370.9,3311.8 C1374.3,3313.8 1377.8,3315.8 1381.2,3317.8 C1384.7,3319.8 1388.2,3321.7 1391.6,3323.7 C1395.1,3325.6 1398.6,3327.5 1402.1,3329.4 C1405.6,3331.3 1409.1,3333.2 1412.6,3335.1 C1416.2,3336.9 1419.7,3338.8 1423.2,3340.6 C1426.7,3342.4 1430.3,3344.2 1433.8,3346.0 C1437.4,3347.8 1440.9,3349.5 1444.5,3351.3 C1448.0,3353.1 1451.6,3354.8 1455.1,3356.5 C1458.7,3358.3 1462.2,3360.0 1465.8,3361.7 C1469.3,3363.4 1472.9,3365.1 1476.5,3366.8 C1480.0,3368.5 1483.6,3370.2 1487.2,3371.8 C1490.8,3373.5 1494.4,3375.2 1497.9,3376.8 C1501.5,3378.5 1505.1,3380.2 1508.7,3381.8 C1512.3,3383.5 1515.9,3385.1 1519.5,3386.8 C1523.1,3388.4 1526.7,3390.1 1530.3,3391.7 C1533.9,3393.4 1537.5,3395.0 1541.1,3396.7 C1544.8,3398.3 1548.4,3400.0 1552.0,3401.6 C1555.6,3403.3 1559.3,3405.0 1562.9,3406.6 C1566.5,3408.3 1570.2,3409.9 1573.8,3411.6 C1577.4,3413.2 1581.1,3414.9 1584.7,3416.5 C1588.4,3418.2 1592.1,3419.8 1595.7,3421.5 C1599.4,3423.1 1603.1,3424.7 1606.7,3426.3 C1610.4,3427.9 1614.1,3429.5 1617.8,3431.1 C1621.4,3432.7 1625.1,3434.3 1628.8,3435.9 C1632.5,3437.4 1636.2,3439.0 1639.9,3440.5 C1643.6,3442.1 1647.3,3443.6 1651.0,3445.1 C1654.8,3446.6 1658.5,3448.1 1662.2,3449.5 C1665.9,3451.0 1669.7,3452.4 1673.4,3453.8 C1677.1,3455.3 1680.9,3456.6 1684.6,3458.0 C1688.4,3459.4 1692.1,3460.7 1695.9,3462.1 C1699.7,3463.4 1703.4,3464.7 1707.2,3466.0 C1711.0,3467.2 1714.8,3468.5 1718.5,3469.7 C1722.3,3471.0 1726.1,3472.2 1729.9,3473.4 C1733.7,3474.6 1737.5,3475.7 1741.3,3476.9 C1745.1,3478.1 1748.9,3479.2 1752.7,3480.3 C1756.5,3481.4 1760.3,3482.5 1764.2,3483.6 C1768.0,3484.7 1771.8,3485.8 1775.6,3486.8 C1779.5,3487.9 1783.3,3488.9 1787.1,3489.9 C1791.0,3490.9 1794.8,3491.9 1798.7,3492.9 C1802.5,3493.9 1806.4,3494.9 1810.2,3495.8 C1814.1,3496.8 1817.9,3497.7 1821.8,3498.7 C1825.6,3499.6 1829.5,3500.5 1833.4,3501.4 C1837.2,3502.3 1841.1,3503.2 1845.0,3504.1 C1848.9,3505.0 1852.7,3505.8 1856.6,3506.7 C1860.5,3507.5 1864.4,3508.4 1868.3,3509.2 C1872.1,3510.0 1876.0,3510.9 1879.9,3511.7 C1883.8,3512.5 1887.7,3513.3 1891.6,3514.1 C1895.5,3514.9 1899.4,3515.7 1903.3,3516.5 C1907.2,3517.3 1911.1,3518.0 1915.0,3518.8 C1918.9,3519.6 1922.8,3520.3 1926.8,3521.1 C1930.7,3521.8 1934.6,3522.6 1938.5,3523.3 C1942.4,3524.1 1946.3,3524.8 1950.2,3525.6 C1954.2,3526.3 1958.1,3527.0 1962.0,3527.8 C1965.9,3528.5 1969.8,3529.2 1973.8,3529.9 C1977.7,3530.6 1981.6,3531.4 1985.5,3532.1 C1989.5,3532.8 1993.4,3533.5 1997.3,3534.2 C2001.2,3534.9 2005.2,3535.6 2009.1,3536.4 C2013.0,3537.1 2017.0,3537.8 2020.9,3538.5" fill="none" stroke="#000000" stroke-width="7" stroke-linejoin="round" stroke-linecap="butt"/>
<g transform="translate(-2,2031.5)">
<line x1="602.5" y1="172.5" x2="602.5" y2="1821" stroke="#000" stroke-opacity="0.95" stroke-width="2.2"/>
<line x1="938.8" y1="172.5" x2="938.8" y2="1821" stroke="#000" stroke-opacity="0.6" stroke-width="3.5"/>
<line x1="1274" y1="172.5" x2="1274" y2="1821" stroke="#000" stroke-opacity="0.75" stroke-width="2.6"/>
<line x1="1608.8" y1="172.5" x2="1608.8" y2="1821" stroke="#000" stroke-opacity="0.9" stroke-width="2.4"/>
<line x1="1943.6" y1="172.5" x2="1943.6" y2="1821" stroke="#000" stroke-opacity="0.45" stroke-width="4"/>
<line x1="264" y1="501.1" x2="2093" y2="501.1" stroke="#000" stroke-opacity="0.9" stroke-width="2.5"/>
<line x1="264" y1="831.1" x2="2093" y2="831.1" stroke="#000" stroke-opacity="0.9" stroke-width="2.5"/>
<line x1="264" y1="1162.1" x2="2093" y2="1162.1" stroke="#000" stroke-opacity="0.75" stroke-width="3"/>
<line x1="264" y1="1490.5" x2="2093" y2="1490.5" stroke="#000" stroke-opacity="0.9" stroke-width="2.5"/>
<rect x="264" y="172.5" width="1829" height="1648.5" fill="none" stroke="#000" stroke-width="3.5"/>
<rect x="1171.7" y="212.7" width="877" height="230.3" fill="#fff" stroke="#000" stroke-width="4"/>
<text x="1194.5" y="277.3" font-size="55.5" textLength="300.5" lengthAdjust="spacingAndGlyphs" style="font-family:'Liberation Serif', serif" >Avg Temp a1</text>
<rect x="1515" y="254.7" width="49.5" height="16.0" fill="#000000"/>
<text x="1194.5" y="339.0" font-size="55.5" textLength="300.2" lengthAdjust="spacingAndGlyphs" style="font-family:'Liberation Serif', serif" >Avg Temp a2</text>
<rect x="1515" y="316.8" width="49.5" height="15.9" fill="#FF8C00"/>
<text x="1194.5" y="401.0" font-size="55.5" textLength="299.4" lengthAdjust="spacingAndGlyphs" style="font-family:'Liberation Serif', serif" >Avg Temp a3</text>
<rect x="1515" y="379.0" width="49.5" height="16.0" fill="#00A52A"/>
<text x="1641.2" y="277.3" font-size="55.5" textLength="300.9" lengthAdjust="spacingAndGlyphs" style="font-family:'Liberation Serif', serif" >Avg Temp a4</text>
<rect x="1972.2" y="254.7" width="51.0" height="16.0" fill="#0070C0"/>
<text x="1641.2" y="339.0" font-size="55.5" textLength="302.2" lengthAdjust="spacingAndGlyphs" style="font-family:'Liberation Serif', serif" >Avg Temp a5</text>
<rect x="1972.2" y="316.8" width="51.0" height="15.9" fill="#D7101E"/>
<text x="1641.2" y="401.0" font-size="55.5" textLength="301.7" lengthAdjust="spacingAndGlyphs" style="font-family:'Liberation Serif', serif" >Avg Temp a6</text>
<rect x="1972.2" y="379.0" width="51.0" height="16.0" fill="#FF0000"/>
</g>
<text x="1026.9" y="2121.0" font-size="60" textLength="167.8" lengthAdjust="spacingAndGlyphs" style="font-family:'Liberation Sans', sans-serif" >Case 2</text>
<text x="138.2" y="2225.6" font-size="66" textLength="96.7" lengthAdjust="spacingAndGlyphs" style="font-family:'Liberation Serif', serif" >250</text>
<text x="138.2" y="2554.0" font-size="66" textLength="96.7" lengthAdjust="spacingAndGlyphs" style="font-family:'Liberation Serif', serif" >200</text>
<text x="136.0" y="2887.3" font-size="66" textLength="98.9" lengthAdjust="spacingAndGlyphs" style="font-family:'Liberation Serif', serif" >150</text>
<text x="136.0" y="3209.0" font-size="66" textLength="98.9" lengthAdjust="spacingAndGlyphs" style="font-family:'Liberation Serif', serif" >100</text>
<text x="166.0" y="3543.8" font-size="66" textLength="69.0" lengthAdjust="spacingAndGlyphs" style="font-family:'Liberation Serif', serif" >50</text>
<text x="200.5" y="3885.0" font-size="66" textLength="32.3" lengthAdjust="spacingAndGlyphs" style="font-family:'Liberation Serif', serif" >0</text>
<text x="218.5" y="3938.4" font-size="66" textLength="141.8" lengthAdjust="spacingAndGlyphs" style="font-family:'Liberation Serif', serif" >10:30</text>
<text x="553.0" y="3941.0" font-size="66" textLength="144.4" lengthAdjust="spacingAndGlyphs" style="font-family:'Liberation Serif', serif" >13:30</text>
<text x="886.9" y="3935.5" font-size="66" textLength="144.5" lengthAdjust="spacingAndGlyphs" style="font-family:'Liberation Serif', serif" >16:30</text>
<text x="1224.2" y="3935.5" font-size="66" textLength="143.4" lengthAdjust="spacingAndGlyphs" style="font-family:'Liberation Serif', serif" >19:30</text>
<text x="1561.7" y="3941.0" font-size="66" textLength="142.6" lengthAdjust="spacingAndGlyphs" style="font-family:'Liberation Serif', serif" >21:30</text>
<text x="1897.2" y="3937.0" font-size="66" textLength="143.2" lengthAdjust="spacingAndGlyphs" style="font-family:'Liberation Serif', serif" >23:30</text>
<text x="908.1" y="4038.7" font-size="66" textLength="529.4" lengthAdjust="spacingAndGlyphs" style="font-family:'Liberation Serif', serif" >Time of day [hour]</text>
<text transform="translate(105.0,3265.5) rotate(-90)" x="-1.2" y="0" font-size="66" textLength="483.8" lengthAdjust="spacingAndGlyphs" style="font-family:'Liberation Serif', serif">Temperature [°C]</text>
<rect x="262" y="3850.5" width="1850.6" height="5" fill="#0070C0"/>
<line x1="262" y1="3852.5" x2="2091" y2="3852.5" stroke="#000" stroke-width="3.5"/>
</svg>
</body></html>
